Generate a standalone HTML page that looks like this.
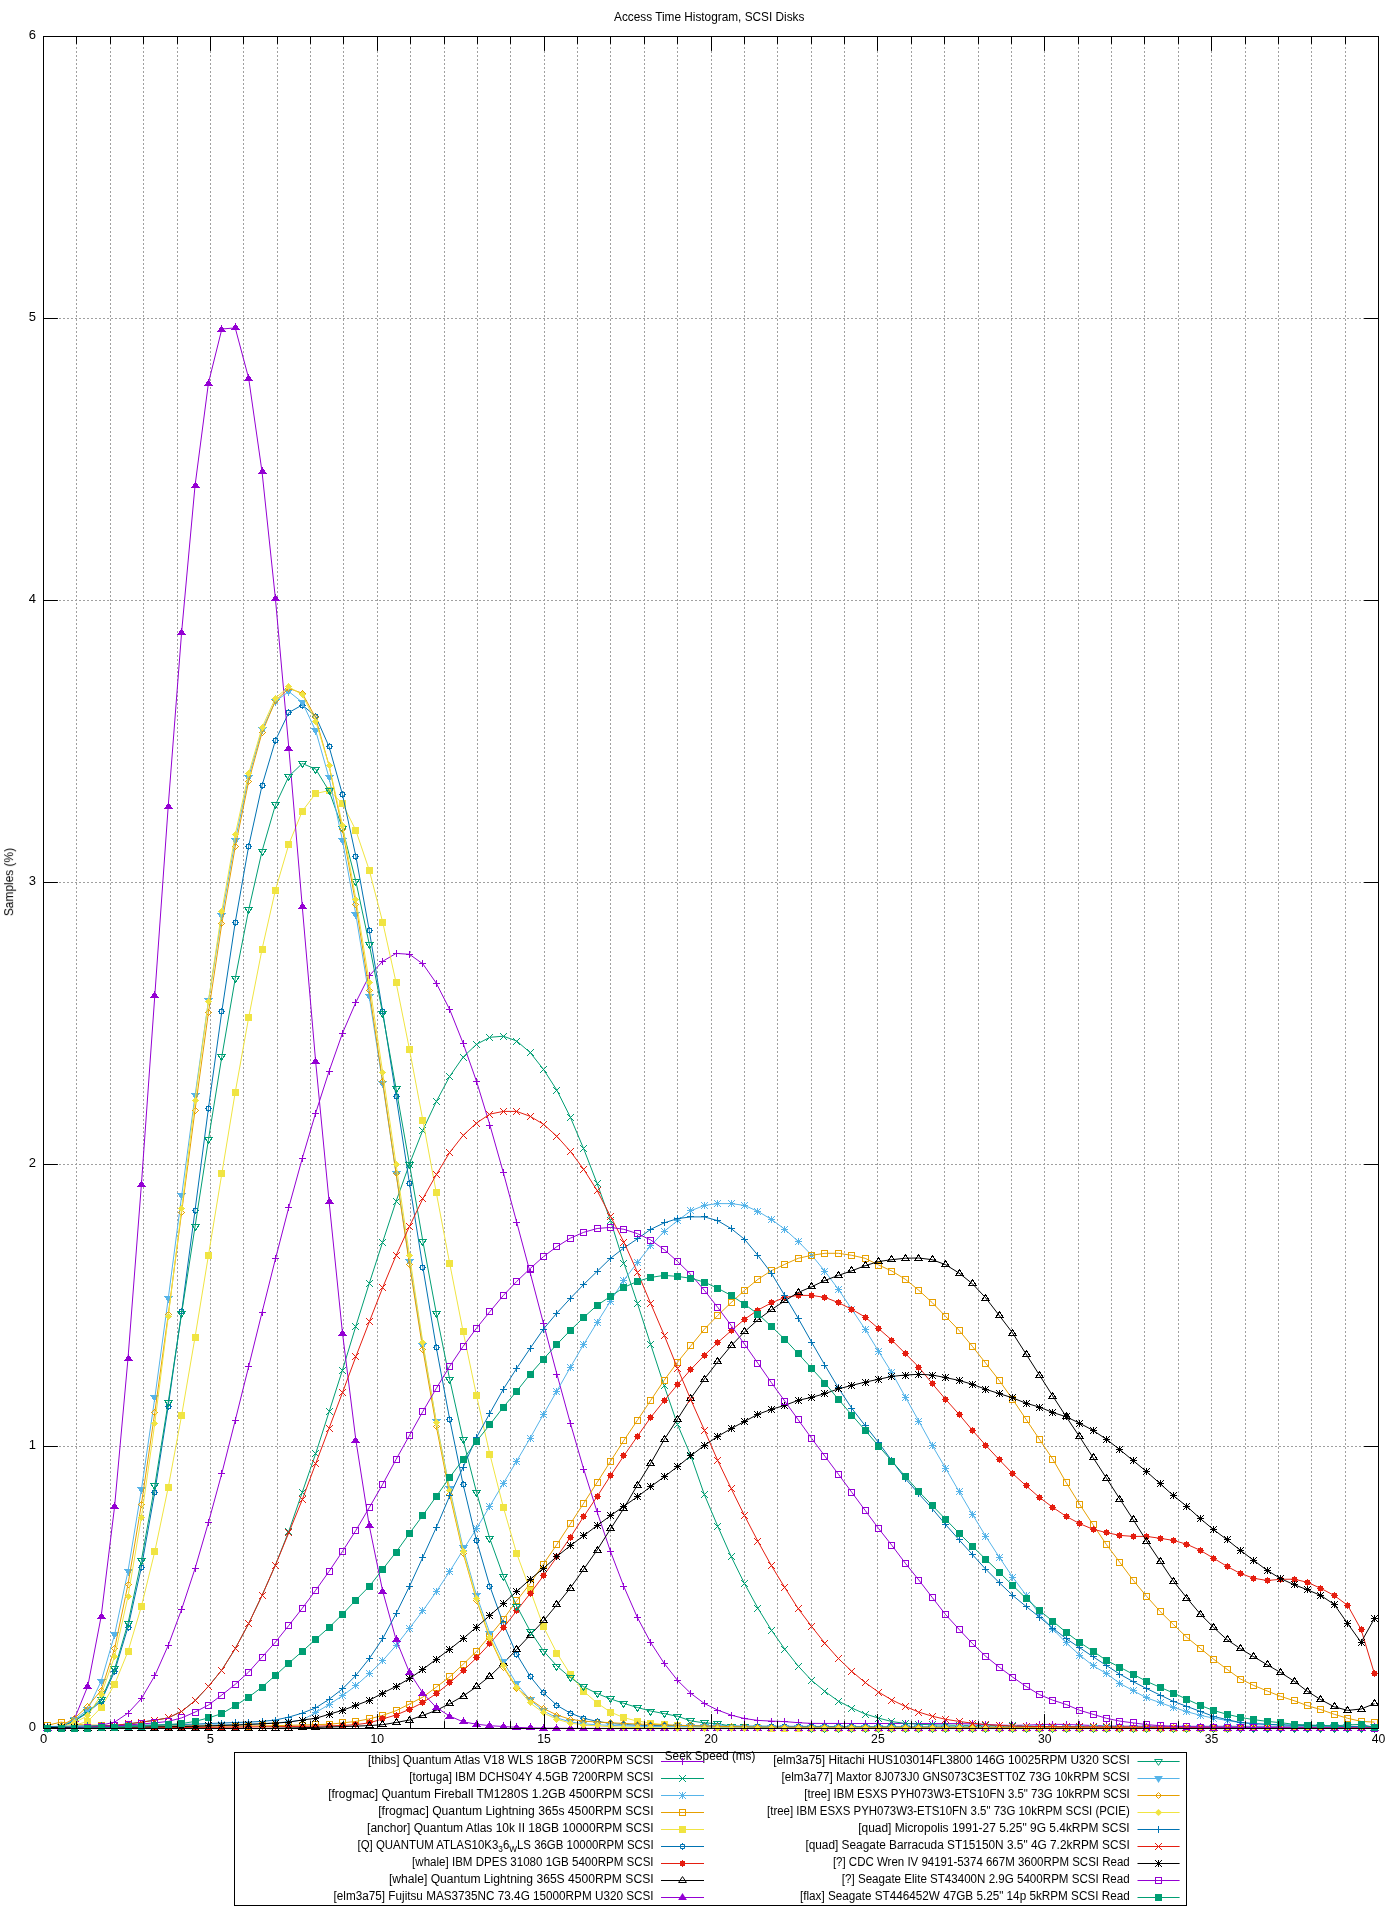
<!DOCTYPE html>
<html><head><meta charset="utf-8"><style>html,body{margin:0;padding:0;background:#fff}svg{display:block}</style></head><body>
<svg width="1400" height="1920" viewBox="0 0 1400 1920">
<rect width="1400" height="1920" fill="#fff"/>
<path d="M76.5 37V1728M110.5 37V1728M143.5 37V1728M177.5 37V1728M210.5 37V1728M243.5 37V1728M277.5 37V1728M310.5 37V1728M343.5 37V1728M377.5 37V1728M410.5 37V1728M444.5 37V1728M477.5 37V1728M510.5 37V1728M544.5 37V1728M577.5 37V1728M610.5 37V1728M644.5 37V1728M677.5 37V1728M711.5 37V1728M744.5 37V1728M777.5 37V1728M811.5 37V1728M844.5 37V1728M877.5 37V1728M911.5 37V1728M944.5 37V1728M978.5 37V1728M1011.5 37V1728M1044.5 37V1728M1078.5 37V1728M1111.5 37V1728M1144.5 37V1728M1178.5 37V1728M1211.5 37V1728M1245.5 37V1728M1278.5 37V1728M1311.5 37V1728M1345.5 37V1728" stroke="#a0a0a0" stroke-width="1" stroke-dasharray="2 2" stroke-dashoffset="2" fill="none"/>
<path d="M44 1446.5H1378M44 1164.5H1378M44 882.5H1378M44 600.5H1378M44 318.5H1378" stroke="#a0a0a0" stroke-width="1" stroke-dasharray="2 2" stroke-dashoffset="1" fill="none"/>
<g font-family="&quot;Liberation Sans&quot;, sans-serif" font-size="13" fill="#000" style="will-change:transform">
<text x="36.1" y="1730.9" text-anchor="end">0</text>
<text x="36.1" y="1448.9" text-anchor="end">1</text>
<text x="36.1" y="1166.9" text-anchor="end">2</text>
<text x="36.1" y="884.9" text-anchor="end">3</text>
<text x="36.1" y="602.9" text-anchor="end">4</text>
<text x="36.1" y="320.9" text-anchor="end">5</text>
<text x="36.1" y="38.9" text-anchor="end">6</text>
<text x="43.5" y="1743" text-anchor="middle">0</text>
<text x="210.4" y="1743" text-anchor="middle">5</text>
<text x="377.2" y="1743" text-anchor="middle" textLength="13.6" lengthAdjust="spacingAndGlyphs">10</text>
<text x="544.1" y="1743" text-anchor="middle" textLength="13.6" lengthAdjust="spacingAndGlyphs">15</text>
<text x="711.0" y="1743" text-anchor="middle" textLength="13.6" lengthAdjust="spacingAndGlyphs">20</text>
<text x="877.9" y="1743" text-anchor="middle" textLength="13.6" lengthAdjust="spacingAndGlyphs">25</text>
<text x="1044.8" y="1743" text-anchor="middle" textLength="13.6" lengthAdjust="spacingAndGlyphs">30</text>
<text x="1211.6" y="1743" text-anchor="middle" textLength="13.6" lengthAdjust="spacingAndGlyphs">35</text>
<text x="1378.5" y="1743" text-anchor="middle" textLength="13.6" lengthAdjust="spacingAndGlyphs">40</text>
<text x="709.2" y="20.9" text-anchor="middle" textLength="190.4" lengthAdjust="spacingAndGlyphs">Access Time Histogram, SCSI Disks</text>
<text x="710.1" y="1760.2" text-anchor="middle" textLength="90.6" lengthAdjust="spacingAndGlyphs">Seek Speed (ms)</text>
<text transform="translate(13.1 882.1) rotate(-90)" text-anchor="middle" textLength="68.2" lengthAdjust="spacingAndGlyphs">Samples (%)</text>
</g>
<rect x="234.5" y="1752.5" width="952" height="153" fill="none" stroke="#000" stroke-width="1"/>
<g>
<path d="M661 1761.5H704" stroke="#9400d3" stroke-width="1"/>
<path d="M679.00 1761.50h7M682.50 1758.00v7" stroke="#9400d3" fill="none"/>
<text style="will-change:transform" x="653.6" y="1763.8" text-anchor="end" font-family="&quot;Liberation Sans&quot;, sans-serif" font-size="12.5" textLength="285.7" lengthAdjust="spacingAndGlyphs">[thibs] Quantum Atlas V18 WLS 18GB 7200RPM SCSI</text>
<polyline points="47.60,1728.50 61.00,1728.39 74.41,1728.05 87.81,1727.50 101.21,1725.20 114.62,1722.10 128.02,1713.10 141.42,1698.60 154.82,1675.70 168.23,1645.40 181.63,1609.30 195.03,1568.60 208.44,1522.50 221.84,1473.30 235.24,1420.40 248.65,1366.60 262.05,1312.30 275.45,1258.90 288.85,1207.10 302.26,1158.40 315.66,1113.00 329.06,1071.30 342.47,1033.20 355.87,1002.30 369.27,975.70 382.68,961.30 396.08,953.40 409.48,954.30 422.88,963.90 436.29,983.20 449.69,1009.50 463.09,1043.20 476.50,1081.30 489.90,1125.10 503.30,1172.40 516.71,1222.30 530.11,1272.50 543.51,1323.60 556.91,1374.20 570.32,1423.00 583.72,1469.30 597.12,1511.90 610.53,1551.50 623.93,1586.70 637.33,1617.40 650.74,1642.60 664.14,1663.30 677.54,1680.40 690.94,1693.50 704.35,1703.50 717.75,1710.10 731.15,1715.10 744.56,1718.60 757.96,1720.40 771.36,1721.10 784.77,1721.60 798.17,1722.70 811.57,1723.40 824.97,1723.44 838.38,1723.47 851.78,1723.49 865.18,1723.50 878.59,1723.51 891.99,1723.51 905.39,1723.52 918.80,1723.53 932.20,1723.54 945.60,1723.57 959.00,1723.60 972.41,1723.90 985.81,1724.52 999.21,1725.13 1012.62,1725.40 1026.02,1725.11 1039.42,1724.59 1052.83,1724.30 1066.23,1724.49 1079.63,1724.96 1093.03,1725.51 1106.44,1725.99 1119.84,1726.20 1133.24,1726.22 1146.65,1726.25 1160.05,1726.27 1173.45,1726.29 1186.86,1726.30 1200.26,1726.32 1213.66,1726.33 1227.06,1726.34 1240.47,1726.35 1253.87,1726.36 1267.27,1726.37 1280.68,1726.38 1294.08,1726.39 1307.48,1726.39 1320.88,1726.39 1334.29,1726.40 1347.69,1726.40 1361.09,1726.40 1374.50,1726.40" stroke="#9400d3" stroke-width="1" fill="none" stroke-linejoin="round"/>
<g shape-rendering="crispEdges"><path d="M44.00 1728.50h7M47.50 1725.00v7" stroke="#9400d3" fill="none"/><path d="M58.00 1728.50h7M61.50 1725.00v7" stroke="#9400d3" fill="none"/><path d="M71.00 1728.50h7M74.50 1725.00v7" stroke="#9400d3" fill="none"/><path d="M84.00 1727.50h7M87.50 1724.00v7" stroke="#9400d3" fill="none"/><path d="M98.00 1725.50h7M101.50 1722.00v7" stroke="#9400d3" fill="none"/><path d="M111.00 1722.50h7M114.50 1719.00v7" stroke="#9400d3" fill="none"/><path d="M125.00 1713.50h7M128.50 1710.00v7" stroke="#9400d3" fill="none"/><path d="M138.00 1698.50h7M141.50 1695.00v7" stroke="#9400d3" fill="none"/><path d="M151.00 1675.50h7M154.50 1672.00v7" stroke="#9400d3" fill="none"/><path d="M165.00 1645.50h7M168.50 1642.00v7" stroke="#9400d3" fill="none"/><path d="M178.00 1609.50h7M181.50 1606.00v7" stroke="#9400d3" fill="none"/><path d="M192.00 1568.50h7M195.50 1565.00v7" stroke="#9400d3" fill="none"/><path d="M205.00 1522.50h7M208.50 1519.00v7" stroke="#9400d3" fill="none"/><path d="M218.00 1473.50h7M221.50 1470.00v7" stroke="#9400d3" fill="none"/><path d="M232.00 1420.50h7M235.50 1417.00v7" stroke="#9400d3" fill="none"/><path d="M245.00 1366.50h7M248.50 1363.00v7" stroke="#9400d3" fill="none"/><path d="M259.00 1312.50h7M262.50 1309.00v7" stroke="#9400d3" fill="none"/><path d="M272.00 1258.50h7M275.50 1255.00v7" stroke="#9400d3" fill="none"/><path d="M285.00 1207.50h7M288.50 1204.00v7" stroke="#9400d3" fill="none"/><path d="M299.00 1158.50h7M302.50 1155.00v7" stroke="#9400d3" fill="none"/><path d="M312.00 1113.50h7M315.50 1110.00v7" stroke="#9400d3" fill="none"/><path d="M326.00 1071.50h7M329.50 1068.00v7" stroke="#9400d3" fill="none"/><path d="M339.00 1033.50h7M342.50 1030.00v7" stroke="#9400d3" fill="none"/><path d="M352.00 1002.50h7M355.50 999.00v7" stroke="#9400d3" fill="none"/><path d="M366.00 975.50h7M369.50 972.00v7" stroke="#9400d3" fill="none"/><path d="M379.00 961.50h7M382.50 958.00v7" stroke="#9400d3" fill="none"/><path d="M393.00 953.50h7M396.50 950.00v7" stroke="#9400d3" fill="none"/><path d="M406.00 954.50h7M409.50 951.00v7" stroke="#9400d3" fill="none"/><path d="M419.00 963.50h7M422.50 960.00v7" stroke="#9400d3" fill="none"/><path d="M433.00 983.50h7M436.50 980.00v7" stroke="#9400d3" fill="none"/><path d="M446.00 1009.50h7M449.50 1006.00v7" stroke="#9400d3" fill="none"/><path d="M460.00 1043.50h7M463.50 1040.00v7" stroke="#9400d3" fill="none"/><path d="M473.00 1081.50h7M476.50 1078.00v7" stroke="#9400d3" fill="none"/><path d="M486.00 1125.50h7M489.50 1122.00v7" stroke="#9400d3" fill="none"/><path d="M500.00 1172.50h7M503.50 1169.00v7" stroke="#9400d3" fill="none"/><path d="M513.00 1222.50h7M516.50 1219.00v7" stroke="#9400d3" fill="none"/><path d="M527.00 1272.50h7M530.50 1269.00v7" stroke="#9400d3" fill="none"/><path d="M540.00 1323.50h7M543.50 1320.00v7" stroke="#9400d3" fill="none"/><path d="M553.00 1374.50h7M556.50 1371.00v7" stroke="#9400d3" fill="none"/><path d="M567.00 1423.50h7M570.50 1420.00v7" stroke="#9400d3" fill="none"/><path d="M580.00 1469.50h7M583.50 1466.00v7" stroke="#9400d3" fill="none"/><path d="M594.00 1511.50h7M597.50 1508.00v7" stroke="#9400d3" fill="none"/><path d="M607.00 1551.50h7M610.50 1548.00v7" stroke="#9400d3" fill="none"/><path d="M620.00 1586.50h7M623.50 1583.00v7" stroke="#9400d3" fill="none"/><path d="M634.00 1617.50h7M637.50 1614.00v7" stroke="#9400d3" fill="none"/><path d="M647.00 1642.50h7M650.50 1639.00v7" stroke="#9400d3" fill="none"/><path d="M661.00 1663.50h7M664.50 1660.00v7" stroke="#9400d3" fill="none"/><path d="M674.00 1680.50h7M677.50 1677.00v7" stroke="#9400d3" fill="none"/><path d="M687.00 1693.50h7M690.50 1690.00v7" stroke="#9400d3" fill="none"/><path d="M701.00 1703.50h7M704.50 1700.00v7" stroke="#9400d3" fill="none"/><path d="M714.00 1710.50h7M717.50 1707.00v7" stroke="#9400d3" fill="none"/><path d="M728.00 1715.50h7M731.50 1712.00v7" stroke="#9400d3" fill="none"/><path d="M741.00 1718.50h7M744.50 1715.00v7" stroke="#9400d3" fill="none"/><path d="M754.00 1720.50h7M757.50 1717.00v7" stroke="#9400d3" fill="none"/><path d="M768.00 1721.50h7M771.50 1718.00v7" stroke="#9400d3" fill="none"/><path d="M781.00 1721.50h7M784.50 1718.00v7" stroke="#9400d3" fill="none"/><path d="M795.00 1722.50h7M798.50 1719.00v7" stroke="#9400d3" fill="none"/><path d="M808.00 1723.50h7M811.50 1720.00v7" stroke="#9400d3" fill="none"/><path d="M821.00 1723.50h7M824.50 1720.00v7" stroke="#9400d3" fill="none"/><path d="M835.00 1723.50h7M838.50 1720.00v7" stroke="#9400d3" fill="none"/><path d="M848.00 1723.50h7M851.50 1720.00v7" stroke="#9400d3" fill="none"/><path d="M862.00 1723.50h7M865.50 1720.00v7" stroke="#9400d3" fill="none"/><path d="M875.00 1723.50h7M878.50 1720.00v7" stroke="#9400d3" fill="none"/><path d="M888.00 1723.50h7M891.50 1720.00v7" stroke="#9400d3" fill="none"/><path d="M902.00 1723.50h7M905.50 1720.00v7" stroke="#9400d3" fill="none"/><path d="M915.00 1723.50h7M918.50 1720.00v7" stroke="#9400d3" fill="none"/><path d="M929.00 1723.50h7M932.50 1720.00v7" stroke="#9400d3" fill="none"/><path d="M942.00 1723.50h7M945.50 1720.00v7" stroke="#9400d3" fill="none"/><path d="M956.00 1723.50h7M959.50 1720.00v7" stroke="#9400d3" fill="none"/><path d="M969.00 1723.50h7M972.50 1720.00v7" stroke="#9400d3" fill="none"/><path d="M982.00 1724.50h7M985.50 1721.00v7" stroke="#9400d3" fill="none"/><path d="M996.00 1725.50h7M999.50 1722.00v7" stroke="#9400d3" fill="none"/><path d="M1009.00 1725.50h7M1012.50 1722.00v7" stroke="#9400d3" fill="none"/><path d="M1023.00 1725.50h7M1026.50 1722.00v7" stroke="#9400d3" fill="none"/><path d="M1036.00 1724.50h7M1039.50 1721.00v7" stroke="#9400d3" fill="none"/><path d="M1049.00 1724.50h7M1052.50 1721.00v7" stroke="#9400d3" fill="none"/><path d="M1063.00 1724.50h7M1066.50 1721.00v7" stroke="#9400d3" fill="none"/><path d="M1076.00 1724.50h7M1079.50 1721.00v7" stroke="#9400d3" fill="none"/><path d="M1090.00 1725.50h7M1093.50 1722.00v7" stroke="#9400d3" fill="none"/><path d="M1103.00 1725.50h7M1106.50 1722.00v7" stroke="#9400d3" fill="none"/><path d="M1116.00 1726.50h7M1119.50 1723.00v7" stroke="#9400d3" fill="none"/><path d="M1130.00 1726.50h7M1133.50 1723.00v7" stroke="#9400d3" fill="none"/><path d="M1143.00 1726.50h7M1146.50 1723.00v7" stroke="#9400d3" fill="none"/><path d="M1157.00 1726.50h7M1160.50 1723.00v7" stroke="#9400d3" fill="none"/><path d="M1170.00 1726.50h7M1173.50 1723.00v7" stroke="#9400d3" fill="none"/><path d="M1183.00 1726.50h7M1186.50 1723.00v7" stroke="#9400d3" fill="none"/><path d="M1197.00 1726.50h7M1200.50 1723.00v7" stroke="#9400d3" fill="none"/><path d="M1210.00 1726.50h7M1213.50 1723.00v7" stroke="#9400d3" fill="none"/><path d="M1224.00 1726.50h7M1227.50 1723.00v7" stroke="#9400d3" fill="none"/><path d="M1237.00 1726.50h7M1240.50 1723.00v7" stroke="#9400d3" fill="none"/><path d="M1250.00 1726.50h7M1253.50 1723.00v7" stroke="#9400d3" fill="none"/><path d="M1264.00 1726.50h7M1267.50 1723.00v7" stroke="#9400d3" fill="none"/><path d="M1277.00 1726.50h7M1280.50 1723.00v7" stroke="#9400d3" fill="none"/><path d="M1291.00 1726.50h7M1294.50 1723.00v7" stroke="#9400d3" fill="none"/><path d="M1304.00 1726.50h7M1307.50 1723.00v7" stroke="#9400d3" fill="none"/><path d="M1317.00 1726.50h7M1320.50 1723.00v7" stroke="#9400d3" fill="none"/><path d="M1331.00 1726.50h7M1334.50 1723.00v7" stroke="#9400d3" fill="none"/><path d="M1344.00 1726.50h7M1347.50 1723.00v7" stroke="#9400d3" fill="none"/><path d="M1358.00 1726.50h7M1361.50 1723.00v7" stroke="#9400d3" fill="none"/><path d="M1371.00 1726.50h7M1374.50 1723.00v7" stroke="#9400d3" fill="none"/></g>
</g>
<g>
<path d="M661 1778.5H704" stroke="#009e73" stroke-width="1"/>
<path d="M679.00 1775.00l7 7M679.00 1782.00l7 -7" stroke="#009e73" fill="none"/>
<text style="will-change:transform" x="653.6" y="1780.8" text-anchor="end" font-family="&quot;Liberation Sans&quot;, sans-serif" font-size="12.5" textLength="244.3" lengthAdjust="spacingAndGlyphs">[tortuga] IBM DCHS04Y 4.5GB 7200RPM SCSI</text>
<polyline points="47.60,1728.50 61.00,1728.38 74.41,1728.01 87.81,1727.38 101.21,1726.50 114.62,1725.34 128.02,1723.91 141.42,1722.20 154.82,1720.20 168.23,1717.90 181.63,1711.40 195.03,1700.70 208.44,1686.40 221.84,1670.00 235.24,1648.60 248.65,1623.60 262.05,1595.40 275.45,1565.00 288.85,1531.10 302.26,1492.30 315.66,1453.70 329.06,1411.90 342.47,1370.00 355.87,1326.10 369.27,1283.30 382.68,1242.00 396.08,1201.30 409.48,1164.00 422.88,1130.00 436.29,1101.60 449.69,1076.40 463.09,1057.10 476.50,1044.30 489.90,1037.30 503.30,1036.20 516.71,1041.00 530.11,1052.50 543.51,1069.40 556.91,1090.30 570.32,1117.10 583.72,1148.90 597.12,1183.50 610.53,1220.70 623.93,1263.10 637.33,1303.10 650.74,1344.60 664.14,1385.70 677.54,1424.60 690.94,1456.00 704.35,1494.60 717.75,1526.30 731.15,1556.50 744.56,1583.70 757.96,1608.30 771.36,1630.10 784.77,1649.10 798.17,1666.00 811.57,1680.40 824.97,1691.40 838.38,1701.10 851.78,1708.00 865.18,1714.00 878.59,1718.10 891.99,1721.60 905.39,1723.40 918.80,1724.28 932.20,1724.80 945.60,1725.08 959.00,1725.27 972.41,1725.43 985.81,1725.60 999.21,1725.79 1012.62,1725.99 1026.02,1726.20 1039.42,1726.40 1052.83,1726.60 1066.23,1726.79 1079.63,1726.95 1093.03,1727.10 1106.44,1727.22 1119.84,1727.30 1133.24,1727.36 1146.65,1727.43 1160.05,1727.48 1173.45,1727.54 1186.86,1727.60 1200.26,1727.65 1213.66,1727.70 1227.06,1727.74 1240.47,1727.78 1253.87,1727.82 1267.27,1727.86 1280.68,1727.89 1294.08,1727.92 1307.48,1727.94 1320.88,1727.96 1334.29,1727.98 1347.69,1727.99 1361.09,1728.00 1374.50,1728.00" stroke="#009e73" stroke-width="1" fill="none" stroke-linejoin="round"/>
<g shape-rendering="crispEdges"><path d="M44.00 1725.00l7 7M44.00 1732.00l7 -7" stroke="#009e73" fill="none"/><path d="M58.00 1725.00l7 7M58.00 1732.00l7 -7" stroke="#009e73" fill="none"/><path d="M71.00 1725.00l7 7M71.00 1732.00l7 -7" stroke="#009e73" fill="none"/><path d="M84.00 1724.00l7 7M84.00 1731.00l7 -7" stroke="#009e73" fill="none"/><path d="M98.00 1723.00l7 7M98.00 1730.00l7 -7" stroke="#009e73" fill="none"/><path d="M111.00 1722.00l7 7M111.00 1729.00l7 -7" stroke="#009e73" fill="none"/><path d="M125.00 1720.00l7 7M125.00 1727.00l7 -7" stroke="#009e73" fill="none"/><path d="M138.00 1719.00l7 7M138.00 1726.00l7 -7" stroke="#009e73" fill="none"/><path d="M151.00 1717.00l7 7M151.00 1724.00l7 -7" stroke="#009e73" fill="none"/><path d="M165.00 1714.00l7 7M165.00 1721.00l7 -7" stroke="#009e73" fill="none"/><path d="M178.00 1708.00l7 7M178.00 1715.00l7 -7" stroke="#009e73" fill="none"/><path d="M192.00 1697.00l7 7M192.00 1704.00l7 -7" stroke="#009e73" fill="none"/><path d="M205.00 1683.00l7 7M205.00 1690.00l7 -7" stroke="#009e73" fill="none"/><path d="M218.00 1667.00l7 7M218.00 1674.00l7 -7" stroke="#009e73" fill="none"/><path d="M232.00 1645.00l7 7M232.00 1652.00l7 -7" stroke="#009e73" fill="none"/><path d="M245.00 1620.00l7 7M245.00 1627.00l7 -7" stroke="#009e73" fill="none"/><path d="M259.00 1592.00l7 7M259.00 1599.00l7 -7" stroke="#009e73" fill="none"/><path d="M272.00 1562.00l7 7M272.00 1569.00l7 -7" stroke="#009e73" fill="none"/><path d="M285.00 1528.00l7 7M285.00 1535.00l7 -7" stroke="#009e73" fill="none"/><path d="M299.00 1489.00l7 7M299.00 1496.00l7 -7" stroke="#009e73" fill="none"/><path d="M312.00 1450.00l7 7M312.00 1457.00l7 -7" stroke="#009e73" fill="none"/><path d="M326.00 1408.00l7 7M326.00 1415.00l7 -7" stroke="#009e73" fill="none"/><path d="M339.00 1367.00l7 7M339.00 1374.00l7 -7" stroke="#009e73" fill="none"/><path d="M352.00 1323.00l7 7M352.00 1330.00l7 -7" stroke="#009e73" fill="none"/><path d="M366.00 1280.00l7 7M366.00 1287.00l7 -7" stroke="#009e73" fill="none"/><path d="M379.00 1239.00l7 7M379.00 1246.00l7 -7" stroke="#009e73" fill="none"/><path d="M393.00 1198.00l7 7M393.00 1205.00l7 -7" stroke="#009e73" fill="none"/><path d="M406.00 1161.00l7 7M406.00 1168.00l7 -7" stroke="#009e73" fill="none"/><path d="M419.00 1127.00l7 7M419.00 1134.00l7 -7" stroke="#009e73" fill="none"/><path d="M433.00 1098.00l7 7M433.00 1105.00l7 -7" stroke="#009e73" fill="none"/><path d="M446.00 1073.00l7 7M446.00 1080.00l7 -7" stroke="#009e73" fill="none"/><path d="M460.00 1054.00l7 7M460.00 1061.00l7 -7" stroke="#009e73" fill="none"/><path d="M473.00 1041.00l7 7M473.00 1048.00l7 -7" stroke="#009e73" fill="none"/><path d="M486.00 1034.00l7 7M486.00 1041.00l7 -7" stroke="#009e73" fill="none"/><path d="M500.00 1033.00l7 7M500.00 1040.00l7 -7" stroke="#009e73" fill="none"/><path d="M513.00 1038.00l7 7M513.00 1045.00l7 -7" stroke="#009e73" fill="none"/><path d="M527.00 1049.00l7 7M527.00 1056.00l7 -7" stroke="#009e73" fill="none"/><path d="M540.00 1066.00l7 7M540.00 1073.00l7 -7" stroke="#009e73" fill="none"/><path d="M553.00 1087.00l7 7M553.00 1094.00l7 -7" stroke="#009e73" fill="none"/><path d="M567.00 1114.00l7 7M567.00 1121.00l7 -7" stroke="#009e73" fill="none"/><path d="M580.00 1145.00l7 7M580.00 1152.00l7 -7" stroke="#009e73" fill="none"/><path d="M594.00 1180.00l7 7M594.00 1187.00l7 -7" stroke="#009e73" fill="none"/><path d="M607.00 1217.00l7 7M607.00 1224.00l7 -7" stroke="#009e73" fill="none"/><path d="M620.00 1260.00l7 7M620.00 1267.00l7 -7" stroke="#009e73" fill="none"/><path d="M634.00 1300.00l7 7M634.00 1307.00l7 -7" stroke="#009e73" fill="none"/><path d="M647.00 1341.00l7 7M647.00 1348.00l7 -7" stroke="#009e73" fill="none"/><path d="M661.00 1382.00l7 7M661.00 1389.00l7 -7" stroke="#009e73" fill="none"/><path d="M674.00 1421.00l7 7M674.00 1428.00l7 -7" stroke="#009e73" fill="none"/><path d="M687.00 1453.00l7 7M687.00 1460.00l7 -7" stroke="#009e73" fill="none"/><path d="M701.00 1491.00l7 7M701.00 1498.00l7 -7" stroke="#009e73" fill="none"/><path d="M714.00 1523.00l7 7M714.00 1530.00l7 -7" stroke="#009e73" fill="none"/><path d="M728.00 1553.00l7 7M728.00 1560.00l7 -7" stroke="#009e73" fill="none"/><path d="M741.00 1580.00l7 7M741.00 1587.00l7 -7" stroke="#009e73" fill="none"/><path d="M754.00 1605.00l7 7M754.00 1612.00l7 -7" stroke="#009e73" fill="none"/><path d="M768.00 1627.00l7 7M768.00 1634.00l7 -7" stroke="#009e73" fill="none"/><path d="M781.00 1646.00l7 7M781.00 1653.00l7 -7" stroke="#009e73" fill="none"/><path d="M795.00 1663.00l7 7M795.00 1670.00l7 -7" stroke="#009e73" fill="none"/><path d="M808.00 1677.00l7 7M808.00 1684.00l7 -7" stroke="#009e73" fill="none"/><path d="M821.00 1688.00l7 7M821.00 1695.00l7 -7" stroke="#009e73" fill="none"/><path d="M835.00 1698.00l7 7M835.00 1705.00l7 -7" stroke="#009e73" fill="none"/><path d="M848.00 1705.00l7 7M848.00 1712.00l7 -7" stroke="#009e73" fill="none"/><path d="M862.00 1711.00l7 7M862.00 1718.00l7 -7" stroke="#009e73" fill="none"/><path d="M875.00 1715.00l7 7M875.00 1722.00l7 -7" stroke="#009e73" fill="none"/><path d="M888.00 1718.00l7 7M888.00 1725.00l7 -7" stroke="#009e73" fill="none"/><path d="M902.00 1720.00l7 7M902.00 1727.00l7 -7" stroke="#009e73" fill="none"/><path d="M915.00 1721.00l7 7M915.00 1728.00l7 -7" stroke="#009e73" fill="none"/><path d="M929.00 1721.00l7 7M929.00 1728.00l7 -7" stroke="#009e73" fill="none"/><path d="M942.00 1722.00l7 7M942.00 1729.00l7 -7" stroke="#009e73" fill="none"/><path d="M956.00 1722.00l7 7M956.00 1729.00l7 -7" stroke="#009e73" fill="none"/><path d="M969.00 1722.00l7 7M969.00 1729.00l7 -7" stroke="#009e73" fill="none"/><path d="M982.00 1722.00l7 7M982.00 1729.00l7 -7" stroke="#009e73" fill="none"/><path d="M996.00 1722.00l7 7M996.00 1729.00l7 -7" stroke="#009e73" fill="none"/><path d="M1009.00 1722.00l7 7M1009.00 1729.00l7 -7" stroke="#009e73" fill="none"/><path d="M1023.00 1723.00l7 7M1023.00 1730.00l7 -7" stroke="#009e73" fill="none"/><path d="M1036.00 1723.00l7 7M1036.00 1730.00l7 -7" stroke="#009e73" fill="none"/><path d="M1049.00 1723.00l7 7M1049.00 1730.00l7 -7" stroke="#009e73" fill="none"/><path d="M1063.00 1723.00l7 7M1063.00 1730.00l7 -7" stroke="#009e73" fill="none"/><path d="M1076.00 1723.00l7 7M1076.00 1730.00l7 -7" stroke="#009e73" fill="none"/><path d="M1090.00 1724.00l7 7M1090.00 1731.00l7 -7" stroke="#009e73" fill="none"/><path d="M1103.00 1724.00l7 7M1103.00 1731.00l7 -7" stroke="#009e73" fill="none"/><path d="M1116.00 1724.00l7 7M1116.00 1731.00l7 -7" stroke="#009e73" fill="none"/><path d="M1130.00 1724.00l7 7M1130.00 1731.00l7 -7" stroke="#009e73" fill="none"/><path d="M1143.00 1724.00l7 7M1143.00 1731.00l7 -7" stroke="#009e73" fill="none"/><path d="M1157.00 1724.00l7 7M1157.00 1731.00l7 -7" stroke="#009e73" fill="none"/><path d="M1170.00 1724.00l7 7M1170.00 1731.00l7 -7" stroke="#009e73" fill="none"/><path d="M1183.00 1724.00l7 7M1183.00 1731.00l7 -7" stroke="#009e73" fill="none"/><path d="M1197.00 1724.00l7 7M1197.00 1731.00l7 -7" stroke="#009e73" fill="none"/><path d="M1210.00 1724.00l7 7M1210.00 1731.00l7 -7" stroke="#009e73" fill="none"/><path d="M1224.00 1724.00l7 7M1224.00 1731.00l7 -7" stroke="#009e73" fill="none"/><path d="M1237.00 1724.00l7 7M1237.00 1731.00l7 -7" stroke="#009e73" fill="none"/><path d="M1250.00 1724.00l7 7M1250.00 1731.00l7 -7" stroke="#009e73" fill="none"/><path d="M1264.00 1724.00l7 7M1264.00 1731.00l7 -7" stroke="#009e73" fill="none"/><path d="M1277.00 1724.00l7 7M1277.00 1731.00l7 -7" stroke="#009e73" fill="none"/><path d="M1291.00 1724.00l7 7M1291.00 1731.00l7 -7" stroke="#009e73" fill="none"/><path d="M1304.00 1724.00l7 7M1304.00 1731.00l7 -7" stroke="#009e73" fill="none"/><path d="M1317.00 1724.00l7 7M1317.00 1731.00l7 -7" stroke="#009e73" fill="none"/><path d="M1331.00 1724.00l7 7M1331.00 1731.00l7 -7" stroke="#009e73" fill="none"/><path d="M1344.00 1724.00l7 7M1344.00 1731.00l7 -7" stroke="#009e73" fill="none"/><path d="M1358.00 1724.00l7 7M1358.00 1731.00l7 -7" stroke="#009e73" fill="none"/><path d="M1371.00 1725.00l7 7M1371.00 1732.00l7 -7" stroke="#009e73" fill="none"/></g>
</g>
<g>
<path d="M661 1795.5H704" stroke="#56b4e9" stroke-width="1"/>
<path d="M679.00 1795.50h7M682.50 1792.00v7M679.00 1792.00l7 7M679.00 1799.00l7 -7" stroke="#56b4e9" fill="none"/>
<text style="will-change:transform" x="653.6" y="1797.8" text-anchor="end" font-family="&quot;Liberation Sans&quot;, sans-serif" font-size="12.5" textLength="325.4" lengthAdjust="spacingAndGlyphs">[frogmac] Quantum Fireball TM1280S 1.2GB 4500RPM SCSI</text>
<polyline points="47.60,1727.00 61.00,1726.95 74.41,1726.87 87.81,1726.76 101.21,1726.63 114.62,1726.47 128.02,1726.30 141.42,1726.12 154.82,1725.92 168.23,1725.71 181.63,1725.50 195.03,1725.28 208.44,1725.04 221.84,1724.75 235.24,1724.41 248.65,1724.00 262.05,1723.50 275.45,1722.86 288.85,1721.81 302.26,1720.00 315.66,1712.50 329.06,1704.60 342.47,1695.70 355.87,1685.70 369.27,1673.60 382.68,1660.70 396.08,1645.40 409.48,1628.30 422.88,1610.70 436.29,1591.70 449.69,1571.40 463.09,1550.00 476.50,1528.60 489.90,1506.10 503.30,1483.40 516.71,1461.00 530.11,1438.20 543.51,1414.20 556.91,1391.00 570.32,1367.40 583.72,1344.30 597.12,1322.40 610.53,1301.10 623.93,1280.00 637.33,1262.60 650.74,1245.70 664.14,1231.40 677.54,1220.70 690.94,1210.70 704.35,1205.40 717.75,1203.60 731.15,1203.60 744.56,1205.40 757.96,1211.40 771.36,1219.30 784.77,1229.30 798.17,1241.40 811.57,1255.00 824.97,1271.40 838.38,1289.30 851.78,1309.30 865.18,1329.30 878.59,1351.40 891.99,1372.90 905.39,1397.10 918.80,1421.10 932.20,1445.40 945.60,1468.30 959.00,1491.40 972.41,1514.30 985.81,1536.40 999.21,1557.10 1012.62,1577.10 1026.02,1595.00 1039.42,1614.30 1052.83,1629.00 1066.23,1642.90 1079.63,1655.00 1093.03,1665.70 1106.44,1673.60 1119.84,1683.40 1133.24,1690.70 1146.65,1697.90 1160.05,1702.60 1173.45,1707.40 1186.86,1711.70 1200.26,1715.30 1213.66,1718.20 1227.06,1720.50 1240.47,1722.60 1253.87,1723.67 1267.27,1724.45 1280.68,1725.00 1294.08,1725.40 1307.48,1725.70 1320.88,1726.00 1334.29,1726.33 1347.69,1726.65 1361.09,1726.98 1374.50,1727.30" stroke="#56b4e9" stroke-width="1" fill="none" stroke-linejoin="round"/>
<g shape-rendering="crispEdges"><path d="M44.00 1727.50h7M47.50 1724.00v7M44.00 1724.00l7 7M44.00 1731.00l7 -7" stroke="#56b4e9" fill="none"/><path d="M58.00 1726.50h7M61.50 1723.00v7M58.00 1723.00l7 7M58.00 1730.00l7 -7" stroke="#56b4e9" fill="none"/><path d="M71.00 1726.50h7M74.50 1723.00v7M71.00 1723.00l7 7M71.00 1730.00l7 -7" stroke="#56b4e9" fill="none"/><path d="M84.00 1726.50h7M87.50 1723.00v7M84.00 1723.00l7 7M84.00 1730.00l7 -7" stroke="#56b4e9" fill="none"/><path d="M98.00 1726.50h7M101.50 1723.00v7M98.00 1723.00l7 7M98.00 1730.00l7 -7" stroke="#56b4e9" fill="none"/><path d="M111.00 1726.50h7M114.50 1723.00v7M111.00 1723.00l7 7M111.00 1730.00l7 -7" stroke="#56b4e9" fill="none"/><path d="M125.00 1726.50h7M128.50 1723.00v7M125.00 1723.00l7 7M125.00 1730.00l7 -7" stroke="#56b4e9" fill="none"/><path d="M138.00 1726.50h7M141.50 1723.00v7M138.00 1723.00l7 7M138.00 1730.00l7 -7" stroke="#56b4e9" fill="none"/><path d="M151.00 1725.50h7M154.50 1722.00v7M151.00 1722.00l7 7M151.00 1729.00l7 -7" stroke="#56b4e9" fill="none"/><path d="M165.00 1725.50h7M168.50 1722.00v7M165.00 1722.00l7 7M165.00 1729.00l7 -7" stroke="#56b4e9" fill="none"/><path d="M178.00 1725.50h7M181.50 1722.00v7M178.00 1722.00l7 7M178.00 1729.00l7 -7" stroke="#56b4e9" fill="none"/><path d="M192.00 1725.50h7M195.50 1722.00v7M192.00 1722.00l7 7M192.00 1729.00l7 -7" stroke="#56b4e9" fill="none"/><path d="M205.00 1725.50h7M208.50 1722.00v7M205.00 1722.00l7 7M205.00 1729.00l7 -7" stroke="#56b4e9" fill="none"/><path d="M218.00 1724.50h7M221.50 1721.00v7M218.00 1721.00l7 7M218.00 1728.00l7 -7" stroke="#56b4e9" fill="none"/><path d="M232.00 1724.50h7M235.50 1721.00v7M232.00 1721.00l7 7M232.00 1728.00l7 -7" stroke="#56b4e9" fill="none"/><path d="M245.00 1724.50h7M248.50 1721.00v7M245.00 1721.00l7 7M245.00 1728.00l7 -7" stroke="#56b4e9" fill="none"/><path d="M259.00 1723.50h7M262.50 1720.00v7M259.00 1720.00l7 7M259.00 1727.00l7 -7" stroke="#56b4e9" fill="none"/><path d="M272.00 1722.50h7M275.50 1719.00v7M272.00 1719.00l7 7M272.00 1726.00l7 -7" stroke="#56b4e9" fill="none"/><path d="M285.00 1721.50h7M288.50 1718.00v7M285.00 1718.00l7 7M285.00 1725.00l7 -7" stroke="#56b4e9" fill="none"/><path d="M299.00 1720.50h7M302.50 1717.00v7M299.00 1717.00l7 7M299.00 1724.00l7 -7" stroke="#56b4e9" fill="none"/><path d="M312.00 1712.50h7M315.50 1709.00v7M312.00 1709.00l7 7M312.00 1716.00l7 -7" stroke="#56b4e9" fill="none"/><path d="M326.00 1704.50h7M329.50 1701.00v7M326.00 1701.00l7 7M326.00 1708.00l7 -7" stroke="#56b4e9" fill="none"/><path d="M339.00 1695.50h7M342.50 1692.00v7M339.00 1692.00l7 7M339.00 1699.00l7 -7" stroke="#56b4e9" fill="none"/><path d="M352.00 1685.50h7M355.50 1682.00v7M352.00 1682.00l7 7M352.00 1689.00l7 -7" stroke="#56b4e9" fill="none"/><path d="M366.00 1673.50h7M369.50 1670.00v7M366.00 1670.00l7 7M366.00 1677.00l7 -7" stroke="#56b4e9" fill="none"/><path d="M379.00 1660.50h7M382.50 1657.00v7M379.00 1657.00l7 7M379.00 1664.00l7 -7" stroke="#56b4e9" fill="none"/><path d="M393.00 1645.50h7M396.50 1642.00v7M393.00 1642.00l7 7M393.00 1649.00l7 -7" stroke="#56b4e9" fill="none"/><path d="M406.00 1628.50h7M409.50 1625.00v7M406.00 1625.00l7 7M406.00 1632.00l7 -7" stroke="#56b4e9" fill="none"/><path d="M419.00 1610.50h7M422.50 1607.00v7M419.00 1607.00l7 7M419.00 1614.00l7 -7" stroke="#56b4e9" fill="none"/><path d="M433.00 1591.50h7M436.50 1588.00v7M433.00 1588.00l7 7M433.00 1595.00l7 -7" stroke="#56b4e9" fill="none"/><path d="M446.00 1571.50h7M449.50 1568.00v7M446.00 1568.00l7 7M446.00 1575.00l7 -7" stroke="#56b4e9" fill="none"/><path d="M460.00 1550.50h7M463.50 1547.00v7M460.00 1547.00l7 7M460.00 1554.00l7 -7" stroke="#56b4e9" fill="none"/><path d="M473.00 1528.50h7M476.50 1525.00v7M473.00 1525.00l7 7M473.00 1532.00l7 -7" stroke="#56b4e9" fill="none"/><path d="M486.00 1506.50h7M489.50 1503.00v7M486.00 1503.00l7 7M486.00 1510.00l7 -7" stroke="#56b4e9" fill="none"/><path d="M500.00 1483.50h7M503.50 1480.00v7M500.00 1480.00l7 7M500.00 1487.00l7 -7" stroke="#56b4e9" fill="none"/><path d="M513.00 1461.50h7M516.50 1458.00v7M513.00 1458.00l7 7M513.00 1465.00l7 -7" stroke="#56b4e9" fill="none"/><path d="M527.00 1438.50h7M530.50 1435.00v7M527.00 1435.00l7 7M527.00 1442.00l7 -7" stroke="#56b4e9" fill="none"/><path d="M540.00 1414.50h7M543.50 1411.00v7M540.00 1411.00l7 7M540.00 1418.00l7 -7" stroke="#56b4e9" fill="none"/><path d="M553.00 1391.50h7M556.50 1388.00v7M553.00 1388.00l7 7M553.00 1395.00l7 -7" stroke="#56b4e9" fill="none"/><path d="M567.00 1367.50h7M570.50 1364.00v7M567.00 1364.00l7 7M567.00 1371.00l7 -7" stroke="#56b4e9" fill="none"/><path d="M580.00 1344.50h7M583.50 1341.00v7M580.00 1341.00l7 7M580.00 1348.00l7 -7" stroke="#56b4e9" fill="none"/><path d="M594.00 1322.50h7M597.50 1319.00v7M594.00 1319.00l7 7M594.00 1326.00l7 -7" stroke="#56b4e9" fill="none"/><path d="M607.00 1301.50h7M610.50 1298.00v7M607.00 1298.00l7 7M607.00 1305.00l7 -7" stroke="#56b4e9" fill="none"/><path d="M620.00 1280.50h7M623.50 1277.00v7M620.00 1277.00l7 7M620.00 1284.00l7 -7" stroke="#56b4e9" fill="none"/><path d="M634.00 1262.50h7M637.50 1259.00v7M634.00 1259.00l7 7M634.00 1266.00l7 -7" stroke="#56b4e9" fill="none"/><path d="M647.00 1245.50h7M650.50 1242.00v7M647.00 1242.00l7 7M647.00 1249.00l7 -7" stroke="#56b4e9" fill="none"/><path d="M661.00 1231.50h7M664.50 1228.00v7M661.00 1228.00l7 7M661.00 1235.00l7 -7" stroke="#56b4e9" fill="none"/><path d="M674.00 1220.50h7M677.50 1217.00v7M674.00 1217.00l7 7M674.00 1224.00l7 -7" stroke="#56b4e9" fill="none"/><path d="M687.00 1210.50h7M690.50 1207.00v7M687.00 1207.00l7 7M687.00 1214.00l7 -7" stroke="#56b4e9" fill="none"/><path d="M701.00 1205.50h7M704.50 1202.00v7M701.00 1202.00l7 7M701.00 1209.00l7 -7" stroke="#56b4e9" fill="none"/><path d="M714.00 1203.50h7M717.50 1200.00v7M714.00 1200.00l7 7M714.00 1207.00l7 -7" stroke="#56b4e9" fill="none"/><path d="M728.00 1203.50h7M731.50 1200.00v7M728.00 1200.00l7 7M728.00 1207.00l7 -7" stroke="#56b4e9" fill="none"/><path d="M741.00 1205.50h7M744.50 1202.00v7M741.00 1202.00l7 7M741.00 1209.00l7 -7" stroke="#56b4e9" fill="none"/><path d="M754.00 1211.50h7M757.50 1208.00v7M754.00 1208.00l7 7M754.00 1215.00l7 -7" stroke="#56b4e9" fill="none"/><path d="M768.00 1219.50h7M771.50 1216.00v7M768.00 1216.00l7 7M768.00 1223.00l7 -7" stroke="#56b4e9" fill="none"/><path d="M781.00 1229.50h7M784.50 1226.00v7M781.00 1226.00l7 7M781.00 1233.00l7 -7" stroke="#56b4e9" fill="none"/><path d="M795.00 1241.50h7M798.50 1238.00v7M795.00 1238.00l7 7M795.00 1245.00l7 -7" stroke="#56b4e9" fill="none"/><path d="M808.00 1255.50h7M811.50 1252.00v7M808.00 1252.00l7 7M808.00 1259.00l7 -7" stroke="#56b4e9" fill="none"/><path d="M821.00 1271.50h7M824.50 1268.00v7M821.00 1268.00l7 7M821.00 1275.00l7 -7" stroke="#56b4e9" fill="none"/><path d="M835.00 1289.50h7M838.50 1286.00v7M835.00 1286.00l7 7M835.00 1293.00l7 -7" stroke="#56b4e9" fill="none"/><path d="M848.00 1309.50h7M851.50 1306.00v7M848.00 1306.00l7 7M848.00 1313.00l7 -7" stroke="#56b4e9" fill="none"/><path d="M862.00 1329.50h7M865.50 1326.00v7M862.00 1326.00l7 7M862.00 1333.00l7 -7" stroke="#56b4e9" fill="none"/><path d="M875.00 1351.50h7M878.50 1348.00v7M875.00 1348.00l7 7M875.00 1355.00l7 -7" stroke="#56b4e9" fill="none"/><path d="M888.00 1372.50h7M891.50 1369.00v7M888.00 1369.00l7 7M888.00 1376.00l7 -7" stroke="#56b4e9" fill="none"/><path d="M902.00 1397.50h7M905.50 1394.00v7M902.00 1394.00l7 7M902.00 1401.00l7 -7" stroke="#56b4e9" fill="none"/><path d="M915.00 1421.50h7M918.50 1418.00v7M915.00 1418.00l7 7M915.00 1425.00l7 -7" stroke="#56b4e9" fill="none"/><path d="M929.00 1445.50h7M932.50 1442.00v7M929.00 1442.00l7 7M929.00 1449.00l7 -7" stroke="#56b4e9" fill="none"/><path d="M942.00 1468.50h7M945.50 1465.00v7M942.00 1465.00l7 7M942.00 1472.00l7 -7" stroke="#56b4e9" fill="none"/><path d="M956.00 1491.50h7M959.50 1488.00v7M956.00 1488.00l7 7M956.00 1495.00l7 -7" stroke="#56b4e9" fill="none"/><path d="M969.00 1514.50h7M972.50 1511.00v7M969.00 1511.00l7 7M969.00 1518.00l7 -7" stroke="#56b4e9" fill="none"/><path d="M982.00 1536.50h7M985.50 1533.00v7M982.00 1533.00l7 7M982.00 1540.00l7 -7" stroke="#56b4e9" fill="none"/><path d="M996.00 1557.50h7M999.50 1554.00v7M996.00 1554.00l7 7M996.00 1561.00l7 -7" stroke="#56b4e9" fill="none"/><path d="M1009.00 1577.50h7M1012.50 1574.00v7M1009.00 1574.00l7 7M1009.00 1581.00l7 -7" stroke="#56b4e9" fill="none"/><path d="M1023.00 1595.50h7M1026.50 1592.00v7M1023.00 1592.00l7 7M1023.00 1599.00l7 -7" stroke="#56b4e9" fill="none"/><path d="M1036.00 1614.50h7M1039.50 1611.00v7M1036.00 1611.00l7 7M1036.00 1618.00l7 -7" stroke="#56b4e9" fill="none"/><path d="M1049.00 1629.50h7M1052.50 1626.00v7M1049.00 1626.00l7 7M1049.00 1633.00l7 -7" stroke="#56b4e9" fill="none"/><path d="M1063.00 1642.50h7M1066.50 1639.00v7M1063.00 1639.00l7 7M1063.00 1646.00l7 -7" stroke="#56b4e9" fill="none"/><path d="M1076.00 1655.50h7M1079.50 1652.00v7M1076.00 1652.00l7 7M1076.00 1659.00l7 -7" stroke="#56b4e9" fill="none"/><path d="M1090.00 1665.50h7M1093.50 1662.00v7M1090.00 1662.00l7 7M1090.00 1669.00l7 -7" stroke="#56b4e9" fill="none"/><path d="M1103.00 1673.50h7M1106.50 1670.00v7M1103.00 1670.00l7 7M1103.00 1677.00l7 -7" stroke="#56b4e9" fill="none"/><path d="M1116.00 1683.50h7M1119.50 1680.00v7M1116.00 1680.00l7 7M1116.00 1687.00l7 -7" stroke="#56b4e9" fill="none"/><path d="M1130.00 1690.50h7M1133.50 1687.00v7M1130.00 1687.00l7 7M1130.00 1694.00l7 -7" stroke="#56b4e9" fill="none"/><path d="M1143.00 1697.50h7M1146.50 1694.00v7M1143.00 1694.00l7 7M1143.00 1701.00l7 -7" stroke="#56b4e9" fill="none"/><path d="M1157.00 1702.50h7M1160.50 1699.00v7M1157.00 1699.00l7 7M1157.00 1706.00l7 -7" stroke="#56b4e9" fill="none"/><path d="M1170.00 1707.50h7M1173.50 1704.00v7M1170.00 1704.00l7 7M1170.00 1711.00l7 -7" stroke="#56b4e9" fill="none"/><path d="M1183.00 1711.50h7M1186.50 1708.00v7M1183.00 1708.00l7 7M1183.00 1715.00l7 -7" stroke="#56b4e9" fill="none"/><path d="M1197.00 1715.50h7M1200.50 1712.00v7M1197.00 1712.00l7 7M1197.00 1719.00l7 -7" stroke="#56b4e9" fill="none"/><path d="M1210.00 1718.50h7M1213.50 1715.00v7M1210.00 1715.00l7 7M1210.00 1722.00l7 -7" stroke="#56b4e9" fill="none"/><path d="M1224.00 1720.50h7M1227.50 1717.00v7M1224.00 1717.00l7 7M1224.00 1724.00l7 -7" stroke="#56b4e9" fill="none"/><path d="M1237.00 1722.50h7M1240.50 1719.00v7M1237.00 1719.00l7 7M1237.00 1726.00l7 -7" stroke="#56b4e9" fill="none"/><path d="M1250.00 1723.50h7M1253.50 1720.00v7M1250.00 1720.00l7 7M1250.00 1727.00l7 -7" stroke="#56b4e9" fill="none"/><path d="M1264.00 1724.50h7M1267.50 1721.00v7M1264.00 1721.00l7 7M1264.00 1728.00l7 -7" stroke="#56b4e9" fill="none"/><path d="M1277.00 1725.50h7M1280.50 1722.00v7M1277.00 1722.00l7 7M1277.00 1729.00l7 -7" stroke="#56b4e9" fill="none"/><path d="M1291.00 1725.50h7M1294.50 1722.00v7M1291.00 1722.00l7 7M1291.00 1729.00l7 -7" stroke="#56b4e9" fill="none"/><path d="M1304.00 1725.50h7M1307.50 1722.00v7M1304.00 1722.00l7 7M1304.00 1729.00l7 -7" stroke="#56b4e9" fill="none"/><path d="M1317.00 1726.50h7M1320.50 1723.00v7M1317.00 1723.00l7 7M1317.00 1730.00l7 -7" stroke="#56b4e9" fill="none"/><path d="M1331.00 1726.50h7M1334.50 1723.00v7M1331.00 1723.00l7 7M1331.00 1730.00l7 -7" stroke="#56b4e9" fill="none"/><path d="M1344.00 1726.50h7M1347.50 1723.00v7M1344.00 1723.00l7 7M1344.00 1730.00l7 -7" stroke="#56b4e9" fill="none"/><path d="M1358.00 1726.50h7M1361.50 1723.00v7M1358.00 1723.00l7 7M1358.00 1730.00l7 -7" stroke="#56b4e9" fill="none"/><path d="M1371.00 1727.50h7M1374.50 1724.00v7M1371.00 1724.00l7 7M1371.00 1731.00l7 -7" stroke="#56b4e9" fill="none"/></g>
</g>
<g>
<path d="M661 1812.5H704" stroke="#e69f00" stroke-width="1"/>
<rect x="679.50" y="1809.50" width="6" height="6" stroke="#e69f00" fill="none"/>
<text style="will-change:transform" x="653.6" y="1814.8" text-anchor="end" font-family="&quot;Liberation Sans&quot;, sans-serif" font-size="12.5" textLength="275.4" lengthAdjust="spacingAndGlyphs">[frogmac] Quantum Lightning 365s 4500RPM SCSI</text>
<polyline points="47.60,1725.30 61.00,1722.10 74.41,1724.50 87.81,1725.02 101.21,1725.32 114.62,1725.50 128.02,1725.66 141.42,1725.79 154.82,1725.90 168.23,1725.97 181.63,1726.00 195.03,1726.00 208.44,1726.00 221.84,1726.00 235.24,1726.00 248.65,1726.00 262.05,1725.90 275.45,1725.66 288.85,1725.34 302.26,1725.00 315.66,1724.60 329.06,1724.30 342.47,1722.90 355.87,1721.40 369.27,1718.90 382.68,1715.40 396.08,1710.70 409.48,1704.00 422.88,1697.10 436.29,1687.10 449.69,1676.90 463.09,1664.30 476.50,1651.40 489.90,1635.70 503.30,1619.30 516.71,1600.70 530.11,1583.60 543.51,1564.00 556.91,1544.30 570.32,1523.89 583.72,1503.20 597.12,1482.50 610.53,1461.30 623.93,1440.30 637.33,1420.40 650.74,1400.30 664.14,1380.30 677.54,1362.10 690.94,1345.70 704.35,1329.30 717.75,1315.40 731.15,1302.60 744.56,1290.30 757.96,1279.30 771.36,1270.70 784.77,1264.30 798.17,1258.30 811.57,1255.30 824.97,1253.30 838.38,1253.30 851.78,1255.30 865.18,1258.30 878.59,1265.00 891.99,1271.10 905.39,1279.30 918.80,1290.30 932.20,1302.60 945.60,1316.40 959.00,1330.30 972.41,1346.40 985.81,1363.30 999.21,1380.40 1012.62,1399.30 1026.02,1419.30 1039.42,1439.30 1052.83,1459.30 1066.23,1482.60 1079.63,1504.30 1093.03,1524.60 1106.44,1544.60 1119.84,1562.40 1133.24,1580.30 1146.65,1596.40 1160.05,1611.40 1173.45,1624.60 1186.86,1637.40 1200.26,1648.30 1213.66,1659.30 1227.06,1669.30 1240.47,1679.00 1253.87,1685.50 1267.27,1691.00 1280.68,1696.40 1294.08,1700.70 1307.48,1705.70 1320.88,1709.60 1334.29,1714.30 1347.69,1718.30 1361.09,1721.40 1374.50,1722.10" stroke="#e69f00" stroke-width="1" fill="none" stroke-linejoin="round"/>
<g shape-rendering="crispEdges"><rect x="44.50" y="1722.50" width="6" height="6" stroke="#e69f00" fill="none"/><rect x="58.50" y="1719.50" width="6" height="6" stroke="#e69f00" fill="none"/><rect x="71.50" y="1721.50" width="6" height="6" stroke="#e69f00" fill="none"/><rect x="84.50" y="1722.50" width="6" height="6" stroke="#e69f00" fill="none"/><rect x="98.50" y="1722.50" width="6" height="6" stroke="#e69f00" fill="none"/><rect x="111.50" y="1722.50" width="6" height="6" stroke="#e69f00" fill="none"/><rect x="125.50" y="1722.50" width="6" height="6" stroke="#e69f00" fill="none"/><rect x="138.50" y="1722.50" width="6" height="6" stroke="#e69f00" fill="none"/><rect x="151.50" y="1722.50" width="6" height="6" stroke="#e69f00" fill="none"/><rect x="165.50" y="1722.50" width="6" height="6" stroke="#e69f00" fill="none"/><rect x="178.50" y="1723.50" width="6" height="6" stroke="#e69f00" fill="none"/><rect x="192.50" y="1723.50" width="6" height="6" stroke="#e69f00" fill="none"/><rect x="205.50" y="1723.50" width="6" height="6" stroke="#e69f00" fill="none"/><rect x="218.50" y="1723.50" width="6" height="6" stroke="#e69f00" fill="none"/><rect x="232.50" y="1723.50" width="6" height="6" stroke="#e69f00" fill="none"/><rect x="245.50" y="1723.50" width="6" height="6" stroke="#e69f00" fill="none"/><rect x="259.50" y="1722.50" width="6" height="6" stroke="#e69f00" fill="none"/><rect x="272.50" y="1722.50" width="6" height="6" stroke="#e69f00" fill="none"/><rect x="285.50" y="1722.50" width="6" height="6" stroke="#e69f00" fill="none"/><rect x="299.50" y="1722.50" width="6" height="6" stroke="#e69f00" fill="none"/><rect x="312.50" y="1721.50" width="6" height="6" stroke="#e69f00" fill="none"/><rect x="326.50" y="1721.50" width="6" height="6" stroke="#e69f00" fill="none"/><rect x="339.50" y="1719.50" width="6" height="6" stroke="#e69f00" fill="none"/><rect x="352.50" y="1718.50" width="6" height="6" stroke="#e69f00" fill="none"/><rect x="366.50" y="1715.50" width="6" height="6" stroke="#e69f00" fill="none"/><rect x="379.50" y="1712.50" width="6" height="6" stroke="#e69f00" fill="none"/><rect x="393.50" y="1707.50" width="6" height="6" stroke="#e69f00" fill="none"/><rect x="406.50" y="1701.50" width="6" height="6" stroke="#e69f00" fill="none"/><rect x="419.50" y="1694.50" width="6" height="6" stroke="#e69f00" fill="none"/><rect x="433.50" y="1684.50" width="6" height="6" stroke="#e69f00" fill="none"/><rect x="446.50" y="1673.50" width="6" height="6" stroke="#e69f00" fill="none"/><rect x="460.50" y="1661.50" width="6" height="6" stroke="#e69f00" fill="none"/><rect x="473.50" y="1648.50" width="6" height="6" stroke="#e69f00" fill="none"/><rect x="486.50" y="1632.50" width="6" height="6" stroke="#e69f00" fill="none"/><rect x="500.50" y="1616.50" width="6" height="6" stroke="#e69f00" fill="none"/><rect x="513.50" y="1597.50" width="6" height="6" stroke="#e69f00" fill="none"/><rect x="527.50" y="1580.50" width="6" height="6" stroke="#e69f00" fill="none"/><rect x="540.50" y="1561.50" width="6" height="6" stroke="#e69f00" fill="none"/><rect x="553.50" y="1541.50" width="6" height="6" stroke="#e69f00" fill="none"/><rect x="567.50" y="1520.50" width="6" height="6" stroke="#e69f00" fill="none"/><rect x="580.50" y="1500.50" width="6" height="6" stroke="#e69f00" fill="none"/><rect x="594.50" y="1479.50" width="6" height="6" stroke="#e69f00" fill="none"/><rect x="607.50" y="1458.50" width="6" height="6" stroke="#e69f00" fill="none"/><rect x="620.50" y="1437.50" width="6" height="6" stroke="#e69f00" fill="none"/><rect x="634.50" y="1417.50" width="6" height="6" stroke="#e69f00" fill="none"/><rect x="647.50" y="1397.50" width="6" height="6" stroke="#e69f00" fill="none"/><rect x="661.50" y="1377.50" width="6" height="6" stroke="#e69f00" fill="none"/><rect x="674.50" y="1359.50" width="6" height="6" stroke="#e69f00" fill="none"/><rect x="687.50" y="1342.50" width="6" height="6" stroke="#e69f00" fill="none"/><rect x="701.50" y="1326.50" width="6" height="6" stroke="#e69f00" fill="none"/><rect x="714.50" y="1312.50" width="6" height="6" stroke="#e69f00" fill="none"/><rect x="728.50" y="1299.50" width="6" height="6" stroke="#e69f00" fill="none"/><rect x="741.50" y="1287.50" width="6" height="6" stroke="#e69f00" fill="none"/><rect x="754.50" y="1276.50" width="6" height="6" stroke="#e69f00" fill="none"/><rect x="768.50" y="1267.50" width="6" height="6" stroke="#e69f00" fill="none"/><rect x="781.50" y="1261.50" width="6" height="6" stroke="#e69f00" fill="none"/><rect x="795.50" y="1255.50" width="6" height="6" stroke="#e69f00" fill="none"/><rect x="808.50" y="1252.50" width="6" height="6" stroke="#e69f00" fill="none"/><rect x="821.50" y="1250.50" width="6" height="6" stroke="#e69f00" fill="none"/><rect x="835.50" y="1250.50" width="6" height="6" stroke="#e69f00" fill="none"/><rect x="848.50" y="1252.50" width="6" height="6" stroke="#e69f00" fill="none"/><rect x="862.50" y="1255.50" width="6" height="6" stroke="#e69f00" fill="none"/><rect x="875.50" y="1262.50" width="6" height="6" stroke="#e69f00" fill="none"/><rect x="888.50" y="1268.50" width="6" height="6" stroke="#e69f00" fill="none"/><rect x="902.50" y="1276.50" width="6" height="6" stroke="#e69f00" fill="none"/><rect x="915.50" y="1287.50" width="6" height="6" stroke="#e69f00" fill="none"/><rect x="929.50" y="1299.50" width="6" height="6" stroke="#e69f00" fill="none"/><rect x="942.50" y="1313.50" width="6" height="6" stroke="#e69f00" fill="none"/><rect x="956.50" y="1327.50" width="6" height="6" stroke="#e69f00" fill="none"/><rect x="969.50" y="1343.50" width="6" height="6" stroke="#e69f00" fill="none"/><rect x="982.50" y="1360.50" width="6" height="6" stroke="#e69f00" fill="none"/><rect x="996.50" y="1377.50" width="6" height="6" stroke="#e69f00" fill="none"/><rect x="1009.50" y="1396.50" width="6" height="6" stroke="#e69f00" fill="none"/><rect x="1023.50" y="1416.50" width="6" height="6" stroke="#e69f00" fill="none"/><rect x="1036.50" y="1436.50" width="6" height="6" stroke="#e69f00" fill="none"/><rect x="1049.50" y="1456.50" width="6" height="6" stroke="#e69f00" fill="none"/><rect x="1063.50" y="1479.50" width="6" height="6" stroke="#e69f00" fill="none"/><rect x="1076.50" y="1501.50" width="6" height="6" stroke="#e69f00" fill="none"/><rect x="1090.50" y="1521.50" width="6" height="6" stroke="#e69f00" fill="none"/><rect x="1103.50" y="1541.50" width="6" height="6" stroke="#e69f00" fill="none"/><rect x="1116.50" y="1559.50" width="6" height="6" stroke="#e69f00" fill="none"/><rect x="1130.50" y="1577.50" width="6" height="6" stroke="#e69f00" fill="none"/><rect x="1143.50" y="1593.50" width="6" height="6" stroke="#e69f00" fill="none"/><rect x="1157.50" y="1608.50" width="6" height="6" stroke="#e69f00" fill="none"/><rect x="1170.50" y="1621.50" width="6" height="6" stroke="#e69f00" fill="none"/><rect x="1183.50" y="1634.50" width="6" height="6" stroke="#e69f00" fill="none"/><rect x="1197.50" y="1645.50" width="6" height="6" stroke="#e69f00" fill="none"/><rect x="1210.50" y="1656.50" width="6" height="6" stroke="#e69f00" fill="none"/><rect x="1224.50" y="1666.50" width="6" height="6" stroke="#e69f00" fill="none"/><rect x="1237.50" y="1676.50" width="6" height="6" stroke="#e69f00" fill="none"/><rect x="1250.50" y="1682.50" width="6" height="6" stroke="#e69f00" fill="none"/><rect x="1264.50" y="1688.50" width="6" height="6" stroke="#e69f00" fill="none"/><rect x="1277.50" y="1693.50" width="6" height="6" stroke="#e69f00" fill="none"/><rect x="1291.50" y="1697.50" width="6" height="6" stroke="#e69f00" fill="none"/><rect x="1304.50" y="1702.50" width="6" height="6" stroke="#e69f00" fill="none"/><rect x="1317.50" y="1706.50" width="6" height="6" stroke="#e69f00" fill="none"/><rect x="1331.50" y="1711.50" width="6" height="6" stroke="#e69f00" fill="none"/><rect x="1344.50" y="1715.50" width="6" height="6" stroke="#e69f00" fill="none"/><rect x="1358.50" y="1718.50" width="6" height="6" stroke="#e69f00" fill="none"/><rect x="1371.50" y="1719.50" width="6" height="6" stroke="#e69f00" fill="none"/></g>
</g>
<g>
<path d="M661 1829.5H704" stroke="#f0e442" stroke-width="1"/>
<rect x="679.00" y="1826.00" width="7" height="7" fill="#f0e442"/>
<text style="will-change:transform" x="653.6" y="1831.8" text-anchor="end" font-family="&quot;Liberation Sans&quot;, sans-serif" font-size="12.5" textLength="286.5" lengthAdjust="spacingAndGlyphs">[anchor] Quantum Atlas 10k II 18GB 10000RPM SCSI</text>
<polyline points="47.60,1728.50 61.00,1727.68 74.41,1725.28 87.81,1721.40 101.21,1707.40 114.62,1684.30 128.02,1651.40 141.42,1606.40 154.82,1551.40 168.23,1487.50 181.63,1415.40 195.03,1337.30 208.44,1255.40 221.84,1173.60 235.24,1092.20 248.65,1017.70 262.05,949.20 275.45,890.00 288.85,844.20 302.26,811.20 315.66,793.50 329.06,790.60 342.47,803.50 355.87,830.50 369.27,870.20 382.68,922.10 396.08,982.50 409.48,1049.40 422.88,1120.40 436.29,1192.70 449.69,1263.40 463.09,1331.40 476.50,1395.50 489.90,1454.40 503.30,1507.10 516.71,1553.60 530.11,1590.00 543.51,1626.90 556.91,1653.10 570.32,1674.30 583.72,1691.40 597.12,1703.00 610.53,1712.10 623.93,1717.70 637.33,1721.10 650.74,1723.10 664.14,1724.60 677.54,1725.61 690.94,1726.49 704.35,1727.15 717.75,1727.50 731.15,1727.65 744.56,1727.79 757.96,1727.91 771.36,1728.02 784.77,1728.10 798.17,1728.17 811.57,1728.23 824.97,1728.27 838.38,1728.29 851.78,1728.30 865.18,1728.30 878.59,1728.30 891.99,1728.30 905.39,1728.30 918.80,1728.30 932.20,1728.30 945.60,1728.30 959.00,1728.29 972.41,1728.29 985.81,1728.29 999.21,1728.28 1012.62,1728.28 1026.02,1728.27 1039.42,1728.26 1052.83,1728.25 1066.23,1728.24 1079.63,1728.23 1093.03,1728.22 1106.44,1728.21 1119.84,1728.19 1133.24,1728.18 1146.65,1728.16 1160.05,1728.14 1173.45,1728.11 1186.86,1728.09 1200.26,1728.06 1213.66,1728.03 1227.06,1728.00 1240.47,1727.97 1253.87,1727.94 1267.27,1727.90 1280.68,1727.86 1294.08,1727.82 1307.48,1727.77 1320.88,1727.72 1334.29,1727.67 1347.69,1727.62 1361.09,1727.56 1374.50,1727.50" stroke="#f0e442" stroke-width="1" fill="none" stroke-linejoin="round"/>
<g shape-rendering="crispEdges"><rect x="44.00" y="1725.00" width="7" height="7" fill="#f0e442"/><rect x="58.00" y="1724.00" width="7" height="7" fill="#f0e442"/><rect x="71.00" y="1722.00" width="7" height="7" fill="#f0e442"/><rect x="84.00" y="1718.00" width="7" height="7" fill="#f0e442"/><rect x="98.00" y="1704.00" width="7" height="7" fill="#f0e442"/><rect x="111.00" y="1681.00" width="7" height="7" fill="#f0e442"/><rect x="125.00" y="1648.00" width="7" height="7" fill="#f0e442"/><rect x="138.00" y="1603.00" width="7" height="7" fill="#f0e442"/><rect x="151.00" y="1548.00" width="7" height="7" fill="#f0e442"/><rect x="165.00" y="1484.00" width="7" height="7" fill="#f0e442"/><rect x="178.00" y="1412.00" width="7" height="7" fill="#f0e442"/><rect x="192.00" y="1334.00" width="7" height="7" fill="#f0e442"/><rect x="205.00" y="1252.00" width="7" height="7" fill="#f0e442"/><rect x="218.00" y="1170.00" width="7" height="7" fill="#f0e442"/><rect x="232.00" y="1089.00" width="7" height="7" fill="#f0e442"/><rect x="245.00" y="1014.00" width="7" height="7" fill="#f0e442"/><rect x="259.00" y="946.00" width="7" height="7" fill="#f0e442"/><rect x="272.00" y="887.00" width="7" height="7" fill="#f0e442"/><rect x="285.00" y="841.00" width="7" height="7" fill="#f0e442"/><rect x="299.00" y="808.00" width="7" height="7" fill="#f0e442"/><rect x="312.00" y="790.00" width="7" height="7" fill="#f0e442"/><rect x="326.00" y="787.00" width="7" height="7" fill="#f0e442"/><rect x="339.00" y="800.00" width="7" height="7" fill="#f0e442"/><rect x="352.00" y="827.00" width="7" height="7" fill="#f0e442"/><rect x="366.00" y="867.00" width="7" height="7" fill="#f0e442"/><rect x="379.00" y="919.00" width="7" height="7" fill="#f0e442"/><rect x="393.00" y="979.00" width="7" height="7" fill="#f0e442"/><rect x="406.00" y="1046.00" width="7" height="7" fill="#f0e442"/><rect x="419.00" y="1117.00" width="7" height="7" fill="#f0e442"/><rect x="433.00" y="1189.00" width="7" height="7" fill="#f0e442"/><rect x="446.00" y="1260.00" width="7" height="7" fill="#f0e442"/><rect x="460.00" y="1328.00" width="7" height="7" fill="#f0e442"/><rect x="473.00" y="1392.00" width="7" height="7" fill="#f0e442"/><rect x="486.00" y="1451.00" width="7" height="7" fill="#f0e442"/><rect x="500.00" y="1504.00" width="7" height="7" fill="#f0e442"/><rect x="513.00" y="1550.00" width="7" height="7" fill="#f0e442"/><rect x="527.00" y="1587.00" width="7" height="7" fill="#f0e442"/><rect x="540.00" y="1623.00" width="7" height="7" fill="#f0e442"/><rect x="553.00" y="1650.00" width="7" height="7" fill="#f0e442"/><rect x="567.00" y="1671.00" width="7" height="7" fill="#f0e442"/><rect x="580.00" y="1688.00" width="7" height="7" fill="#f0e442"/><rect x="594.00" y="1700.00" width="7" height="7" fill="#f0e442"/><rect x="607.00" y="1709.00" width="7" height="7" fill="#f0e442"/><rect x="620.00" y="1714.00" width="7" height="7" fill="#f0e442"/><rect x="634.00" y="1718.00" width="7" height="7" fill="#f0e442"/><rect x="647.00" y="1720.00" width="7" height="7" fill="#f0e442"/><rect x="661.00" y="1721.00" width="7" height="7" fill="#f0e442"/><rect x="674.00" y="1722.00" width="7" height="7" fill="#f0e442"/><rect x="687.00" y="1723.00" width="7" height="7" fill="#f0e442"/><rect x="701.00" y="1724.00" width="7" height="7" fill="#f0e442"/><rect x="714.00" y="1724.00" width="7" height="7" fill="#f0e442"/><rect x="728.00" y="1724.00" width="7" height="7" fill="#f0e442"/><rect x="741.00" y="1724.00" width="7" height="7" fill="#f0e442"/><rect x="754.00" y="1724.00" width="7" height="7" fill="#f0e442"/><rect x="768.00" y="1725.00" width="7" height="7" fill="#f0e442"/><rect x="781.00" y="1725.00" width="7" height="7" fill="#f0e442"/><rect x="795.00" y="1725.00" width="7" height="7" fill="#f0e442"/><rect x="808.00" y="1725.00" width="7" height="7" fill="#f0e442"/><rect x="821.00" y="1725.00" width="7" height="7" fill="#f0e442"/><rect x="835.00" y="1725.00" width="7" height="7" fill="#f0e442"/><rect x="848.00" y="1725.00" width="7" height="7" fill="#f0e442"/><rect x="862.00" y="1725.00" width="7" height="7" fill="#f0e442"/><rect x="875.00" y="1725.00" width="7" height="7" fill="#f0e442"/><rect x="888.00" y="1725.00" width="7" height="7" fill="#f0e442"/><rect x="902.00" y="1725.00" width="7" height="7" fill="#f0e442"/><rect x="915.00" y="1725.00" width="7" height="7" fill="#f0e442"/><rect x="929.00" y="1725.00" width="7" height="7" fill="#f0e442"/><rect x="942.00" y="1725.00" width="7" height="7" fill="#f0e442"/><rect x="956.00" y="1725.00" width="7" height="7" fill="#f0e442"/><rect x="969.00" y="1725.00" width="7" height="7" fill="#f0e442"/><rect x="982.00" y="1725.00" width="7" height="7" fill="#f0e442"/><rect x="996.00" y="1725.00" width="7" height="7" fill="#f0e442"/><rect x="1009.00" y="1725.00" width="7" height="7" fill="#f0e442"/><rect x="1023.00" y="1725.00" width="7" height="7" fill="#f0e442"/><rect x="1036.00" y="1725.00" width="7" height="7" fill="#f0e442"/><rect x="1049.00" y="1725.00" width="7" height="7" fill="#f0e442"/><rect x="1063.00" y="1725.00" width="7" height="7" fill="#f0e442"/><rect x="1076.00" y="1725.00" width="7" height="7" fill="#f0e442"/><rect x="1090.00" y="1725.00" width="7" height="7" fill="#f0e442"/><rect x="1103.00" y="1725.00" width="7" height="7" fill="#f0e442"/><rect x="1116.00" y="1725.00" width="7" height="7" fill="#f0e442"/><rect x="1130.00" y="1725.00" width="7" height="7" fill="#f0e442"/><rect x="1143.00" y="1725.00" width="7" height="7" fill="#f0e442"/><rect x="1157.00" y="1725.00" width="7" height="7" fill="#f0e442"/><rect x="1170.00" y="1725.00" width="7" height="7" fill="#f0e442"/><rect x="1183.00" y="1725.00" width="7" height="7" fill="#f0e442"/><rect x="1197.00" y="1725.00" width="7" height="7" fill="#f0e442"/><rect x="1210.00" y="1725.00" width="7" height="7" fill="#f0e442"/><rect x="1224.00" y="1725.00" width="7" height="7" fill="#f0e442"/><rect x="1237.00" y="1724.00" width="7" height="7" fill="#f0e442"/><rect x="1250.00" y="1724.00" width="7" height="7" fill="#f0e442"/><rect x="1264.00" y="1724.00" width="7" height="7" fill="#f0e442"/><rect x="1277.00" y="1724.00" width="7" height="7" fill="#f0e442"/><rect x="1291.00" y="1724.00" width="7" height="7" fill="#f0e442"/><rect x="1304.00" y="1724.00" width="7" height="7" fill="#f0e442"/><rect x="1317.00" y="1724.00" width="7" height="7" fill="#f0e442"/><rect x="1331.00" y="1724.00" width="7" height="7" fill="#f0e442"/><rect x="1344.00" y="1724.00" width="7" height="7" fill="#f0e442"/><rect x="1358.00" y="1724.00" width="7" height="7" fill="#f0e442"/><rect x="1371.00" y="1724.00" width="7" height="7" fill="#f0e442"/></g>
</g>
<g>
<path d="M661 1846.5H704" stroke="#0072b2" stroke-width="1"/>
<path d="M680.50 1844.50h4v4h-4ZM679.00 1846.50H680.50M684.50 1846.50H686.00M682.50 1843.00V1844.50M682.50 1848.50V1850.00" stroke="#0072b2" fill="none"/>
<text style="will-change:transform" x="653.6" y="1848.8" text-anchor="end" font-family="&quot;Liberation Sans&quot;, sans-serif" font-size="12.5" textLength="296.1" lengthAdjust="spacingAndGlyphs">[Q] QUANTUM ATLAS10K3<tspan font-size="9" dy="3">3</tspan><tspan dy="-3">6</tspan><tspan font-size="9" dy="3">W</tspan><tspan dy="-3">LS 36GB 10000RPM SCSI</tspan></text>
<polyline points="47.60,1728.50 61.00,1726.60 74.41,1721.16 87.81,1712.54 101.21,1701.10 114.62,1671.40 128.02,1627.10 141.42,1567.10 154.82,1492.00 168.23,1406.10 181.63,1311.90 195.03,1210.40 208.44,1108.30 221.84,1011.30 235.24,922.40 248.65,846.30 262.05,785.40 275.45,740.40 288.85,712.50 302.26,705.00 315.66,716.30 329.06,746.60 342.47,794.50 355.87,856.30 369.27,930.50 382.68,1011.60 396.08,1096.30 409.48,1183.40 422.88,1267.50 436.29,1347.50 449.69,1419.30 463.09,1484.40 476.50,1540.30 489.90,1586.40 503.30,1623.60 516.71,1654.30 530.11,1676.40 543.51,1692.90 556.91,1705.40 570.32,1713.10 583.72,1718.30 597.12,1721.40 610.53,1723.50 623.93,1724.49 637.33,1725.19 650.74,1725.50 664.14,1725.59 677.54,1725.69 690.94,1725.77 704.35,1725.86 717.75,1725.94 731.15,1726.02 744.56,1726.10 757.96,1726.17 771.36,1726.25 784.77,1726.32 798.17,1726.38 811.57,1726.45 824.97,1726.51 838.38,1726.57 851.78,1726.63 865.18,1726.68 878.59,1726.73 891.99,1726.78 905.39,1726.83 918.80,1726.88 932.20,1726.92 945.60,1726.96 959.00,1727.00 972.41,1727.04 985.81,1727.08 999.21,1727.11 1012.62,1727.15 1026.02,1727.18 1039.42,1727.21 1052.83,1727.23 1066.23,1727.26 1079.63,1727.28 1093.03,1727.31 1106.44,1727.33 1119.84,1727.35 1133.24,1727.36 1146.65,1727.38 1160.05,1727.40 1173.45,1727.41 1186.86,1727.42 1200.26,1727.44 1213.66,1727.45 1227.06,1727.46 1240.47,1727.46 1253.87,1727.47 1267.27,1727.48 1280.68,1727.48 1294.08,1727.49 1307.48,1727.49 1320.88,1727.49 1334.29,1727.50 1347.69,1727.50 1361.09,1727.50 1374.50,1727.50" stroke="#0072b2" stroke-width="1" fill="none" stroke-linejoin="round"/>
<g shape-rendering="crispEdges"><path d="M45.50 1726.50h4v4h-4ZM44.00 1728.50H45.50M49.50 1728.50H51.00M47.50 1725.00V1726.50M47.50 1730.50V1732.00" stroke="#0072b2" fill="none"/><path d="M59.50 1724.50h4v4h-4ZM58.00 1726.50H59.50M63.50 1726.50H65.00M61.50 1723.00V1724.50M61.50 1728.50V1730.00" stroke="#0072b2" fill="none"/><path d="M72.50 1719.50h4v4h-4ZM71.00 1721.50H72.50M76.50 1721.50H78.00M74.50 1718.00V1719.50M74.50 1723.50V1725.00" stroke="#0072b2" fill="none"/><path d="M85.50 1710.50h4v4h-4ZM84.00 1712.50H85.50M89.50 1712.50H91.00M87.50 1709.00V1710.50M87.50 1714.50V1716.00" stroke="#0072b2" fill="none"/><path d="M99.50 1699.50h4v4h-4ZM98.00 1701.50H99.50M103.50 1701.50H105.00M101.50 1698.00V1699.50M101.50 1703.50V1705.00" stroke="#0072b2" fill="none"/><path d="M112.50 1669.50h4v4h-4ZM111.00 1671.50H112.50M116.50 1671.50H118.00M114.50 1668.00V1669.50M114.50 1673.50V1675.00" stroke="#0072b2" fill="none"/><path d="M126.50 1625.50h4v4h-4ZM125.00 1627.50H126.50M130.50 1627.50H132.00M128.50 1624.00V1625.50M128.50 1629.50V1631.00" stroke="#0072b2" fill="none"/><path d="M139.50 1565.50h4v4h-4ZM138.00 1567.50H139.50M143.50 1567.50H145.00M141.50 1564.00V1565.50M141.50 1569.50V1571.00" stroke="#0072b2" fill="none"/><path d="M152.50 1490.50h4v4h-4ZM151.00 1492.50H152.50M156.50 1492.50H158.00M154.50 1489.00V1490.50M154.50 1494.50V1496.00" stroke="#0072b2" fill="none"/><path d="M166.50 1404.50h4v4h-4ZM165.00 1406.50H166.50M170.50 1406.50H172.00M168.50 1403.00V1404.50M168.50 1408.50V1410.00" stroke="#0072b2" fill="none"/><path d="M179.50 1309.50h4v4h-4ZM178.00 1311.50H179.50M183.50 1311.50H185.00M181.50 1308.00V1309.50M181.50 1313.50V1315.00" stroke="#0072b2" fill="none"/><path d="M193.50 1208.50h4v4h-4ZM192.00 1210.50H193.50M197.50 1210.50H199.00M195.50 1207.00V1208.50M195.50 1212.50V1214.00" stroke="#0072b2" fill="none"/><path d="M206.50 1106.50h4v4h-4ZM205.00 1108.50H206.50M210.50 1108.50H212.00M208.50 1105.00V1106.50M208.50 1110.50V1112.00" stroke="#0072b2" fill="none"/><path d="M219.50 1009.50h4v4h-4ZM218.00 1011.50H219.50M223.50 1011.50H225.00M221.50 1008.00V1009.50M221.50 1013.50V1015.00" stroke="#0072b2" fill="none"/><path d="M233.50 920.50h4v4h-4ZM232.00 922.50H233.50M237.50 922.50H239.00M235.50 919.00V920.50M235.50 924.50V926.00" stroke="#0072b2" fill="none"/><path d="M246.50 844.50h4v4h-4ZM245.00 846.50H246.50M250.50 846.50H252.00M248.50 843.00V844.50M248.50 848.50V850.00" stroke="#0072b2" fill="none"/><path d="M260.50 783.50h4v4h-4ZM259.00 785.50H260.50M264.50 785.50H266.00M262.50 782.00V783.50M262.50 787.50V789.00" stroke="#0072b2" fill="none"/><path d="M273.50 738.50h4v4h-4ZM272.00 740.50H273.50M277.50 740.50H279.00M275.50 737.00V738.50M275.50 742.50V744.00" stroke="#0072b2" fill="none"/><path d="M286.50 710.50h4v4h-4ZM285.00 712.50H286.50M290.50 712.50H292.00M288.50 709.00V710.50M288.50 714.50V716.00" stroke="#0072b2" fill="none"/><path d="M300.50 703.50h4v4h-4ZM299.00 705.50H300.50M304.50 705.50H306.00M302.50 702.00V703.50M302.50 707.50V709.00" stroke="#0072b2" fill="none"/><path d="M313.50 714.50h4v4h-4ZM312.00 716.50H313.50M317.50 716.50H319.00M315.50 713.00V714.50M315.50 718.50V720.00" stroke="#0072b2" fill="none"/><path d="M327.50 744.50h4v4h-4ZM326.00 746.50H327.50M331.50 746.50H333.00M329.50 743.00V744.50M329.50 748.50V750.00" stroke="#0072b2" fill="none"/><path d="M340.50 792.50h4v4h-4ZM339.00 794.50H340.50M344.50 794.50H346.00M342.50 791.00V792.50M342.50 796.50V798.00" stroke="#0072b2" fill="none"/><path d="M353.50 854.50h4v4h-4ZM352.00 856.50H353.50M357.50 856.50H359.00M355.50 853.00V854.50M355.50 858.50V860.00" stroke="#0072b2" fill="none"/><path d="M367.50 928.50h4v4h-4ZM366.00 930.50H367.50M371.50 930.50H373.00M369.50 927.00V928.50M369.50 932.50V934.00" stroke="#0072b2" fill="none"/><path d="M380.50 1009.50h4v4h-4ZM379.00 1011.50H380.50M384.50 1011.50H386.00M382.50 1008.00V1009.50M382.50 1013.50V1015.00" stroke="#0072b2" fill="none"/><path d="M394.50 1094.50h4v4h-4ZM393.00 1096.50H394.50M398.50 1096.50H400.00M396.50 1093.00V1094.50M396.50 1098.50V1100.00" stroke="#0072b2" fill="none"/><path d="M407.50 1181.50h4v4h-4ZM406.00 1183.50H407.50M411.50 1183.50H413.00M409.50 1180.00V1181.50M409.50 1185.50V1187.00" stroke="#0072b2" fill="none"/><path d="M420.50 1265.50h4v4h-4ZM419.00 1267.50H420.50M424.50 1267.50H426.00M422.50 1264.00V1265.50M422.50 1269.50V1271.00" stroke="#0072b2" fill="none"/><path d="M434.50 1345.50h4v4h-4ZM433.00 1347.50H434.50M438.50 1347.50H440.00M436.50 1344.00V1345.50M436.50 1349.50V1351.00" stroke="#0072b2" fill="none"/><path d="M447.50 1417.50h4v4h-4ZM446.00 1419.50H447.50M451.50 1419.50H453.00M449.50 1416.00V1417.50M449.50 1421.50V1423.00" stroke="#0072b2" fill="none"/><path d="M461.50 1482.50h4v4h-4ZM460.00 1484.50H461.50M465.50 1484.50H467.00M463.50 1481.00V1482.50M463.50 1486.50V1488.00" stroke="#0072b2" fill="none"/><path d="M474.50 1538.50h4v4h-4ZM473.00 1540.50H474.50M478.50 1540.50H480.00M476.50 1537.00V1538.50M476.50 1542.50V1544.00" stroke="#0072b2" fill="none"/><path d="M487.50 1584.50h4v4h-4ZM486.00 1586.50H487.50M491.50 1586.50H493.00M489.50 1583.00V1584.50M489.50 1588.50V1590.00" stroke="#0072b2" fill="none"/><path d="M501.50 1621.50h4v4h-4ZM500.00 1623.50H501.50M505.50 1623.50H507.00M503.50 1620.00V1621.50M503.50 1625.50V1627.00" stroke="#0072b2" fill="none"/><path d="M514.50 1652.50h4v4h-4ZM513.00 1654.50H514.50M518.50 1654.50H520.00M516.50 1651.00V1652.50M516.50 1656.50V1658.00" stroke="#0072b2" fill="none"/><path d="M528.50 1674.50h4v4h-4ZM527.00 1676.50H528.50M532.50 1676.50H534.00M530.50 1673.00V1674.50M530.50 1678.50V1680.00" stroke="#0072b2" fill="none"/><path d="M541.50 1690.50h4v4h-4ZM540.00 1692.50H541.50M545.50 1692.50H547.00M543.50 1689.00V1690.50M543.50 1694.50V1696.00" stroke="#0072b2" fill="none"/><path d="M554.50 1703.50h4v4h-4ZM553.00 1705.50H554.50M558.50 1705.50H560.00M556.50 1702.00V1703.50M556.50 1707.50V1709.00" stroke="#0072b2" fill="none"/><path d="M568.50 1711.50h4v4h-4ZM567.00 1713.50H568.50M572.50 1713.50H574.00M570.50 1710.00V1711.50M570.50 1715.50V1717.00" stroke="#0072b2" fill="none"/><path d="M581.50 1716.50h4v4h-4ZM580.00 1718.50H581.50M585.50 1718.50H587.00M583.50 1715.00V1716.50M583.50 1720.50V1722.00" stroke="#0072b2" fill="none"/><path d="M595.50 1719.50h4v4h-4ZM594.00 1721.50H595.50M599.50 1721.50H601.00M597.50 1718.00V1719.50M597.50 1723.50V1725.00" stroke="#0072b2" fill="none"/><path d="M608.50 1721.50h4v4h-4ZM607.00 1723.50H608.50M612.50 1723.50H614.00M610.50 1720.00V1721.50M610.50 1725.50V1727.00" stroke="#0072b2" fill="none"/><path d="M621.50 1722.50h4v4h-4ZM620.00 1724.50H621.50M625.50 1724.50H627.00M623.50 1721.00V1722.50M623.50 1726.50V1728.00" stroke="#0072b2" fill="none"/><path d="M635.50 1723.50h4v4h-4ZM634.00 1725.50H635.50M639.50 1725.50H641.00M637.50 1722.00V1723.50M637.50 1727.50V1729.00" stroke="#0072b2" fill="none"/><path d="M648.50 1723.50h4v4h-4ZM647.00 1725.50H648.50M652.50 1725.50H654.00M650.50 1722.00V1723.50M650.50 1727.50V1729.00" stroke="#0072b2" fill="none"/><path d="M662.50 1723.50h4v4h-4ZM661.00 1725.50H662.50M666.50 1725.50H668.00M664.50 1722.00V1723.50M664.50 1727.50V1729.00" stroke="#0072b2" fill="none"/><path d="M675.50 1723.50h4v4h-4ZM674.00 1725.50H675.50M679.50 1725.50H681.00M677.50 1722.00V1723.50M677.50 1727.50V1729.00" stroke="#0072b2" fill="none"/><path d="M688.50 1723.50h4v4h-4ZM687.00 1725.50H688.50M692.50 1725.50H694.00M690.50 1722.00V1723.50M690.50 1727.50V1729.00" stroke="#0072b2" fill="none"/><path d="M702.50 1723.50h4v4h-4ZM701.00 1725.50H702.50M706.50 1725.50H708.00M704.50 1722.00V1723.50M704.50 1727.50V1729.00" stroke="#0072b2" fill="none"/><path d="M715.50 1723.50h4v4h-4ZM714.00 1725.50H715.50M719.50 1725.50H721.00M717.50 1722.00V1723.50M717.50 1727.50V1729.00" stroke="#0072b2" fill="none"/><path d="M729.50 1724.50h4v4h-4ZM728.00 1726.50H729.50M733.50 1726.50H735.00M731.50 1723.00V1724.50M731.50 1728.50V1730.00" stroke="#0072b2" fill="none"/><path d="M742.50 1724.50h4v4h-4ZM741.00 1726.50H742.50M746.50 1726.50H748.00M744.50 1723.00V1724.50M744.50 1728.50V1730.00" stroke="#0072b2" fill="none"/><path d="M755.50 1724.50h4v4h-4ZM754.00 1726.50H755.50M759.50 1726.50H761.00M757.50 1723.00V1724.50M757.50 1728.50V1730.00" stroke="#0072b2" fill="none"/><path d="M769.50 1724.50h4v4h-4ZM768.00 1726.50H769.50M773.50 1726.50H775.00M771.50 1723.00V1724.50M771.50 1728.50V1730.00" stroke="#0072b2" fill="none"/><path d="M782.50 1724.50h4v4h-4ZM781.00 1726.50H782.50M786.50 1726.50H788.00M784.50 1723.00V1724.50M784.50 1728.50V1730.00" stroke="#0072b2" fill="none"/><path d="M796.50 1724.50h4v4h-4ZM795.00 1726.50H796.50M800.50 1726.50H802.00M798.50 1723.00V1724.50M798.50 1728.50V1730.00" stroke="#0072b2" fill="none"/><path d="M809.50 1724.50h4v4h-4ZM808.00 1726.50H809.50M813.50 1726.50H815.00M811.50 1723.00V1724.50M811.50 1728.50V1730.00" stroke="#0072b2" fill="none"/><path d="M822.50 1724.50h4v4h-4ZM821.00 1726.50H822.50M826.50 1726.50H828.00M824.50 1723.00V1724.50M824.50 1728.50V1730.00" stroke="#0072b2" fill="none"/><path d="M836.50 1724.50h4v4h-4ZM835.00 1726.50H836.50M840.50 1726.50H842.00M838.50 1723.00V1724.50M838.50 1728.50V1730.00" stroke="#0072b2" fill="none"/><path d="M849.50 1724.50h4v4h-4ZM848.00 1726.50H849.50M853.50 1726.50H855.00M851.50 1723.00V1724.50M851.50 1728.50V1730.00" stroke="#0072b2" fill="none"/><path d="M863.50 1724.50h4v4h-4ZM862.00 1726.50H863.50M867.50 1726.50H869.00M865.50 1723.00V1724.50M865.50 1728.50V1730.00" stroke="#0072b2" fill="none"/><path d="M876.50 1724.50h4v4h-4ZM875.00 1726.50H876.50M880.50 1726.50H882.00M878.50 1723.00V1724.50M878.50 1728.50V1730.00" stroke="#0072b2" fill="none"/><path d="M889.50 1724.50h4v4h-4ZM888.00 1726.50H889.50M893.50 1726.50H895.00M891.50 1723.00V1724.50M891.50 1728.50V1730.00" stroke="#0072b2" fill="none"/><path d="M903.50 1724.50h4v4h-4ZM902.00 1726.50H903.50M907.50 1726.50H909.00M905.50 1723.00V1724.50M905.50 1728.50V1730.00" stroke="#0072b2" fill="none"/><path d="M916.50 1724.50h4v4h-4ZM915.00 1726.50H916.50M920.50 1726.50H922.00M918.50 1723.00V1724.50M918.50 1728.50V1730.00" stroke="#0072b2" fill="none"/><path d="M930.50 1724.50h4v4h-4ZM929.00 1726.50H930.50M934.50 1726.50H936.00M932.50 1723.00V1724.50M932.50 1728.50V1730.00" stroke="#0072b2" fill="none"/><path d="M943.50 1724.50h4v4h-4ZM942.00 1726.50H943.50M947.50 1726.50H949.00M945.50 1723.00V1724.50M945.50 1728.50V1730.00" stroke="#0072b2" fill="none"/><path d="M957.50 1725.50h4v4h-4ZM956.00 1727.50H957.50M961.50 1727.50H963.00M959.50 1724.00V1725.50M959.50 1729.50V1731.00" stroke="#0072b2" fill="none"/><path d="M970.50 1725.50h4v4h-4ZM969.00 1727.50H970.50M974.50 1727.50H976.00M972.50 1724.00V1725.50M972.50 1729.50V1731.00" stroke="#0072b2" fill="none"/><path d="M983.50 1725.50h4v4h-4ZM982.00 1727.50H983.50M987.50 1727.50H989.00M985.50 1724.00V1725.50M985.50 1729.50V1731.00" stroke="#0072b2" fill="none"/><path d="M997.50 1725.50h4v4h-4ZM996.00 1727.50H997.50M1001.50 1727.50H1003.00M999.50 1724.00V1725.50M999.50 1729.50V1731.00" stroke="#0072b2" fill="none"/><path d="M1010.50 1725.50h4v4h-4ZM1009.00 1727.50H1010.50M1014.50 1727.50H1016.00M1012.50 1724.00V1725.50M1012.50 1729.50V1731.00" stroke="#0072b2" fill="none"/><path d="M1024.50 1725.50h4v4h-4ZM1023.00 1727.50H1024.50M1028.50 1727.50H1030.00M1026.50 1724.00V1725.50M1026.50 1729.50V1731.00" stroke="#0072b2" fill="none"/><path d="M1037.50 1725.50h4v4h-4ZM1036.00 1727.50H1037.50M1041.50 1727.50H1043.00M1039.50 1724.00V1725.50M1039.50 1729.50V1731.00" stroke="#0072b2" fill="none"/><path d="M1050.50 1725.50h4v4h-4ZM1049.00 1727.50H1050.50M1054.50 1727.50H1056.00M1052.50 1724.00V1725.50M1052.50 1729.50V1731.00" stroke="#0072b2" fill="none"/><path d="M1064.50 1725.50h4v4h-4ZM1063.00 1727.50H1064.50M1068.50 1727.50H1070.00M1066.50 1724.00V1725.50M1066.50 1729.50V1731.00" stroke="#0072b2" fill="none"/><path d="M1077.50 1725.50h4v4h-4ZM1076.00 1727.50H1077.50M1081.50 1727.50H1083.00M1079.50 1724.00V1725.50M1079.50 1729.50V1731.00" stroke="#0072b2" fill="none"/><path d="M1091.50 1725.50h4v4h-4ZM1090.00 1727.50H1091.50M1095.50 1727.50H1097.00M1093.50 1724.00V1725.50M1093.50 1729.50V1731.00" stroke="#0072b2" fill="none"/><path d="M1104.50 1725.50h4v4h-4ZM1103.00 1727.50H1104.50M1108.50 1727.50H1110.00M1106.50 1724.00V1725.50M1106.50 1729.50V1731.00" stroke="#0072b2" fill="none"/><path d="M1117.50 1725.50h4v4h-4ZM1116.00 1727.50H1117.50M1121.50 1727.50H1123.00M1119.50 1724.00V1725.50M1119.50 1729.50V1731.00" stroke="#0072b2" fill="none"/><path d="M1131.50 1725.50h4v4h-4ZM1130.00 1727.50H1131.50M1135.50 1727.50H1137.00M1133.50 1724.00V1725.50M1133.50 1729.50V1731.00" stroke="#0072b2" fill="none"/><path d="M1144.50 1725.50h4v4h-4ZM1143.00 1727.50H1144.50M1148.50 1727.50H1150.00M1146.50 1724.00V1725.50M1146.50 1729.50V1731.00" stroke="#0072b2" fill="none"/><path d="M1158.50 1725.50h4v4h-4ZM1157.00 1727.50H1158.50M1162.50 1727.50H1164.00M1160.50 1724.00V1725.50M1160.50 1729.50V1731.00" stroke="#0072b2" fill="none"/><path d="M1171.50 1725.50h4v4h-4ZM1170.00 1727.50H1171.50M1175.50 1727.50H1177.00M1173.50 1724.00V1725.50M1173.50 1729.50V1731.00" stroke="#0072b2" fill="none"/><path d="M1184.50 1725.50h4v4h-4ZM1183.00 1727.50H1184.50M1188.50 1727.50H1190.00M1186.50 1724.00V1725.50M1186.50 1729.50V1731.00" stroke="#0072b2" fill="none"/><path d="M1198.50 1725.50h4v4h-4ZM1197.00 1727.50H1198.50M1202.50 1727.50H1204.00M1200.50 1724.00V1725.50M1200.50 1729.50V1731.00" stroke="#0072b2" fill="none"/><path d="M1211.50 1725.50h4v4h-4ZM1210.00 1727.50H1211.50M1215.50 1727.50H1217.00M1213.50 1724.00V1725.50M1213.50 1729.50V1731.00" stroke="#0072b2" fill="none"/><path d="M1225.50 1725.50h4v4h-4ZM1224.00 1727.50H1225.50M1229.50 1727.50H1231.00M1227.50 1724.00V1725.50M1227.50 1729.50V1731.00" stroke="#0072b2" fill="none"/><path d="M1238.50 1725.50h4v4h-4ZM1237.00 1727.50H1238.50M1242.50 1727.50H1244.00M1240.50 1724.00V1725.50M1240.50 1729.50V1731.00" stroke="#0072b2" fill="none"/><path d="M1251.50 1725.50h4v4h-4ZM1250.00 1727.50H1251.50M1255.50 1727.50H1257.00M1253.50 1724.00V1725.50M1253.50 1729.50V1731.00" stroke="#0072b2" fill="none"/><path d="M1265.50 1725.50h4v4h-4ZM1264.00 1727.50H1265.50M1269.50 1727.50H1271.00M1267.50 1724.00V1725.50M1267.50 1729.50V1731.00" stroke="#0072b2" fill="none"/><path d="M1278.50 1725.50h4v4h-4ZM1277.00 1727.50H1278.50M1282.50 1727.50H1284.00M1280.50 1724.00V1725.50M1280.50 1729.50V1731.00" stroke="#0072b2" fill="none"/><path d="M1292.50 1725.50h4v4h-4ZM1291.00 1727.50H1292.50M1296.50 1727.50H1298.00M1294.50 1724.00V1725.50M1294.50 1729.50V1731.00" stroke="#0072b2" fill="none"/><path d="M1305.50 1725.50h4v4h-4ZM1304.00 1727.50H1305.50M1309.50 1727.50H1311.00M1307.50 1724.00V1725.50M1307.50 1729.50V1731.00" stroke="#0072b2" fill="none"/><path d="M1318.50 1725.50h4v4h-4ZM1317.00 1727.50H1318.50M1322.50 1727.50H1324.00M1320.50 1724.00V1725.50M1320.50 1729.50V1731.00" stroke="#0072b2" fill="none"/><path d="M1332.50 1725.50h4v4h-4ZM1331.00 1727.50H1332.50M1336.50 1727.50H1338.00M1334.50 1724.00V1725.50M1334.50 1729.50V1731.00" stroke="#0072b2" fill="none"/><path d="M1345.50 1725.50h4v4h-4ZM1344.00 1727.50H1345.50M1349.50 1727.50H1351.00M1347.50 1724.00V1725.50M1347.50 1729.50V1731.00" stroke="#0072b2" fill="none"/><path d="M1359.50 1725.50h4v4h-4ZM1358.00 1727.50H1359.50M1363.50 1727.50H1365.00M1361.50 1724.00V1725.50M1361.50 1729.50V1731.00" stroke="#0072b2" fill="none"/><path d="M1372.50 1725.50h4v4h-4ZM1371.00 1727.50H1372.50M1376.50 1727.50H1378.00M1374.50 1724.00V1725.50M1374.50 1729.50V1731.00" stroke="#0072b2" fill="none"/></g>
</g>
<g>
<path d="M661 1863.5H704" stroke="#e51e10" stroke-width="1"/>
<path d="M680.00 1861.00h5v5h-5ZM679.00 1863.00h7v1h-7ZM682.00 1860.00h1v7h-1Z" fill="#e51e10"/>
<text style="will-change:transform" x="653.6" y="1865.8" text-anchor="end" font-family="&quot;Liberation Sans&quot;, sans-serif" font-size="12.5" textLength="241.5" lengthAdjust="spacingAndGlyphs">[whale] IBM DPES 31080 1GB 5400RPM SCSI</text>
<polyline points="47.60,1728.00 61.00,1727.99 74.41,1727.96 87.81,1727.93 101.21,1727.88 114.62,1727.83 128.02,1727.77 141.42,1727.71 154.82,1727.64 168.23,1727.57 181.63,1727.50 195.03,1727.42 208.44,1727.33 221.84,1727.22 235.24,1727.10 248.65,1726.97 262.05,1726.82 275.45,1726.67 288.85,1726.50 302.26,1726.33 315.66,1726.13 329.06,1725.87 342.47,1725.50 355.87,1724.60 369.27,1722.90 382.68,1718.90 396.08,1715.00 409.48,1709.30 422.88,1702.60 436.29,1693.60 449.69,1682.90 463.09,1670.70 476.50,1657.90 489.90,1643.60 503.30,1627.90 516.71,1610.70 530.11,1593.60 543.51,1575.70 556.91,1556.90 570.32,1537.40 583.72,1516.50 597.12,1496.50 610.53,1475.70 623.93,1455.70 637.33,1436.40 650.74,1417.40 664.14,1400.70 677.54,1384.60 690.94,1369.30 704.35,1355.40 717.75,1342.60 731.15,1330.70 744.56,1319.30 757.96,1310.00 771.36,1302.90 784.77,1297.40 798.17,1295.40 811.57,1295.40 824.97,1297.40 838.38,1302.60 851.78,1309.30 865.18,1317.10 878.59,1328.60 891.99,1340.30 905.39,1353.60 918.80,1367.10 932.20,1383.60 945.60,1399.30 959.00,1414.30 972.41,1430.30 985.81,1445.40 999.21,1459.70 1012.62,1473.60 1026.02,1485.70 1039.42,1497.40 1052.83,1507.40 1066.23,1516.40 1079.63,1523.60 1093.03,1529.30 1106.44,1532.60 1119.84,1535.40 1133.24,1536.40 1146.65,1536.40 1160.05,1538.30 1173.45,1540.40 1186.86,1544.30 1200.26,1550.30 1213.66,1558.30 1227.06,1566.40 1240.47,1573.50 1253.87,1578.30 1267.27,1580.50 1280.68,1579.30 1294.08,1579.20 1307.48,1582.30 1320.88,1588.40 1334.29,1595.50 1347.69,1605.40 1361.09,1629.50 1374.50,1673.90" stroke="#e51e10" stroke-width="1" fill="none" stroke-linejoin="round"/>
<g shape-rendering="crispEdges"><path d="M45.00 1726.00h5v5h-5ZM44.00 1728.00h7v1h-7ZM47.00 1725.00h1v7h-1Z" fill="#e51e10"/><path d="M59.00 1725.00h5v5h-5ZM58.00 1727.00h7v1h-7ZM61.00 1724.00h1v7h-1Z" fill="#e51e10"/><path d="M72.00 1725.00h5v5h-5ZM71.00 1727.00h7v1h-7ZM74.00 1724.00h1v7h-1Z" fill="#e51e10"/><path d="M85.00 1725.00h5v5h-5ZM84.00 1727.00h7v1h-7ZM87.00 1724.00h1v7h-1Z" fill="#e51e10"/><path d="M99.00 1725.00h5v5h-5ZM98.00 1727.00h7v1h-7ZM101.00 1724.00h1v7h-1Z" fill="#e51e10"/><path d="M112.00 1725.00h5v5h-5ZM111.00 1727.00h7v1h-7ZM114.00 1724.00h1v7h-1Z" fill="#e51e10"/><path d="M126.00 1725.00h5v5h-5ZM125.00 1727.00h7v1h-7ZM128.00 1724.00h1v7h-1Z" fill="#e51e10"/><path d="M139.00 1725.00h5v5h-5ZM138.00 1727.00h7v1h-7ZM141.00 1724.00h1v7h-1Z" fill="#e51e10"/><path d="M152.00 1725.00h5v5h-5ZM151.00 1727.00h7v1h-7ZM154.00 1724.00h1v7h-1Z" fill="#e51e10"/><path d="M166.00 1725.00h5v5h-5ZM165.00 1727.00h7v1h-7ZM168.00 1724.00h1v7h-1Z" fill="#e51e10"/><path d="M179.00 1725.00h5v5h-5ZM178.00 1727.00h7v1h-7ZM181.00 1724.00h1v7h-1Z" fill="#e51e10"/><path d="M193.00 1725.00h5v5h-5ZM192.00 1727.00h7v1h-7ZM195.00 1724.00h1v7h-1Z" fill="#e51e10"/><path d="M206.00 1725.00h5v5h-5ZM205.00 1727.00h7v1h-7ZM208.00 1724.00h1v7h-1Z" fill="#e51e10"/><path d="M219.00 1725.00h5v5h-5ZM218.00 1727.00h7v1h-7ZM221.00 1724.00h1v7h-1Z" fill="#e51e10"/><path d="M233.00 1725.00h5v5h-5ZM232.00 1727.00h7v1h-7ZM235.00 1724.00h1v7h-1Z" fill="#e51e10"/><path d="M246.00 1724.00h5v5h-5ZM245.00 1726.00h7v1h-7ZM248.00 1723.00h1v7h-1Z" fill="#e51e10"/><path d="M260.00 1724.00h5v5h-5ZM259.00 1726.00h7v1h-7ZM262.00 1723.00h1v7h-1Z" fill="#e51e10"/><path d="M273.00 1724.00h5v5h-5ZM272.00 1726.00h7v1h-7ZM275.00 1723.00h1v7h-1Z" fill="#e51e10"/><path d="M286.00 1724.00h5v5h-5ZM285.00 1726.00h7v1h-7ZM288.00 1723.00h1v7h-1Z" fill="#e51e10"/><path d="M300.00 1724.00h5v5h-5ZM299.00 1726.00h7v1h-7ZM302.00 1723.00h1v7h-1Z" fill="#e51e10"/><path d="M313.00 1724.00h5v5h-5ZM312.00 1726.00h7v1h-7ZM315.00 1723.00h1v7h-1Z" fill="#e51e10"/><path d="M327.00 1723.00h5v5h-5ZM326.00 1725.00h7v1h-7ZM329.00 1722.00h1v7h-1Z" fill="#e51e10"/><path d="M340.00 1723.00h5v5h-5ZM339.00 1725.00h7v1h-7ZM342.00 1722.00h1v7h-1Z" fill="#e51e10"/><path d="M353.00 1722.00h5v5h-5ZM352.00 1724.00h7v1h-7ZM355.00 1721.00h1v7h-1Z" fill="#e51e10"/><path d="M367.00 1720.00h5v5h-5ZM366.00 1722.00h7v1h-7ZM369.00 1719.00h1v7h-1Z" fill="#e51e10"/><path d="M380.00 1716.00h5v5h-5ZM379.00 1718.00h7v1h-7ZM382.00 1715.00h1v7h-1Z" fill="#e51e10"/><path d="M394.00 1713.00h5v5h-5ZM393.00 1715.00h7v1h-7ZM396.00 1712.00h1v7h-1Z" fill="#e51e10"/><path d="M407.00 1707.00h5v5h-5ZM406.00 1709.00h7v1h-7ZM409.00 1706.00h1v7h-1Z" fill="#e51e10"/><path d="M420.00 1700.00h5v5h-5ZM419.00 1702.00h7v1h-7ZM422.00 1699.00h1v7h-1Z" fill="#e51e10"/><path d="M434.00 1691.00h5v5h-5ZM433.00 1693.00h7v1h-7ZM436.00 1690.00h1v7h-1Z" fill="#e51e10"/><path d="M447.00 1680.00h5v5h-5ZM446.00 1682.00h7v1h-7ZM449.00 1679.00h1v7h-1Z" fill="#e51e10"/><path d="M461.00 1668.00h5v5h-5ZM460.00 1670.00h7v1h-7ZM463.00 1667.00h1v7h-1Z" fill="#e51e10"/><path d="M474.00 1655.00h5v5h-5ZM473.00 1657.00h7v1h-7ZM476.00 1654.00h1v7h-1Z" fill="#e51e10"/><path d="M487.00 1641.00h5v5h-5ZM486.00 1643.00h7v1h-7ZM489.00 1640.00h1v7h-1Z" fill="#e51e10"/><path d="M501.00 1625.00h5v5h-5ZM500.00 1627.00h7v1h-7ZM503.00 1624.00h1v7h-1Z" fill="#e51e10"/><path d="M514.00 1608.00h5v5h-5ZM513.00 1610.00h7v1h-7ZM516.00 1607.00h1v7h-1Z" fill="#e51e10"/><path d="M528.00 1591.00h5v5h-5ZM527.00 1593.00h7v1h-7ZM530.00 1590.00h1v7h-1Z" fill="#e51e10"/><path d="M541.00 1573.00h5v5h-5ZM540.00 1575.00h7v1h-7ZM543.00 1572.00h1v7h-1Z" fill="#e51e10"/><path d="M554.00 1554.00h5v5h-5ZM553.00 1556.00h7v1h-7ZM556.00 1553.00h1v7h-1Z" fill="#e51e10"/><path d="M568.00 1535.00h5v5h-5ZM567.00 1537.00h7v1h-7ZM570.00 1534.00h1v7h-1Z" fill="#e51e10"/><path d="M581.00 1514.00h5v5h-5ZM580.00 1516.00h7v1h-7ZM583.00 1513.00h1v7h-1Z" fill="#e51e10"/><path d="M595.00 1494.00h5v5h-5ZM594.00 1496.00h7v1h-7ZM597.00 1493.00h1v7h-1Z" fill="#e51e10"/><path d="M608.00 1473.00h5v5h-5ZM607.00 1475.00h7v1h-7ZM610.00 1472.00h1v7h-1Z" fill="#e51e10"/><path d="M621.00 1453.00h5v5h-5ZM620.00 1455.00h7v1h-7ZM623.00 1452.00h1v7h-1Z" fill="#e51e10"/><path d="M635.00 1434.00h5v5h-5ZM634.00 1436.00h7v1h-7ZM637.00 1433.00h1v7h-1Z" fill="#e51e10"/><path d="M648.00 1415.00h5v5h-5ZM647.00 1417.00h7v1h-7ZM650.00 1414.00h1v7h-1Z" fill="#e51e10"/><path d="M662.00 1398.00h5v5h-5ZM661.00 1400.00h7v1h-7ZM664.00 1397.00h1v7h-1Z" fill="#e51e10"/><path d="M675.00 1382.00h5v5h-5ZM674.00 1384.00h7v1h-7ZM677.00 1381.00h1v7h-1Z" fill="#e51e10"/><path d="M688.00 1367.00h5v5h-5ZM687.00 1369.00h7v1h-7ZM690.00 1366.00h1v7h-1Z" fill="#e51e10"/><path d="M702.00 1353.00h5v5h-5ZM701.00 1355.00h7v1h-7ZM704.00 1352.00h1v7h-1Z" fill="#e51e10"/><path d="M715.00 1340.00h5v5h-5ZM714.00 1342.00h7v1h-7ZM717.00 1339.00h1v7h-1Z" fill="#e51e10"/><path d="M729.00 1328.00h5v5h-5ZM728.00 1330.00h7v1h-7ZM731.00 1327.00h1v7h-1Z" fill="#e51e10"/><path d="M742.00 1317.00h5v5h-5ZM741.00 1319.00h7v1h-7ZM744.00 1316.00h1v7h-1Z" fill="#e51e10"/><path d="M755.00 1308.00h5v5h-5ZM754.00 1310.00h7v1h-7ZM757.00 1307.00h1v7h-1Z" fill="#e51e10"/><path d="M769.00 1300.00h5v5h-5ZM768.00 1302.00h7v1h-7ZM771.00 1299.00h1v7h-1Z" fill="#e51e10"/><path d="M782.00 1295.00h5v5h-5ZM781.00 1297.00h7v1h-7ZM784.00 1294.00h1v7h-1Z" fill="#e51e10"/><path d="M796.00 1293.00h5v5h-5ZM795.00 1295.00h7v1h-7ZM798.00 1292.00h1v7h-1Z" fill="#e51e10"/><path d="M809.00 1293.00h5v5h-5ZM808.00 1295.00h7v1h-7ZM811.00 1292.00h1v7h-1Z" fill="#e51e10"/><path d="M822.00 1295.00h5v5h-5ZM821.00 1297.00h7v1h-7ZM824.00 1294.00h1v7h-1Z" fill="#e51e10"/><path d="M836.00 1300.00h5v5h-5ZM835.00 1302.00h7v1h-7ZM838.00 1299.00h1v7h-1Z" fill="#e51e10"/><path d="M849.00 1307.00h5v5h-5ZM848.00 1309.00h7v1h-7ZM851.00 1306.00h1v7h-1Z" fill="#e51e10"/><path d="M863.00 1315.00h5v5h-5ZM862.00 1317.00h7v1h-7ZM865.00 1314.00h1v7h-1Z" fill="#e51e10"/><path d="M876.00 1326.00h5v5h-5ZM875.00 1328.00h7v1h-7ZM878.00 1325.00h1v7h-1Z" fill="#e51e10"/><path d="M889.00 1338.00h5v5h-5ZM888.00 1340.00h7v1h-7ZM891.00 1337.00h1v7h-1Z" fill="#e51e10"/><path d="M903.00 1351.00h5v5h-5ZM902.00 1353.00h7v1h-7ZM905.00 1350.00h1v7h-1Z" fill="#e51e10"/><path d="M916.00 1365.00h5v5h-5ZM915.00 1367.00h7v1h-7ZM918.00 1364.00h1v7h-1Z" fill="#e51e10"/><path d="M930.00 1381.00h5v5h-5ZM929.00 1383.00h7v1h-7ZM932.00 1380.00h1v7h-1Z" fill="#e51e10"/><path d="M943.00 1397.00h5v5h-5ZM942.00 1399.00h7v1h-7ZM945.00 1396.00h1v7h-1Z" fill="#e51e10"/><path d="M957.00 1412.00h5v5h-5ZM956.00 1414.00h7v1h-7ZM959.00 1411.00h1v7h-1Z" fill="#e51e10"/><path d="M970.00 1428.00h5v5h-5ZM969.00 1430.00h7v1h-7ZM972.00 1427.00h1v7h-1Z" fill="#e51e10"/><path d="M983.00 1443.00h5v5h-5ZM982.00 1445.00h7v1h-7ZM985.00 1442.00h1v7h-1Z" fill="#e51e10"/><path d="M997.00 1457.00h5v5h-5ZM996.00 1459.00h7v1h-7ZM999.00 1456.00h1v7h-1Z" fill="#e51e10"/><path d="M1010.00 1471.00h5v5h-5ZM1009.00 1473.00h7v1h-7ZM1012.00 1470.00h1v7h-1Z" fill="#e51e10"/><path d="M1024.00 1483.00h5v5h-5ZM1023.00 1485.00h7v1h-7ZM1026.00 1482.00h1v7h-1Z" fill="#e51e10"/><path d="M1037.00 1495.00h5v5h-5ZM1036.00 1497.00h7v1h-7ZM1039.00 1494.00h1v7h-1Z" fill="#e51e10"/><path d="M1050.00 1505.00h5v5h-5ZM1049.00 1507.00h7v1h-7ZM1052.00 1504.00h1v7h-1Z" fill="#e51e10"/><path d="M1064.00 1514.00h5v5h-5ZM1063.00 1516.00h7v1h-7ZM1066.00 1513.00h1v7h-1Z" fill="#e51e10"/><path d="M1077.00 1521.00h5v5h-5ZM1076.00 1523.00h7v1h-7ZM1079.00 1520.00h1v7h-1Z" fill="#e51e10"/><path d="M1091.00 1527.00h5v5h-5ZM1090.00 1529.00h7v1h-7ZM1093.00 1526.00h1v7h-1Z" fill="#e51e10"/><path d="M1104.00 1530.00h5v5h-5ZM1103.00 1532.00h7v1h-7ZM1106.00 1529.00h1v7h-1Z" fill="#e51e10"/><path d="M1117.00 1533.00h5v5h-5ZM1116.00 1535.00h7v1h-7ZM1119.00 1532.00h1v7h-1Z" fill="#e51e10"/><path d="M1131.00 1534.00h5v5h-5ZM1130.00 1536.00h7v1h-7ZM1133.00 1533.00h1v7h-1Z" fill="#e51e10"/><path d="M1144.00 1534.00h5v5h-5ZM1143.00 1536.00h7v1h-7ZM1146.00 1533.00h1v7h-1Z" fill="#e51e10"/><path d="M1158.00 1536.00h5v5h-5ZM1157.00 1538.00h7v1h-7ZM1160.00 1535.00h1v7h-1Z" fill="#e51e10"/><path d="M1171.00 1538.00h5v5h-5ZM1170.00 1540.00h7v1h-7ZM1173.00 1537.00h1v7h-1Z" fill="#e51e10"/><path d="M1184.00 1542.00h5v5h-5ZM1183.00 1544.00h7v1h-7ZM1186.00 1541.00h1v7h-1Z" fill="#e51e10"/><path d="M1198.00 1548.00h5v5h-5ZM1197.00 1550.00h7v1h-7ZM1200.00 1547.00h1v7h-1Z" fill="#e51e10"/><path d="M1211.00 1556.00h5v5h-5ZM1210.00 1558.00h7v1h-7ZM1213.00 1555.00h1v7h-1Z" fill="#e51e10"/><path d="M1225.00 1564.00h5v5h-5ZM1224.00 1566.00h7v1h-7ZM1227.00 1563.00h1v7h-1Z" fill="#e51e10"/><path d="M1238.00 1571.00h5v5h-5ZM1237.00 1573.00h7v1h-7ZM1240.00 1570.00h1v7h-1Z" fill="#e51e10"/><path d="M1251.00 1576.00h5v5h-5ZM1250.00 1578.00h7v1h-7ZM1253.00 1575.00h1v7h-1Z" fill="#e51e10"/><path d="M1265.00 1578.00h5v5h-5ZM1264.00 1580.00h7v1h-7ZM1267.00 1577.00h1v7h-1Z" fill="#e51e10"/><path d="M1278.00 1577.00h5v5h-5ZM1277.00 1579.00h7v1h-7ZM1280.00 1576.00h1v7h-1Z" fill="#e51e10"/><path d="M1292.00 1577.00h5v5h-5ZM1291.00 1579.00h7v1h-7ZM1294.00 1576.00h1v7h-1Z" fill="#e51e10"/><path d="M1305.00 1580.00h5v5h-5ZM1304.00 1582.00h7v1h-7ZM1307.00 1579.00h1v7h-1Z" fill="#e51e10"/><path d="M1318.00 1586.00h5v5h-5ZM1317.00 1588.00h7v1h-7ZM1320.00 1585.00h1v7h-1Z" fill="#e51e10"/><path d="M1332.00 1593.00h5v5h-5ZM1331.00 1595.00h7v1h-7ZM1334.00 1592.00h1v7h-1Z" fill="#e51e10"/><path d="M1345.00 1603.00h5v5h-5ZM1344.00 1605.00h7v1h-7ZM1347.00 1602.00h1v7h-1Z" fill="#e51e10"/><path d="M1359.00 1627.00h5v5h-5ZM1358.00 1629.00h7v1h-7ZM1361.00 1626.00h1v7h-1Z" fill="#e51e10"/><path d="M1372.00 1671.00h5v5h-5ZM1371.00 1673.00h7v1h-7ZM1374.00 1670.00h1v7h-1Z" fill="#e51e10"/></g>
</g>
<g>
<path d="M661 1880.5H704" stroke="#000000" stroke-width="1"/>
<path d="M682.50 1876.60L686.40 1882.50H678.60Z" stroke="#000000" fill="none"/>
<text style="will-change:transform" x="653.6" y="1882.8" text-anchor="end" font-family="&quot;Liberation Sans&quot;, sans-serif" font-size="12.5" textLength="264.7" lengthAdjust="spacingAndGlyphs">[whale] Quantum Lightning 365S 4500RPM SCSI</text>
<polyline points="47.60,1728.50 61.00,1728.50 74.41,1728.50 87.81,1728.50 101.21,1728.50 114.62,1728.50 128.02,1728.50 141.42,1728.50 154.82,1728.50 168.23,1728.50 181.63,1728.50 195.03,1728.50 208.44,1728.50 221.84,1728.50 235.24,1728.50 248.65,1728.50 262.05,1728.49 275.45,1728.29 288.85,1728.03 302.26,1727.71 315.66,1727.36 329.06,1726.98 342.47,1726.60 355.87,1726.17 369.27,1725.60 382.68,1724.70 396.08,1722.50 409.48,1720.00 422.88,1715.40 436.29,1710.40 449.69,1703.70 463.09,1696.10 476.50,1686.80 489.90,1676.10 503.30,1663.20 516.71,1649.40 530.11,1635.10 543.51,1620.80 556.91,1604.70 570.32,1588.00 583.72,1569.20 597.12,1550.00 610.53,1528.90 623.93,1508.20 637.33,1485.10 650.74,1463.20 664.14,1439.70 677.54,1419.00 690.94,1398.20 704.35,1379.00 717.75,1361.80 731.15,1345.70 744.56,1331.80 757.96,1319.70 771.36,1309.70 784.77,1300.80 798.17,1292.50 811.57,1286.80 824.97,1280.40 838.38,1275.40 851.78,1270.80 865.18,1265.70 878.59,1261.50 891.99,1259.70 905.39,1258.20 918.80,1258.00 932.20,1259.70 945.60,1264.70 959.00,1273.00 972.41,1283.70 985.81,1298.00 999.21,1315.40 1012.62,1333.00 1026.02,1354.00 1039.42,1375.00 1052.83,1396.10 1066.23,1416.80 1079.63,1436.80 1093.03,1457.50 1106.44,1478.20 1119.84,1499.00 1133.24,1519.70 1146.65,1541.10 1160.05,1561.10 1173.45,1581.10 1186.86,1598.00 1200.26,1614.00 1213.66,1627.50 1227.06,1639.70 1240.47,1648.70 1253.87,1656.80 1267.27,1664.80 1280.68,1672.60 1294.08,1681.10 1307.48,1691.40 1320.88,1699.70 1334.29,1706.80 1347.69,1710.40 1361.09,1709.00 1374.50,1703.70" stroke="#000000" stroke-width="1" fill="none" stroke-linejoin="round"/>
<g shape-rendering="crispEdges"><path d="M47.50 1724.60L51.40 1730.50H43.60Z" stroke="#000000" fill="none"/><path d="M61.50 1724.60L65.40 1730.50H57.60Z" stroke="#000000" fill="none"/><path d="M74.50 1724.60L78.40 1730.50H70.60Z" stroke="#000000" fill="none"/><path d="M87.50 1724.60L91.40 1730.50H83.60Z" stroke="#000000" fill="none"/><path d="M101.50 1724.60L105.40 1730.50H97.60Z" stroke="#000000" fill="none"/><path d="M114.50 1724.60L118.40 1730.50H110.60Z" stroke="#000000" fill="none"/><path d="M128.50 1724.60L132.40 1730.50H124.60Z" stroke="#000000" fill="none"/><path d="M141.50 1724.60L145.40 1730.50H137.60Z" stroke="#000000" fill="none"/><path d="M154.50 1724.60L158.40 1730.50H150.60Z" stroke="#000000" fill="none"/><path d="M168.50 1724.60L172.40 1730.50H164.60Z" stroke="#000000" fill="none"/><path d="M181.50 1724.60L185.40 1730.50H177.60Z" stroke="#000000" fill="none"/><path d="M195.50 1724.60L199.40 1730.50H191.60Z" stroke="#000000" fill="none"/><path d="M208.50 1724.60L212.40 1730.50H204.60Z" stroke="#000000" fill="none"/><path d="M221.50 1724.60L225.40 1730.50H217.60Z" stroke="#000000" fill="none"/><path d="M235.50 1724.60L239.40 1730.50H231.60Z" stroke="#000000" fill="none"/><path d="M248.50 1724.60L252.40 1730.50H244.60Z" stroke="#000000" fill="none"/><path d="M262.50 1724.60L266.40 1730.50H258.60Z" stroke="#000000" fill="none"/><path d="M275.50 1724.60L279.40 1730.50H271.60Z" stroke="#000000" fill="none"/><path d="M288.50 1724.60L292.40 1730.50H284.60Z" stroke="#000000" fill="none"/><path d="M302.50 1723.60L306.40 1729.50H298.60Z" stroke="#000000" fill="none"/><path d="M315.50 1723.60L319.40 1729.50H311.60Z" stroke="#000000" fill="none"/><path d="M329.50 1722.60L333.40 1728.50H325.60Z" stroke="#000000" fill="none"/><path d="M342.50 1722.60L346.40 1728.50H338.60Z" stroke="#000000" fill="none"/><path d="M355.50 1722.60L359.40 1728.50H351.60Z" stroke="#000000" fill="none"/><path d="M369.50 1721.60L373.40 1727.50H365.60Z" stroke="#000000" fill="none"/><path d="M382.50 1720.60L386.40 1726.50H378.60Z" stroke="#000000" fill="none"/><path d="M396.50 1718.60L400.40 1724.50H392.60Z" stroke="#000000" fill="none"/><path d="M409.50 1716.60L413.40 1722.50H405.60Z" stroke="#000000" fill="none"/><path d="M422.50 1711.60L426.40 1717.50H418.60Z" stroke="#000000" fill="none"/><path d="M436.50 1706.60L440.40 1712.50H432.60Z" stroke="#000000" fill="none"/><path d="M449.50 1699.60L453.40 1705.50H445.60Z" stroke="#000000" fill="none"/><path d="M463.50 1692.60L467.40 1698.50H459.60Z" stroke="#000000" fill="none"/><path d="M476.50 1682.60L480.40 1688.50H472.60Z" stroke="#000000" fill="none"/><path d="M489.50 1672.60L493.40 1678.50H485.60Z" stroke="#000000" fill="none"/><path d="M503.50 1659.60L507.40 1665.50H499.60Z" stroke="#000000" fill="none"/><path d="M516.50 1645.60L520.40 1651.50H512.60Z" stroke="#000000" fill="none"/><path d="M530.50 1631.60L534.40 1637.50H526.60Z" stroke="#000000" fill="none"/><path d="M543.50 1616.60L547.40 1622.50H539.60Z" stroke="#000000" fill="none"/><path d="M556.50 1600.60L560.40 1606.50H552.60Z" stroke="#000000" fill="none"/><path d="M570.50 1584.60L574.40 1590.50H566.60Z" stroke="#000000" fill="none"/><path d="M583.50 1565.60L587.40 1571.50H579.60Z" stroke="#000000" fill="none"/><path d="M597.50 1546.60L601.40 1552.50H593.60Z" stroke="#000000" fill="none"/><path d="M610.50 1524.60L614.40 1530.50H606.60Z" stroke="#000000" fill="none"/><path d="M623.50 1504.60L627.40 1510.50H619.60Z" stroke="#000000" fill="none"/><path d="M637.50 1481.60L641.40 1487.50H633.60Z" stroke="#000000" fill="none"/><path d="M650.50 1459.60L654.40 1465.50H646.60Z" stroke="#000000" fill="none"/><path d="M664.50 1435.60L668.40 1441.50H660.60Z" stroke="#000000" fill="none"/><path d="M677.50 1415.60L681.40 1421.50H673.60Z" stroke="#000000" fill="none"/><path d="M690.50 1394.60L694.40 1400.50H686.60Z" stroke="#000000" fill="none"/><path d="M704.50 1375.60L708.40 1381.50H700.60Z" stroke="#000000" fill="none"/><path d="M717.50 1357.60L721.40 1363.50H713.60Z" stroke="#000000" fill="none"/><path d="M731.50 1341.60L735.40 1347.50H727.60Z" stroke="#000000" fill="none"/><path d="M744.50 1327.60L748.40 1333.50H740.60Z" stroke="#000000" fill="none"/><path d="M757.50 1315.60L761.40 1321.50H753.60Z" stroke="#000000" fill="none"/><path d="M771.50 1305.60L775.40 1311.50H767.60Z" stroke="#000000" fill="none"/><path d="M784.50 1296.60L788.40 1302.50H780.60Z" stroke="#000000" fill="none"/><path d="M798.50 1288.60L802.40 1294.50H794.60Z" stroke="#000000" fill="none"/><path d="M811.50 1282.60L815.40 1288.50H807.60Z" stroke="#000000" fill="none"/><path d="M824.50 1276.60L828.40 1282.50H820.60Z" stroke="#000000" fill="none"/><path d="M838.50 1271.60L842.40 1277.50H834.60Z" stroke="#000000" fill="none"/><path d="M851.50 1266.60L855.40 1272.50H847.60Z" stroke="#000000" fill="none"/><path d="M865.50 1261.60L869.40 1267.50H861.60Z" stroke="#000000" fill="none"/><path d="M878.50 1257.60L882.40 1263.50H874.60Z" stroke="#000000" fill="none"/><path d="M891.50 1255.60L895.40 1261.50H887.60Z" stroke="#000000" fill="none"/><path d="M905.50 1254.60L909.40 1260.50H901.60Z" stroke="#000000" fill="none"/><path d="M918.50 1254.60L922.40 1260.50H914.60Z" stroke="#000000" fill="none"/><path d="M932.50 1255.60L936.40 1261.50H928.60Z" stroke="#000000" fill="none"/><path d="M945.50 1260.60L949.40 1266.50H941.60Z" stroke="#000000" fill="none"/><path d="M959.50 1269.60L963.40 1275.50H955.60Z" stroke="#000000" fill="none"/><path d="M972.50 1279.60L976.40 1285.50H968.60Z" stroke="#000000" fill="none"/><path d="M985.50 1294.60L989.40 1300.50H981.60Z" stroke="#000000" fill="none"/><path d="M999.50 1311.60L1003.40 1317.50H995.60Z" stroke="#000000" fill="none"/><path d="M1012.50 1329.60L1016.40 1335.50H1008.60Z" stroke="#000000" fill="none"/><path d="M1026.50 1350.60L1030.40 1356.50H1022.60Z" stroke="#000000" fill="none"/><path d="M1039.50 1371.60L1043.40 1377.50H1035.60Z" stroke="#000000" fill="none"/><path d="M1052.50 1392.60L1056.40 1398.50H1048.60Z" stroke="#000000" fill="none"/><path d="M1066.50 1412.60L1070.40 1418.50H1062.60Z" stroke="#000000" fill="none"/><path d="M1079.50 1432.60L1083.40 1438.50H1075.60Z" stroke="#000000" fill="none"/><path d="M1093.50 1453.60L1097.40 1459.50H1089.60Z" stroke="#000000" fill="none"/><path d="M1106.50 1474.60L1110.40 1480.50H1102.60Z" stroke="#000000" fill="none"/><path d="M1119.50 1495.60L1123.40 1501.50H1115.60Z" stroke="#000000" fill="none"/><path d="M1133.50 1515.60L1137.40 1521.50H1129.60Z" stroke="#000000" fill="none"/><path d="M1146.50 1537.60L1150.40 1543.50H1142.60Z" stroke="#000000" fill="none"/><path d="M1160.50 1557.60L1164.40 1563.50H1156.60Z" stroke="#000000" fill="none"/><path d="M1173.50 1577.60L1177.40 1583.50H1169.60Z" stroke="#000000" fill="none"/><path d="M1186.50 1594.60L1190.40 1600.50H1182.60Z" stroke="#000000" fill="none"/><path d="M1200.50 1610.60L1204.40 1616.50H1196.60Z" stroke="#000000" fill="none"/><path d="M1213.50 1623.60L1217.40 1629.50H1209.60Z" stroke="#000000" fill="none"/><path d="M1227.50 1635.60L1231.40 1641.50H1223.60Z" stroke="#000000" fill="none"/><path d="M1240.50 1644.60L1244.40 1650.50H1236.60Z" stroke="#000000" fill="none"/><path d="M1253.50 1652.60L1257.40 1658.50H1249.60Z" stroke="#000000" fill="none"/><path d="M1267.50 1660.60L1271.40 1666.50H1263.60Z" stroke="#000000" fill="none"/><path d="M1280.50 1668.60L1284.40 1674.50H1276.60Z" stroke="#000000" fill="none"/><path d="M1294.50 1677.60L1298.40 1683.50H1290.60Z" stroke="#000000" fill="none"/><path d="M1307.50 1687.60L1311.40 1693.50H1303.60Z" stroke="#000000" fill="none"/><path d="M1320.50 1695.60L1324.40 1701.50H1316.60Z" stroke="#000000" fill="none"/><path d="M1334.50 1702.60L1338.40 1708.50H1330.60Z" stroke="#000000" fill="none"/><path d="M1347.50 1706.60L1351.40 1712.50H1343.60Z" stroke="#000000" fill="none"/><path d="M1361.50 1705.60L1365.40 1711.50H1357.60Z" stroke="#000000" fill="none"/><path d="M1374.50 1699.60L1378.40 1705.50H1370.60Z" stroke="#000000" fill="none"/></g>
</g>
<g>
<path d="M661 1897.5H704" stroke="#9400d3" stroke-width="1"/>
<path d="M682.50 1893.10L686.90 1900.00H678.10Z" fill="#9400d3"/>
<text style="will-change:transform" x="653.6" y="1899.8" text-anchor="end" font-family="&quot;Liberation Sans&quot;, sans-serif" font-size="12.5" textLength="320.0" lengthAdjust="spacingAndGlyphs">[elm3a75] Fujitsu MAS3735NC 73.4G 15000RPM U320 SCSI</text>
<polyline points="47.60,1728.50 61.00,1727.50 74.41,1719.00 87.81,1686.10 101.21,1616.10 114.62,1506.30 128.02,1358.20 141.42,1184.40 154.82,995.30 168.23,806.10 181.63,632.10 195.03,485.80 208.44,383.00 221.84,329.00 235.24,327.90 248.65,378.20 262.05,471.90 275.45,598.90 288.85,748.20 302.26,906.40 315.66,1061.60 329.06,1201.10 342.47,1333.00 355.87,1440.10 369.27,1525.80 382.68,1591.10 396.08,1639.70 409.48,1672.50 422.88,1693.20 436.29,1707.50 449.69,1716.10 463.09,1721.80 476.50,1724.20 489.90,1725.70 503.30,1726.50 516.71,1727.33 530.11,1727.90 543.51,1728.11 556.91,1728.26 570.32,1728.36 583.72,1728.40 597.12,1728.40 610.53,1728.41 623.93,1728.41 637.33,1728.42 650.74,1728.42 664.14,1728.43 677.54,1728.43 690.94,1728.43 704.35,1728.44 717.75,1728.44 731.15,1728.44 744.56,1728.45 757.96,1728.45 771.36,1728.45 784.77,1728.46 798.17,1728.46 811.57,1728.46 824.97,1728.46 838.38,1728.47 851.78,1728.47 865.18,1728.47 878.59,1728.47 891.99,1728.47 905.39,1728.48 918.80,1728.48 932.20,1728.48 945.60,1728.48 959.00,1728.48 972.41,1728.48 985.81,1728.49 999.21,1728.49 1012.62,1728.49 1026.02,1728.49 1039.42,1728.49 1052.83,1728.49 1066.23,1728.49 1079.63,1728.49 1093.03,1728.49 1106.44,1728.49 1119.84,1728.49 1133.24,1728.50 1146.65,1728.50 1160.05,1728.50 1173.45,1728.50 1186.86,1728.50 1200.26,1728.50 1213.66,1728.50 1227.06,1728.50 1240.47,1728.50 1253.87,1728.50 1267.27,1728.50 1280.68,1728.50 1294.08,1728.50 1307.48,1728.50 1320.88,1728.50 1334.29,1728.50 1347.69,1728.50 1361.09,1728.50 1374.50,1728.50" stroke="#9400d3" stroke-width="1" fill="none" stroke-linejoin="round"/>
<g shape-rendering="crispEdges"><path d="M47.50 1724.10L51.90 1731.00H43.10Z" fill="#9400d3"/><path d="M61.50 1723.10L65.90 1730.00H57.10Z" fill="#9400d3"/><path d="M74.50 1715.10L78.90 1722.00H70.10Z" fill="#9400d3"/><path d="M87.50 1682.10L91.90 1689.00H83.10Z" fill="#9400d3"/><path d="M101.50 1612.10L105.90 1619.00H97.10Z" fill="#9400d3"/><path d="M114.50 1502.10L118.90 1509.00H110.10Z" fill="#9400d3"/><path d="M128.50 1354.10L132.90 1361.00H124.10Z" fill="#9400d3"/><path d="M141.50 1180.10L145.90 1187.00H137.10Z" fill="#9400d3"/><path d="M154.50 991.10L158.90 998.00H150.10Z" fill="#9400d3"/><path d="M168.50 802.10L172.90 809.00H164.10Z" fill="#9400d3"/><path d="M181.50 628.10L185.90 635.00H177.10Z" fill="#9400d3"/><path d="M195.50 481.10L199.90 488.00H191.10Z" fill="#9400d3"/><path d="M208.50 379.10L212.90 386.00H204.10Z" fill="#9400d3"/><path d="M221.50 325.10L225.90 332.00H217.10Z" fill="#9400d3"/><path d="M235.50 323.10L239.90 330.00H231.10Z" fill="#9400d3"/><path d="M248.50 374.10L252.90 381.00H244.10Z" fill="#9400d3"/><path d="M262.50 467.10L266.90 474.00H258.10Z" fill="#9400d3"/><path d="M275.50 594.10L279.90 601.00H271.10Z" fill="#9400d3"/><path d="M288.50 744.10L292.90 751.00H284.10Z" fill="#9400d3"/><path d="M302.50 902.10L306.90 909.00H298.10Z" fill="#9400d3"/><path d="M315.50 1057.10L319.90 1064.00H311.10Z" fill="#9400d3"/><path d="M329.50 1197.10L333.90 1204.00H325.10Z" fill="#9400d3"/><path d="M342.50 1329.10L346.90 1336.00H338.10Z" fill="#9400d3"/><path d="M355.50 1436.10L359.90 1443.00H351.10Z" fill="#9400d3"/><path d="M369.50 1521.10L373.90 1528.00H365.10Z" fill="#9400d3"/><path d="M382.50 1587.10L386.90 1594.00H378.10Z" fill="#9400d3"/><path d="M396.50 1635.10L400.90 1642.00H392.10Z" fill="#9400d3"/><path d="M409.50 1668.10L413.90 1675.00H405.10Z" fill="#9400d3"/><path d="M422.50 1689.10L426.90 1696.00H418.10Z" fill="#9400d3"/><path d="M436.50 1703.10L440.90 1710.00H432.10Z" fill="#9400d3"/><path d="M449.50 1712.10L453.90 1719.00H445.10Z" fill="#9400d3"/><path d="M463.50 1717.10L467.90 1724.00H459.10Z" fill="#9400d3"/><path d="M476.50 1720.10L480.90 1727.00H472.10Z" fill="#9400d3"/><path d="M489.50 1721.10L493.90 1728.00H485.10Z" fill="#9400d3"/><path d="M503.50 1722.10L507.90 1729.00H499.10Z" fill="#9400d3"/><path d="M516.50 1723.10L520.90 1730.00H512.10Z" fill="#9400d3"/><path d="M530.50 1723.10L534.90 1730.00H526.10Z" fill="#9400d3"/><path d="M543.50 1724.10L547.90 1731.00H539.10Z" fill="#9400d3"/><path d="M556.50 1724.10L560.90 1731.00H552.10Z" fill="#9400d3"/><path d="M570.50 1724.10L574.90 1731.00H566.10Z" fill="#9400d3"/><path d="M583.50 1724.10L587.90 1731.00H579.10Z" fill="#9400d3"/><path d="M597.50 1724.10L601.90 1731.00H593.10Z" fill="#9400d3"/><path d="M610.50 1724.10L614.90 1731.00H606.10Z" fill="#9400d3"/><path d="M623.50 1724.10L627.90 1731.00H619.10Z" fill="#9400d3"/><path d="M637.50 1724.10L641.90 1731.00H633.10Z" fill="#9400d3"/><path d="M650.50 1724.10L654.90 1731.00H646.10Z" fill="#9400d3"/><path d="M664.50 1724.10L668.90 1731.00H660.10Z" fill="#9400d3"/><path d="M677.50 1724.10L681.90 1731.00H673.10Z" fill="#9400d3"/><path d="M690.50 1724.10L694.90 1731.00H686.10Z" fill="#9400d3"/><path d="M704.50 1724.10L708.90 1731.00H700.10Z" fill="#9400d3"/><path d="M717.50 1724.10L721.90 1731.00H713.10Z" fill="#9400d3"/><path d="M731.50 1724.10L735.90 1731.00H727.10Z" fill="#9400d3"/><path d="M744.50 1724.10L748.90 1731.00H740.10Z" fill="#9400d3"/><path d="M757.50 1724.10L761.90 1731.00H753.10Z" fill="#9400d3"/><path d="M771.50 1724.10L775.90 1731.00H767.10Z" fill="#9400d3"/><path d="M784.50 1724.10L788.90 1731.00H780.10Z" fill="#9400d3"/><path d="M798.50 1724.10L802.90 1731.00H794.10Z" fill="#9400d3"/><path d="M811.50 1724.10L815.90 1731.00H807.10Z" fill="#9400d3"/><path d="M824.50 1724.10L828.90 1731.00H820.10Z" fill="#9400d3"/><path d="M838.50 1724.10L842.90 1731.00H834.10Z" fill="#9400d3"/><path d="M851.50 1724.10L855.90 1731.00H847.10Z" fill="#9400d3"/><path d="M865.50 1724.10L869.90 1731.00H861.10Z" fill="#9400d3"/><path d="M878.50 1724.10L882.90 1731.00H874.10Z" fill="#9400d3"/><path d="M891.50 1724.10L895.90 1731.00H887.10Z" fill="#9400d3"/><path d="M905.50 1724.10L909.90 1731.00H901.10Z" fill="#9400d3"/><path d="M918.50 1724.10L922.90 1731.00H914.10Z" fill="#9400d3"/><path d="M932.50 1724.10L936.90 1731.00H928.10Z" fill="#9400d3"/><path d="M945.50 1724.10L949.90 1731.00H941.10Z" fill="#9400d3"/><path d="M959.50 1724.10L963.90 1731.00H955.10Z" fill="#9400d3"/><path d="M972.50 1724.10L976.90 1731.00H968.10Z" fill="#9400d3"/><path d="M985.50 1724.10L989.90 1731.00H981.10Z" fill="#9400d3"/><path d="M999.50 1724.10L1003.90 1731.00H995.10Z" fill="#9400d3"/><path d="M1012.50 1724.10L1016.90 1731.00H1008.10Z" fill="#9400d3"/><path d="M1026.50 1724.10L1030.90 1731.00H1022.10Z" fill="#9400d3"/><path d="M1039.50 1724.10L1043.90 1731.00H1035.10Z" fill="#9400d3"/><path d="M1052.50 1724.10L1056.90 1731.00H1048.10Z" fill="#9400d3"/><path d="M1066.50 1724.10L1070.90 1731.00H1062.10Z" fill="#9400d3"/><path d="M1079.50 1724.10L1083.90 1731.00H1075.10Z" fill="#9400d3"/><path d="M1093.50 1724.10L1097.90 1731.00H1089.10Z" fill="#9400d3"/><path d="M1106.50 1724.10L1110.90 1731.00H1102.10Z" fill="#9400d3"/><path d="M1119.50 1724.10L1123.90 1731.00H1115.10Z" fill="#9400d3"/><path d="M1133.50 1724.10L1137.90 1731.00H1129.10Z" fill="#9400d3"/><path d="M1146.50 1724.10L1150.90 1731.00H1142.10Z" fill="#9400d3"/><path d="M1160.50 1724.10L1164.90 1731.00H1156.10Z" fill="#9400d3"/><path d="M1173.50 1724.10L1177.90 1731.00H1169.10Z" fill="#9400d3"/><path d="M1186.50 1724.10L1190.90 1731.00H1182.10Z" fill="#9400d3"/><path d="M1200.50 1724.10L1204.90 1731.00H1196.10Z" fill="#9400d3"/><path d="M1213.50 1724.10L1217.90 1731.00H1209.10Z" fill="#9400d3"/><path d="M1227.50 1724.10L1231.90 1731.00H1223.10Z" fill="#9400d3"/><path d="M1240.50 1724.10L1244.90 1731.00H1236.10Z" fill="#9400d3"/><path d="M1253.50 1724.10L1257.90 1731.00H1249.10Z" fill="#9400d3"/><path d="M1267.50 1724.10L1271.90 1731.00H1263.10Z" fill="#9400d3"/><path d="M1280.50 1724.10L1284.90 1731.00H1276.10Z" fill="#9400d3"/><path d="M1294.50 1724.10L1298.90 1731.00H1290.10Z" fill="#9400d3"/><path d="M1307.50 1724.10L1311.90 1731.00H1303.10Z" fill="#9400d3"/><path d="M1320.50 1724.10L1324.90 1731.00H1316.10Z" fill="#9400d3"/><path d="M1334.50 1724.10L1338.90 1731.00H1330.10Z" fill="#9400d3"/><path d="M1347.50 1724.10L1351.90 1731.00H1343.10Z" fill="#9400d3"/><path d="M1361.50 1724.10L1365.90 1731.00H1357.10Z" fill="#9400d3"/><path d="M1374.50 1724.10L1378.90 1731.00H1370.10Z" fill="#9400d3"/></g>
</g>
<g>
<path d="M1137.5 1761.5H1179.6" stroke="#009e73" stroke-width="1"/>
<path d="M1158.50 1765.40L1162.40 1759.50H1154.60Z" stroke="#009e73" fill="none"/>
<text style="will-change:transform" x="1129.7" y="1763.8" text-anchor="end" font-family="&quot;Liberation Sans&quot;, sans-serif" font-size="12.5" textLength="356.5" lengthAdjust="spacingAndGlyphs">[elm3a75] Hitachi HUS103014FL3800 146G 10025RPM U320 SCSI</text>
<polyline points="47.60,1728.50 61.00,1726.49 74.41,1720.72 87.81,1711.62 101.21,1699.60 114.62,1668.90 128.02,1623.20 141.42,1560.30 154.82,1485.50 168.23,1402.20 181.63,1313.30 195.03,1226.80 208.44,1139.60 221.84,1056.50 235.24,978.50 248.65,909.90 262.05,851.10 275.45,804.90 288.85,776.30 302.26,763.50 315.66,769.10 329.06,790.90 342.47,828.30 355.87,881.40 369.27,944.10 382.68,1013.70 396.08,1088.70 409.48,1164.20 422.88,1241.40 436.29,1313.20 449.69,1379.40 463.09,1439.60 476.50,1492.30 489.90,1538.90 503.30,1576.00 516.71,1606.00 530.11,1631.00 543.51,1651.00 556.91,1666.00 570.32,1677.50 583.72,1686.80 597.12,1693.60 610.53,1698.90 623.93,1703.40 637.33,1707.50 650.74,1711.00 664.14,1713.60 677.54,1716.30 690.94,1720.90 704.35,1722.90 717.75,1723.70 731.15,1726.10 744.56,1726.80 757.96,1727.29 771.36,1727.60 784.77,1727.77 798.17,1727.91 811.57,1728.02 824.97,1728.11 838.38,1728.17 851.78,1728.20 865.18,1728.22 878.59,1728.23 891.99,1728.25 905.39,1728.27 918.80,1728.28 932.20,1728.30 945.60,1728.31 959.00,1728.32 972.41,1728.34 985.81,1728.35 999.21,1728.36 1012.62,1728.37 1026.02,1728.38 1039.42,1728.39 1052.83,1728.40 1066.23,1728.41 1079.63,1728.42 1093.03,1728.43 1106.44,1728.43 1119.84,1728.44 1133.24,1728.45 1146.65,1728.45 1160.05,1728.46 1173.45,1728.47 1186.86,1728.47 1200.26,1728.47 1213.66,1728.48 1227.06,1728.48 1240.47,1728.49 1253.87,1728.49 1267.27,1728.49 1280.68,1728.49 1294.08,1728.49 1307.48,1728.50 1320.88,1728.50 1334.29,1728.50 1347.69,1728.50 1361.09,1728.50 1374.50,1728.50" stroke="#009e73" stroke-width="1" fill="none" stroke-linejoin="round"/>
<g shape-rendering="crispEdges"><path d="M47.50 1732.40L51.40 1726.50H43.60Z" stroke="#009e73" fill="none"/><path d="M61.50 1730.40L65.40 1724.50H57.60Z" stroke="#009e73" fill="none"/><path d="M74.50 1724.40L78.40 1718.50H70.60Z" stroke="#009e73" fill="none"/><path d="M87.50 1715.40L91.40 1709.50H83.60Z" stroke="#009e73" fill="none"/><path d="M101.50 1703.40L105.40 1697.50H97.60Z" stroke="#009e73" fill="none"/><path d="M114.50 1672.40L118.40 1666.50H110.60Z" stroke="#009e73" fill="none"/><path d="M128.50 1627.40L132.40 1621.50H124.60Z" stroke="#009e73" fill="none"/><path d="M141.50 1564.40L145.40 1558.50H137.60Z" stroke="#009e73" fill="none"/><path d="M154.50 1489.40L158.40 1483.50H150.60Z" stroke="#009e73" fill="none"/><path d="M168.50 1406.40L172.40 1400.50H164.60Z" stroke="#009e73" fill="none"/><path d="M181.50 1317.40L185.40 1311.50H177.60Z" stroke="#009e73" fill="none"/><path d="M195.50 1230.40L199.40 1224.50H191.60Z" stroke="#009e73" fill="none"/><path d="M208.50 1143.40L212.40 1137.50H204.60Z" stroke="#009e73" fill="none"/><path d="M221.50 1060.40L225.40 1054.50H217.60Z" stroke="#009e73" fill="none"/><path d="M235.50 982.40L239.40 976.50H231.60Z" stroke="#009e73" fill="none"/><path d="M248.50 913.40L252.40 907.50H244.60Z" stroke="#009e73" fill="none"/><path d="M262.50 855.40L266.40 849.50H258.60Z" stroke="#009e73" fill="none"/><path d="M275.50 808.40L279.40 802.50H271.60Z" stroke="#009e73" fill="none"/><path d="M288.50 780.40L292.40 774.50H284.60Z" stroke="#009e73" fill="none"/><path d="M302.50 767.40L306.40 761.50H298.60Z" stroke="#009e73" fill="none"/><path d="M315.50 773.40L319.40 767.50H311.60Z" stroke="#009e73" fill="none"/><path d="M329.50 794.40L333.40 788.50H325.60Z" stroke="#009e73" fill="none"/><path d="M342.50 832.40L346.40 826.50H338.60Z" stroke="#009e73" fill="none"/><path d="M355.50 885.40L359.40 879.50H351.60Z" stroke="#009e73" fill="none"/><path d="M369.50 948.40L373.40 942.50H365.60Z" stroke="#009e73" fill="none"/><path d="M382.50 1017.40L386.40 1011.50H378.60Z" stroke="#009e73" fill="none"/><path d="M396.50 1092.40L400.40 1086.50H392.60Z" stroke="#009e73" fill="none"/><path d="M409.50 1168.40L413.40 1162.50H405.60Z" stroke="#009e73" fill="none"/><path d="M422.50 1245.40L426.40 1239.50H418.60Z" stroke="#009e73" fill="none"/><path d="M436.50 1317.40L440.40 1311.50H432.60Z" stroke="#009e73" fill="none"/><path d="M449.50 1383.40L453.40 1377.50H445.60Z" stroke="#009e73" fill="none"/><path d="M463.50 1443.40L467.40 1437.50H459.60Z" stroke="#009e73" fill="none"/><path d="M476.50 1496.40L480.40 1490.50H472.60Z" stroke="#009e73" fill="none"/><path d="M489.50 1542.40L493.40 1536.50H485.60Z" stroke="#009e73" fill="none"/><path d="M503.50 1580.40L507.40 1574.50H499.60Z" stroke="#009e73" fill="none"/><path d="M516.50 1610.40L520.40 1604.50H512.60Z" stroke="#009e73" fill="none"/><path d="M530.50 1635.40L534.40 1629.50H526.60Z" stroke="#009e73" fill="none"/><path d="M543.50 1655.40L547.40 1649.50H539.60Z" stroke="#009e73" fill="none"/><path d="M556.50 1670.40L560.40 1664.50H552.60Z" stroke="#009e73" fill="none"/><path d="M570.50 1681.40L574.40 1675.50H566.60Z" stroke="#009e73" fill="none"/><path d="M583.50 1690.40L587.40 1684.50H579.60Z" stroke="#009e73" fill="none"/><path d="M597.50 1697.40L601.40 1691.50H593.60Z" stroke="#009e73" fill="none"/><path d="M610.50 1702.40L614.40 1696.50H606.60Z" stroke="#009e73" fill="none"/><path d="M623.50 1707.40L627.40 1701.50H619.60Z" stroke="#009e73" fill="none"/><path d="M637.50 1711.40L641.40 1705.50H633.60Z" stroke="#009e73" fill="none"/><path d="M650.50 1715.40L654.40 1709.50H646.60Z" stroke="#009e73" fill="none"/><path d="M664.50 1717.40L668.40 1711.50H660.60Z" stroke="#009e73" fill="none"/><path d="M677.50 1720.40L681.40 1714.50H673.60Z" stroke="#009e73" fill="none"/><path d="M690.50 1724.40L694.40 1718.50H686.60Z" stroke="#009e73" fill="none"/><path d="M704.50 1726.40L708.40 1720.50H700.60Z" stroke="#009e73" fill="none"/><path d="M717.50 1727.40L721.40 1721.50H713.60Z" stroke="#009e73" fill="none"/><path d="M731.50 1730.40L735.40 1724.50H727.60Z" stroke="#009e73" fill="none"/><path d="M744.50 1730.40L748.40 1724.50H740.60Z" stroke="#009e73" fill="none"/><path d="M757.50 1731.40L761.40 1725.50H753.60Z" stroke="#009e73" fill="none"/><path d="M771.50 1731.40L775.40 1725.50H767.60Z" stroke="#009e73" fill="none"/><path d="M784.50 1731.40L788.40 1725.50H780.60Z" stroke="#009e73" fill="none"/><path d="M798.50 1731.40L802.40 1725.50H794.60Z" stroke="#009e73" fill="none"/><path d="M811.50 1732.40L815.40 1726.50H807.60Z" stroke="#009e73" fill="none"/><path d="M824.50 1732.40L828.40 1726.50H820.60Z" stroke="#009e73" fill="none"/><path d="M838.50 1732.40L842.40 1726.50H834.60Z" stroke="#009e73" fill="none"/><path d="M851.50 1732.40L855.40 1726.50H847.60Z" stroke="#009e73" fill="none"/><path d="M865.50 1732.40L869.40 1726.50H861.60Z" stroke="#009e73" fill="none"/><path d="M878.50 1732.40L882.40 1726.50H874.60Z" stroke="#009e73" fill="none"/><path d="M891.50 1732.40L895.40 1726.50H887.60Z" stroke="#009e73" fill="none"/><path d="M905.50 1732.40L909.40 1726.50H901.60Z" stroke="#009e73" fill="none"/><path d="M918.50 1732.40L922.40 1726.50H914.60Z" stroke="#009e73" fill="none"/><path d="M932.50 1732.40L936.40 1726.50H928.60Z" stroke="#009e73" fill="none"/><path d="M945.50 1732.40L949.40 1726.50H941.60Z" stroke="#009e73" fill="none"/><path d="M959.50 1732.40L963.40 1726.50H955.60Z" stroke="#009e73" fill="none"/><path d="M972.50 1732.40L976.40 1726.50H968.60Z" stroke="#009e73" fill="none"/><path d="M985.50 1732.40L989.40 1726.50H981.60Z" stroke="#009e73" fill="none"/><path d="M999.50 1732.40L1003.40 1726.50H995.60Z" stroke="#009e73" fill="none"/><path d="M1012.50 1732.40L1016.40 1726.50H1008.60Z" stroke="#009e73" fill="none"/><path d="M1026.50 1732.40L1030.40 1726.50H1022.60Z" stroke="#009e73" fill="none"/><path d="M1039.50 1732.40L1043.40 1726.50H1035.60Z" stroke="#009e73" fill="none"/><path d="M1052.50 1732.40L1056.40 1726.50H1048.60Z" stroke="#009e73" fill="none"/><path d="M1066.50 1732.40L1070.40 1726.50H1062.60Z" stroke="#009e73" fill="none"/><path d="M1079.50 1732.40L1083.40 1726.50H1075.60Z" stroke="#009e73" fill="none"/><path d="M1093.50 1732.40L1097.40 1726.50H1089.60Z" stroke="#009e73" fill="none"/><path d="M1106.50 1732.40L1110.40 1726.50H1102.60Z" stroke="#009e73" fill="none"/><path d="M1119.50 1732.40L1123.40 1726.50H1115.60Z" stroke="#009e73" fill="none"/><path d="M1133.50 1732.40L1137.40 1726.50H1129.60Z" stroke="#009e73" fill="none"/><path d="M1146.50 1732.40L1150.40 1726.50H1142.60Z" stroke="#009e73" fill="none"/><path d="M1160.50 1732.40L1164.40 1726.50H1156.60Z" stroke="#009e73" fill="none"/><path d="M1173.50 1732.40L1177.40 1726.50H1169.60Z" stroke="#009e73" fill="none"/><path d="M1186.50 1732.40L1190.40 1726.50H1182.60Z" stroke="#009e73" fill="none"/><path d="M1200.50 1732.40L1204.40 1726.50H1196.60Z" stroke="#009e73" fill="none"/><path d="M1213.50 1732.40L1217.40 1726.50H1209.60Z" stroke="#009e73" fill="none"/><path d="M1227.50 1732.40L1231.40 1726.50H1223.60Z" stroke="#009e73" fill="none"/><path d="M1240.50 1732.40L1244.40 1726.50H1236.60Z" stroke="#009e73" fill="none"/><path d="M1253.50 1732.40L1257.40 1726.50H1249.60Z" stroke="#009e73" fill="none"/><path d="M1267.50 1732.40L1271.40 1726.50H1263.60Z" stroke="#009e73" fill="none"/><path d="M1280.50 1732.40L1284.40 1726.50H1276.60Z" stroke="#009e73" fill="none"/><path d="M1294.50 1732.40L1298.40 1726.50H1290.60Z" stroke="#009e73" fill="none"/><path d="M1307.50 1732.40L1311.40 1726.50H1303.60Z" stroke="#009e73" fill="none"/><path d="M1320.50 1732.40L1324.40 1726.50H1316.60Z" stroke="#009e73" fill="none"/><path d="M1334.50 1732.40L1338.40 1726.50H1330.60Z" stroke="#009e73" fill="none"/><path d="M1347.50 1732.40L1351.40 1726.50H1343.60Z" stroke="#009e73" fill="none"/><path d="M1361.50 1732.40L1365.40 1726.50H1357.60Z" stroke="#009e73" fill="none"/><path d="M1374.50 1732.40L1378.40 1726.50H1370.60Z" stroke="#009e73" fill="none"/></g>
</g>
<g>
<path d="M1137.5 1778.5H1179.6" stroke="#56b4e9" stroke-width="1"/>
<path d="M1158.50 1782.90L1162.90 1776.00H1154.10Z" fill="#56b4e9"/>
<text style="will-change:transform" x="1129.7" y="1780.8" text-anchor="end" font-family="&quot;Liberation Sans&quot;, sans-serif" font-size="12.5" textLength="348.3" lengthAdjust="spacingAndGlyphs">[elm3a77] Maxtor 8J073J0 GNS073C3ESTT0Z 73G 10kRPM SCSI</text>
<polyline points="47.60,1728.50 61.00,1726.17 74.41,1719.64 87.81,1709.60 101.21,1681.00 114.62,1634.60 128.02,1571.00 141.42,1489.60 154.82,1397.90 168.23,1298.60 181.63,1195.90 195.03,1095.90 208.44,1000.90 221.84,915.90 235.24,840.30 248.65,777.10 262.05,729.70 275.45,701.20 288.85,691.60 302.26,702.30 315.66,730.70 329.06,777.80 342.47,840.40 355.87,914.60 369.27,996.90 382.68,1083.40 396.08,1173.40 409.48,1261.80 422.88,1345.30 436.29,1421.90 449.69,1488.40 463.09,1547.90 476.50,1595.30 489.90,1633.20 503.30,1661.80 516.71,1683.90 530.11,1699.90 543.51,1710.90 556.91,1717.90 570.32,1721.90 583.72,1723.90 597.12,1724.73 610.53,1725.38 623.93,1725.87 637.33,1726.20 650.74,1726.40 664.14,1726.53 677.54,1726.65 690.94,1726.76 704.35,1726.87 717.75,1726.96 731.15,1727.04 744.56,1727.12 757.96,1727.18 771.36,1727.24 784.77,1727.29 798.17,1727.33 811.57,1727.36 824.97,1727.38 838.38,1727.40 851.78,1727.40 865.18,1727.40 878.59,1727.40 891.99,1727.40 905.39,1727.40 918.80,1727.40 932.20,1727.40 945.60,1727.39 959.00,1727.39 972.41,1727.39 985.81,1727.38 999.21,1727.38 1012.62,1727.37 1026.02,1727.36 1039.42,1727.35 1052.83,1727.34 1066.23,1727.33 1079.63,1727.32 1093.03,1727.30 1106.44,1727.28 1119.84,1727.27 1133.24,1727.24 1146.65,1727.22 1160.05,1727.19 1173.45,1727.17 1186.86,1727.14 1200.26,1727.10 1213.66,1727.07 1227.06,1727.03 1240.47,1726.99 1253.87,1726.94 1267.27,1726.90 1280.68,1726.85 1294.08,1726.79 1307.48,1726.74 1320.88,1726.68 1334.29,1726.61 1347.69,1726.55 1361.09,1726.47 1374.50,1726.40" stroke="#56b4e9" stroke-width="1" fill="none" stroke-linejoin="round"/>
<g shape-rendering="crispEdges"><path d="M47.50 1732.90L51.90 1726.00H43.10Z" fill="#56b4e9"/><path d="M61.50 1730.90L65.90 1724.00H57.10Z" fill="#56b4e9"/><path d="M74.50 1723.90L78.90 1717.00H70.10Z" fill="#56b4e9"/><path d="M87.50 1713.90L91.90 1707.00H83.10Z" fill="#56b4e9"/><path d="M101.50 1685.90L105.90 1679.00H97.10Z" fill="#56b4e9"/><path d="M114.50 1638.90L118.90 1632.00H110.10Z" fill="#56b4e9"/><path d="M128.50 1575.90L132.90 1569.00H124.10Z" fill="#56b4e9"/><path d="M141.50 1493.90L145.90 1487.00H137.10Z" fill="#56b4e9"/><path d="M154.50 1401.90L158.90 1395.00H150.10Z" fill="#56b4e9"/><path d="M168.50 1302.90L172.90 1296.00H164.10Z" fill="#56b4e9"/><path d="M181.50 1199.90L185.90 1193.00H177.10Z" fill="#56b4e9"/><path d="M195.50 1099.90L199.90 1093.00H191.10Z" fill="#56b4e9"/><path d="M208.50 1004.90L212.90 998.00H204.10Z" fill="#56b4e9"/><path d="M221.50 919.90L225.90 913.00H217.10Z" fill="#56b4e9"/><path d="M235.50 844.90L239.90 838.00H231.10Z" fill="#56b4e9"/><path d="M248.50 781.90L252.90 775.00H244.10Z" fill="#56b4e9"/><path d="M262.50 733.90L266.90 727.00H258.10Z" fill="#56b4e9"/><path d="M275.50 705.90L279.90 699.00H271.10Z" fill="#56b4e9"/><path d="M288.50 695.90L292.90 689.00H284.10Z" fill="#56b4e9"/><path d="M302.50 706.90L306.90 700.00H298.10Z" fill="#56b4e9"/><path d="M315.50 734.90L319.90 728.00H311.10Z" fill="#56b4e9"/><path d="M329.50 781.90L333.90 775.00H325.10Z" fill="#56b4e9"/><path d="M342.50 844.90L346.90 838.00H338.10Z" fill="#56b4e9"/><path d="M355.50 918.90L359.90 912.00H351.10Z" fill="#56b4e9"/><path d="M369.50 1000.90L373.90 994.00H365.10Z" fill="#56b4e9"/><path d="M382.50 1087.90L386.90 1081.00H378.10Z" fill="#56b4e9"/><path d="M396.50 1177.90L400.90 1171.00H392.10Z" fill="#56b4e9"/><path d="M409.50 1265.90L413.90 1259.00H405.10Z" fill="#56b4e9"/><path d="M422.50 1349.90L426.90 1343.00H418.10Z" fill="#56b4e9"/><path d="M436.50 1425.90L440.90 1419.00H432.10Z" fill="#56b4e9"/><path d="M449.50 1492.90L453.90 1486.00H445.10Z" fill="#56b4e9"/><path d="M463.50 1551.90L467.90 1545.00H459.10Z" fill="#56b4e9"/><path d="M476.50 1599.90L480.90 1593.00H472.10Z" fill="#56b4e9"/><path d="M489.50 1637.90L493.90 1631.00H485.10Z" fill="#56b4e9"/><path d="M503.50 1665.90L507.90 1659.00H499.10Z" fill="#56b4e9"/><path d="M516.50 1687.90L520.90 1681.00H512.10Z" fill="#56b4e9"/><path d="M530.50 1703.90L534.90 1697.00H526.10Z" fill="#56b4e9"/><path d="M543.50 1714.90L547.90 1708.00H539.10Z" fill="#56b4e9"/><path d="M556.50 1721.90L560.90 1715.00H552.10Z" fill="#56b4e9"/><path d="M570.50 1725.90L574.90 1719.00H566.10Z" fill="#56b4e9"/><path d="M583.50 1727.90L587.90 1721.00H579.10Z" fill="#56b4e9"/><path d="M597.50 1728.90L601.90 1722.00H593.10Z" fill="#56b4e9"/><path d="M610.50 1729.90L614.90 1723.00H606.10Z" fill="#56b4e9"/><path d="M623.50 1729.90L627.90 1723.00H619.10Z" fill="#56b4e9"/><path d="M637.50 1730.90L641.90 1724.00H633.10Z" fill="#56b4e9"/><path d="M650.50 1730.90L654.90 1724.00H646.10Z" fill="#56b4e9"/><path d="M664.50 1730.90L668.90 1724.00H660.10Z" fill="#56b4e9"/><path d="M677.50 1730.90L681.90 1724.00H673.10Z" fill="#56b4e9"/><path d="M690.50 1730.90L694.90 1724.00H686.10Z" fill="#56b4e9"/><path d="M704.50 1730.90L708.90 1724.00H700.10Z" fill="#56b4e9"/><path d="M717.50 1730.90L721.90 1724.00H713.10Z" fill="#56b4e9"/><path d="M731.50 1731.90L735.90 1725.00H727.10Z" fill="#56b4e9"/><path d="M744.50 1731.90L748.90 1725.00H740.10Z" fill="#56b4e9"/><path d="M757.50 1731.90L761.90 1725.00H753.10Z" fill="#56b4e9"/><path d="M771.50 1731.90L775.90 1725.00H767.10Z" fill="#56b4e9"/><path d="M784.50 1731.90L788.90 1725.00H780.10Z" fill="#56b4e9"/><path d="M798.50 1731.90L802.90 1725.00H794.10Z" fill="#56b4e9"/><path d="M811.50 1731.90L815.90 1725.00H807.10Z" fill="#56b4e9"/><path d="M824.50 1731.90L828.90 1725.00H820.10Z" fill="#56b4e9"/><path d="M838.50 1731.90L842.90 1725.00H834.10Z" fill="#56b4e9"/><path d="M851.50 1731.90L855.90 1725.00H847.10Z" fill="#56b4e9"/><path d="M865.50 1731.90L869.90 1725.00H861.10Z" fill="#56b4e9"/><path d="M878.50 1731.90L882.90 1725.00H874.10Z" fill="#56b4e9"/><path d="M891.50 1731.90L895.90 1725.00H887.10Z" fill="#56b4e9"/><path d="M905.50 1731.90L909.90 1725.00H901.10Z" fill="#56b4e9"/><path d="M918.50 1731.90L922.90 1725.00H914.10Z" fill="#56b4e9"/><path d="M932.50 1731.90L936.90 1725.00H928.10Z" fill="#56b4e9"/><path d="M945.50 1731.90L949.90 1725.00H941.10Z" fill="#56b4e9"/><path d="M959.50 1731.90L963.90 1725.00H955.10Z" fill="#56b4e9"/><path d="M972.50 1731.90L976.90 1725.00H968.10Z" fill="#56b4e9"/><path d="M985.50 1731.90L989.90 1725.00H981.10Z" fill="#56b4e9"/><path d="M999.50 1731.90L1003.90 1725.00H995.10Z" fill="#56b4e9"/><path d="M1012.50 1731.90L1016.90 1725.00H1008.10Z" fill="#56b4e9"/><path d="M1026.50 1731.90L1030.90 1725.00H1022.10Z" fill="#56b4e9"/><path d="M1039.50 1731.90L1043.90 1725.00H1035.10Z" fill="#56b4e9"/><path d="M1052.50 1731.90L1056.90 1725.00H1048.10Z" fill="#56b4e9"/><path d="M1066.50 1731.90L1070.90 1725.00H1062.10Z" fill="#56b4e9"/><path d="M1079.50 1731.90L1083.90 1725.00H1075.10Z" fill="#56b4e9"/><path d="M1093.50 1731.90L1097.90 1725.00H1089.10Z" fill="#56b4e9"/><path d="M1106.50 1731.90L1110.90 1725.00H1102.10Z" fill="#56b4e9"/><path d="M1119.50 1731.90L1123.90 1725.00H1115.10Z" fill="#56b4e9"/><path d="M1133.50 1731.90L1137.90 1725.00H1129.10Z" fill="#56b4e9"/><path d="M1146.50 1731.90L1150.90 1725.00H1142.10Z" fill="#56b4e9"/><path d="M1160.50 1731.90L1164.90 1725.00H1156.10Z" fill="#56b4e9"/><path d="M1173.50 1731.90L1177.90 1725.00H1169.10Z" fill="#56b4e9"/><path d="M1186.50 1731.90L1190.90 1725.00H1182.10Z" fill="#56b4e9"/><path d="M1200.50 1731.90L1204.90 1725.00H1196.10Z" fill="#56b4e9"/><path d="M1213.50 1731.90L1217.90 1725.00H1209.10Z" fill="#56b4e9"/><path d="M1227.50 1731.90L1231.90 1725.00H1223.10Z" fill="#56b4e9"/><path d="M1240.50 1730.90L1244.90 1724.00H1236.10Z" fill="#56b4e9"/><path d="M1253.50 1730.90L1257.90 1724.00H1249.10Z" fill="#56b4e9"/><path d="M1267.50 1730.90L1271.90 1724.00H1263.10Z" fill="#56b4e9"/><path d="M1280.50 1730.90L1284.90 1724.00H1276.10Z" fill="#56b4e9"/><path d="M1294.50 1730.90L1298.90 1724.00H1290.10Z" fill="#56b4e9"/><path d="M1307.50 1730.90L1311.90 1724.00H1303.10Z" fill="#56b4e9"/><path d="M1320.50 1730.90L1324.90 1724.00H1316.10Z" fill="#56b4e9"/><path d="M1334.50 1730.90L1338.90 1724.00H1330.10Z" fill="#56b4e9"/><path d="M1347.50 1730.90L1351.90 1724.00H1343.10Z" fill="#56b4e9"/><path d="M1361.50 1730.90L1365.90 1724.00H1357.10Z" fill="#56b4e9"/><path d="M1374.50 1730.90L1378.90 1724.00H1370.10Z" fill="#56b4e9"/></g>
</g>
<g>
<path d="M1137.5 1795.5H1179.6" stroke="#e69f00" stroke-width="1"/>
<path d="M1158.50 1792.50L1161.50 1795.50L1158.50 1798.50L1155.50 1795.50Z" stroke="#e69f00" fill="none"/>
<text style="will-change:transform" x="1129.7" y="1797.8" text-anchor="end" font-family="&quot;Liberation Sans&quot;, sans-serif" font-size="12.5" textLength="325.4" lengthAdjust="spacingAndGlyphs">[tree] IBM ESXS PYH073W3-ETS10FN 3.5&quot; 73G 10kRPM SCSI</text>
<polyline points="47.60,1728.50 61.00,1725.86 74.41,1718.29 87.81,1706.26 101.21,1690.30 114.62,1648.60 128.02,1584.30 141.42,1504.30 154.82,1412.30 168.23,1314.70 181.63,1212.40 195.03,1110.30 208.44,1012.40 221.84,923.50 235.24,846.80 248.65,781.40 262.05,732.50 275.45,700.70 288.85,688.40 302.26,693.20 315.66,717.90 329.06,765.50 342.47,829.60 355.87,904.50 369.27,990.50 382.68,1081.60 396.08,1173.50 409.48,1264.50 422.88,1349.60 436.29,1426.30 449.69,1494.30 463.09,1553.00 476.50,1600.00 489.90,1638.50 503.30,1667.00 516.71,1688.00 530.11,1699.30 543.51,1708.60 556.91,1715.00 570.32,1719.30 583.72,1721.20 597.12,1722.00 610.53,1722.72 623.93,1723.41 637.33,1724.02 650.74,1724.50 664.14,1724.90 677.54,1725.29 690.94,1725.66 704.35,1726.02 717.75,1726.34 731.15,1726.62 744.56,1726.85 757.96,1727.03 771.36,1727.15 784.77,1727.20 798.17,1727.21 811.57,1727.22 824.97,1727.23 838.38,1727.24 851.78,1727.25 865.18,1727.26 878.59,1727.27 891.99,1727.28 905.39,1727.29 918.80,1727.29 932.20,1727.30 945.60,1727.31 959.00,1727.31 972.41,1727.32 985.81,1727.33 999.21,1727.33 1012.62,1727.34 1026.02,1727.34 1039.42,1727.35 1052.83,1727.35 1066.23,1727.36 1079.63,1727.36 1093.03,1727.37 1106.44,1727.37 1119.84,1727.37 1133.24,1727.38 1146.65,1727.38 1160.05,1727.38 1173.45,1727.38 1186.86,1727.39 1200.26,1727.39 1213.66,1727.39 1227.06,1727.39 1240.47,1727.39 1253.87,1727.39 1267.27,1727.40 1280.68,1727.40 1294.08,1727.40 1307.48,1727.40 1320.88,1727.40 1334.29,1727.40 1347.69,1727.40 1361.09,1727.40 1374.50,1727.40" stroke="#e69f00" stroke-width="1" fill="none" stroke-linejoin="round"/>
<g shape-rendering="crispEdges"><path d="M47.50 1725.50L50.50 1728.50L47.50 1731.50L44.50 1728.50Z" stroke="#e69f00" fill="none"/><path d="M61.50 1722.50L64.50 1725.50L61.50 1728.50L58.50 1725.50Z" stroke="#e69f00" fill="none"/><path d="M74.50 1715.50L77.50 1718.50L74.50 1721.50L71.50 1718.50Z" stroke="#e69f00" fill="none"/><path d="M87.50 1703.50L90.50 1706.50L87.50 1709.50L84.50 1706.50Z" stroke="#e69f00" fill="none"/><path d="M101.50 1687.50L104.50 1690.50L101.50 1693.50L98.50 1690.50Z" stroke="#e69f00" fill="none"/><path d="M114.50 1645.50L117.50 1648.50L114.50 1651.50L111.50 1648.50Z" stroke="#e69f00" fill="none"/><path d="M128.50 1581.50L131.50 1584.50L128.50 1587.50L125.50 1584.50Z" stroke="#e69f00" fill="none"/><path d="M141.50 1501.50L144.50 1504.50L141.50 1507.50L138.50 1504.50Z" stroke="#e69f00" fill="none"/><path d="M154.50 1409.50L157.50 1412.50L154.50 1415.50L151.50 1412.50Z" stroke="#e69f00" fill="none"/><path d="M168.50 1311.50L171.50 1314.50L168.50 1317.50L165.50 1314.50Z" stroke="#e69f00" fill="none"/><path d="M181.50 1209.50L184.50 1212.50L181.50 1215.50L178.50 1212.50Z" stroke="#e69f00" fill="none"/><path d="M195.50 1107.50L198.50 1110.50L195.50 1113.50L192.50 1110.50Z" stroke="#e69f00" fill="none"/><path d="M208.50 1009.50L211.50 1012.50L208.50 1015.50L205.50 1012.50Z" stroke="#e69f00" fill="none"/><path d="M221.50 920.50L224.50 923.50L221.50 926.50L218.50 923.50Z" stroke="#e69f00" fill="none"/><path d="M235.50 843.50L238.50 846.50L235.50 849.50L232.50 846.50Z" stroke="#e69f00" fill="none"/><path d="M248.50 778.50L251.50 781.50L248.50 784.50L245.50 781.50Z" stroke="#e69f00" fill="none"/><path d="M262.50 729.50L265.50 732.50L262.50 735.50L259.50 732.50Z" stroke="#e69f00" fill="none"/><path d="M275.50 697.50L278.50 700.50L275.50 703.50L272.50 700.50Z" stroke="#e69f00" fill="none"/><path d="M288.50 685.50L291.50 688.50L288.50 691.50L285.50 688.50Z" stroke="#e69f00" fill="none"/><path d="M302.50 690.50L305.50 693.50L302.50 696.50L299.50 693.50Z" stroke="#e69f00" fill="none"/><path d="M315.50 714.50L318.50 717.50L315.50 720.50L312.50 717.50Z" stroke="#e69f00" fill="none"/><path d="M329.50 762.50L332.50 765.50L329.50 768.50L326.50 765.50Z" stroke="#e69f00" fill="none"/><path d="M342.50 826.50L345.50 829.50L342.50 832.50L339.50 829.50Z" stroke="#e69f00" fill="none"/><path d="M355.50 901.50L358.50 904.50L355.50 907.50L352.50 904.50Z" stroke="#e69f00" fill="none"/><path d="M369.50 987.50L372.50 990.50L369.50 993.50L366.50 990.50Z" stroke="#e69f00" fill="none"/><path d="M382.50 1078.50L385.50 1081.50L382.50 1084.50L379.50 1081.50Z" stroke="#e69f00" fill="none"/><path d="M396.50 1170.50L399.50 1173.50L396.50 1176.50L393.50 1173.50Z" stroke="#e69f00" fill="none"/><path d="M409.50 1261.50L412.50 1264.50L409.50 1267.50L406.50 1264.50Z" stroke="#e69f00" fill="none"/><path d="M422.50 1346.50L425.50 1349.50L422.50 1352.50L419.50 1349.50Z" stroke="#e69f00" fill="none"/><path d="M436.50 1423.50L439.50 1426.50L436.50 1429.50L433.50 1426.50Z" stroke="#e69f00" fill="none"/><path d="M449.50 1491.50L452.50 1494.50L449.50 1497.50L446.50 1494.50Z" stroke="#e69f00" fill="none"/><path d="M463.50 1550.50L466.50 1553.50L463.50 1556.50L460.50 1553.50Z" stroke="#e69f00" fill="none"/><path d="M476.50 1597.50L479.50 1600.50L476.50 1603.50L473.50 1600.50Z" stroke="#e69f00" fill="none"/><path d="M489.50 1635.50L492.50 1638.50L489.50 1641.50L486.50 1638.50Z" stroke="#e69f00" fill="none"/><path d="M503.50 1664.50L506.50 1667.50L503.50 1670.50L500.50 1667.50Z" stroke="#e69f00" fill="none"/><path d="M516.50 1685.50L519.50 1688.50L516.50 1691.50L513.50 1688.50Z" stroke="#e69f00" fill="none"/><path d="M530.50 1696.50L533.50 1699.50L530.50 1702.50L527.50 1699.50Z" stroke="#e69f00" fill="none"/><path d="M543.50 1705.50L546.50 1708.50L543.50 1711.50L540.50 1708.50Z" stroke="#e69f00" fill="none"/><path d="M556.50 1712.50L559.50 1715.50L556.50 1718.50L553.50 1715.50Z" stroke="#e69f00" fill="none"/><path d="M570.50 1716.50L573.50 1719.50L570.50 1722.50L567.50 1719.50Z" stroke="#e69f00" fill="none"/><path d="M583.50 1718.50L586.50 1721.50L583.50 1724.50L580.50 1721.50Z" stroke="#e69f00" fill="none"/><path d="M597.50 1719.50L600.50 1722.50L597.50 1725.50L594.50 1722.50Z" stroke="#e69f00" fill="none"/><path d="M610.50 1719.50L613.50 1722.50L610.50 1725.50L607.50 1722.50Z" stroke="#e69f00" fill="none"/><path d="M623.50 1720.50L626.50 1723.50L623.50 1726.50L620.50 1723.50Z" stroke="#e69f00" fill="none"/><path d="M637.50 1721.50L640.50 1724.50L637.50 1727.50L634.50 1724.50Z" stroke="#e69f00" fill="none"/><path d="M650.50 1721.50L653.50 1724.50L650.50 1727.50L647.50 1724.50Z" stroke="#e69f00" fill="none"/><path d="M664.50 1721.50L667.50 1724.50L664.50 1727.50L661.50 1724.50Z" stroke="#e69f00" fill="none"/><path d="M677.50 1722.50L680.50 1725.50L677.50 1728.50L674.50 1725.50Z" stroke="#e69f00" fill="none"/><path d="M690.50 1722.50L693.50 1725.50L690.50 1728.50L687.50 1725.50Z" stroke="#e69f00" fill="none"/><path d="M704.50 1723.50L707.50 1726.50L704.50 1729.50L701.50 1726.50Z" stroke="#e69f00" fill="none"/><path d="M717.50 1723.50L720.50 1726.50L717.50 1729.50L714.50 1726.50Z" stroke="#e69f00" fill="none"/><path d="M731.50 1723.50L734.50 1726.50L731.50 1729.50L728.50 1726.50Z" stroke="#e69f00" fill="none"/><path d="M744.50 1723.50L747.50 1726.50L744.50 1729.50L741.50 1726.50Z" stroke="#e69f00" fill="none"/><path d="M757.50 1724.50L760.50 1727.50L757.50 1730.50L754.50 1727.50Z" stroke="#e69f00" fill="none"/><path d="M771.50 1724.50L774.50 1727.50L771.50 1730.50L768.50 1727.50Z" stroke="#e69f00" fill="none"/><path d="M784.50 1724.50L787.50 1727.50L784.50 1730.50L781.50 1727.50Z" stroke="#e69f00" fill="none"/><path d="M798.50 1724.50L801.50 1727.50L798.50 1730.50L795.50 1727.50Z" stroke="#e69f00" fill="none"/><path d="M811.50 1724.50L814.50 1727.50L811.50 1730.50L808.50 1727.50Z" stroke="#e69f00" fill="none"/><path d="M824.50 1724.50L827.50 1727.50L824.50 1730.50L821.50 1727.50Z" stroke="#e69f00" fill="none"/><path d="M838.50 1724.50L841.50 1727.50L838.50 1730.50L835.50 1727.50Z" stroke="#e69f00" fill="none"/><path d="M851.50 1724.50L854.50 1727.50L851.50 1730.50L848.50 1727.50Z" stroke="#e69f00" fill="none"/><path d="M865.50 1724.50L868.50 1727.50L865.50 1730.50L862.50 1727.50Z" stroke="#e69f00" fill="none"/><path d="M878.50 1724.50L881.50 1727.50L878.50 1730.50L875.50 1727.50Z" stroke="#e69f00" fill="none"/><path d="M891.50 1724.50L894.50 1727.50L891.50 1730.50L888.50 1727.50Z" stroke="#e69f00" fill="none"/><path d="M905.50 1724.50L908.50 1727.50L905.50 1730.50L902.50 1727.50Z" stroke="#e69f00" fill="none"/><path d="M918.50 1724.50L921.50 1727.50L918.50 1730.50L915.50 1727.50Z" stroke="#e69f00" fill="none"/><path d="M932.50 1724.50L935.50 1727.50L932.50 1730.50L929.50 1727.50Z" stroke="#e69f00" fill="none"/><path d="M945.50 1724.50L948.50 1727.50L945.50 1730.50L942.50 1727.50Z" stroke="#e69f00" fill="none"/><path d="M959.50 1724.50L962.50 1727.50L959.50 1730.50L956.50 1727.50Z" stroke="#e69f00" fill="none"/><path d="M972.50 1724.50L975.50 1727.50L972.50 1730.50L969.50 1727.50Z" stroke="#e69f00" fill="none"/><path d="M985.50 1724.50L988.50 1727.50L985.50 1730.50L982.50 1727.50Z" stroke="#e69f00" fill="none"/><path d="M999.50 1724.50L1002.50 1727.50L999.50 1730.50L996.50 1727.50Z" stroke="#e69f00" fill="none"/><path d="M1012.50 1724.50L1015.50 1727.50L1012.50 1730.50L1009.50 1727.50Z" stroke="#e69f00" fill="none"/><path d="M1026.50 1724.50L1029.50 1727.50L1026.50 1730.50L1023.50 1727.50Z" stroke="#e69f00" fill="none"/><path d="M1039.50 1724.50L1042.50 1727.50L1039.50 1730.50L1036.50 1727.50Z" stroke="#e69f00" fill="none"/><path d="M1052.50 1724.50L1055.50 1727.50L1052.50 1730.50L1049.50 1727.50Z" stroke="#e69f00" fill="none"/><path d="M1066.50 1724.50L1069.50 1727.50L1066.50 1730.50L1063.50 1727.50Z" stroke="#e69f00" fill="none"/><path d="M1079.50 1724.50L1082.50 1727.50L1079.50 1730.50L1076.50 1727.50Z" stroke="#e69f00" fill="none"/><path d="M1093.50 1724.50L1096.50 1727.50L1093.50 1730.50L1090.50 1727.50Z" stroke="#e69f00" fill="none"/><path d="M1106.50 1724.50L1109.50 1727.50L1106.50 1730.50L1103.50 1727.50Z" stroke="#e69f00" fill="none"/><path d="M1119.50 1724.50L1122.50 1727.50L1119.50 1730.50L1116.50 1727.50Z" stroke="#e69f00" fill="none"/><path d="M1133.50 1724.50L1136.50 1727.50L1133.50 1730.50L1130.50 1727.50Z" stroke="#e69f00" fill="none"/><path d="M1146.50 1724.50L1149.50 1727.50L1146.50 1730.50L1143.50 1727.50Z" stroke="#e69f00" fill="none"/><path d="M1160.50 1724.50L1163.50 1727.50L1160.50 1730.50L1157.50 1727.50Z" stroke="#e69f00" fill="none"/><path d="M1173.50 1724.50L1176.50 1727.50L1173.50 1730.50L1170.50 1727.50Z" stroke="#e69f00" fill="none"/><path d="M1186.50 1724.50L1189.50 1727.50L1186.50 1730.50L1183.50 1727.50Z" stroke="#e69f00" fill="none"/><path d="M1200.50 1724.50L1203.50 1727.50L1200.50 1730.50L1197.50 1727.50Z" stroke="#e69f00" fill="none"/><path d="M1213.50 1724.50L1216.50 1727.50L1213.50 1730.50L1210.50 1727.50Z" stroke="#e69f00" fill="none"/><path d="M1227.50 1724.50L1230.50 1727.50L1227.50 1730.50L1224.50 1727.50Z" stroke="#e69f00" fill="none"/><path d="M1240.50 1724.50L1243.50 1727.50L1240.50 1730.50L1237.50 1727.50Z" stroke="#e69f00" fill="none"/><path d="M1253.50 1724.50L1256.50 1727.50L1253.50 1730.50L1250.50 1727.50Z" stroke="#e69f00" fill="none"/><path d="M1267.50 1724.50L1270.50 1727.50L1267.50 1730.50L1264.50 1727.50Z" stroke="#e69f00" fill="none"/><path d="M1280.50 1724.50L1283.50 1727.50L1280.50 1730.50L1277.50 1727.50Z" stroke="#e69f00" fill="none"/><path d="M1294.50 1724.50L1297.50 1727.50L1294.50 1730.50L1291.50 1727.50Z" stroke="#e69f00" fill="none"/><path d="M1307.50 1724.50L1310.50 1727.50L1307.50 1730.50L1304.50 1727.50Z" stroke="#e69f00" fill="none"/><path d="M1320.50 1724.50L1323.50 1727.50L1320.50 1730.50L1317.50 1727.50Z" stroke="#e69f00" fill="none"/><path d="M1334.50 1724.50L1337.50 1727.50L1334.50 1730.50L1331.50 1727.50Z" stroke="#e69f00" fill="none"/><path d="M1347.50 1724.50L1350.50 1727.50L1347.50 1730.50L1344.50 1727.50Z" stroke="#e69f00" fill="none"/><path d="M1361.50 1724.50L1364.50 1727.50L1361.50 1730.50L1358.50 1727.50Z" stroke="#e69f00" fill="none"/><path d="M1374.50 1724.50L1377.50 1727.50L1374.50 1730.50L1371.50 1727.50Z" stroke="#e69f00" fill="none"/></g>
</g>
<g>
<path d="M1137.5 1812.5H1179.6" stroke="#f0e442" stroke-width="1"/>
<path d="M1158.50 1808.90L1162.10 1812.50L1158.50 1816.10L1154.90 1812.50Z" fill="#f0e442"/>
<text style="will-change:transform" x="1129.7" y="1814.8" text-anchor="end" font-family="&quot;Liberation Sans&quot;, sans-serif" font-size="12.5" textLength="362.6" lengthAdjust="spacingAndGlyphs">[tree] IBM ESXS PYH073W3-ETS10FN 3.5&quot; 73G 10kRPM SCSI (PCIE)</text>
<polyline points="47.60,1728.50 61.00,1726.95 74.41,1722.57 87.81,1715.70 101.21,1694.60 114.62,1656.40 128.02,1596.40 141.42,1517.20 154.82,1423.30 168.23,1316.90 181.63,1208.60 195.03,1100.40 208.44,1001.00 221.84,911.00 235.24,834.60 248.65,773.50 262.05,727.50 275.45,698.00 288.85,686.80 302.26,694.80 315.66,721.10 329.06,765.50 342.47,825.10 355.87,899.10 369.27,982.10 382.68,1072.40 396.08,1164.40 409.48,1255.40 422.88,1342.70 436.29,1422.00 449.69,1490.50 463.09,1551.00 476.50,1598.60 489.90,1637.10 503.30,1665.70 516.71,1687.10 530.11,1702.90 543.51,1712.90 556.91,1719.30 570.32,1723.10 583.72,1725.00 597.12,1725.90 610.53,1726.63 623.93,1727.19 637.33,1727.58 650.74,1727.80 664.14,1727.93 677.54,1728.05 690.94,1728.15 704.35,1728.24 717.75,1728.32 731.15,1728.38 744.56,1728.43 757.96,1728.47 771.36,1728.49 784.77,1728.50 798.17,1728.50 811.57,1728.50 824.97,1728.50 838.38,1728.50 851.78,1728.50 865.18,1728.50 878.59,1728.50 891.99,1728.49 905.39,1728.49 918.80,1728.49 932.20,1728.48 945.60,1728.48 959.00,1728.47 972.41,1728.47 985.81,1728.46 999.21,1728.45 1012.62,1728.44 1026.02,1728.43 1039.42,1728.42 1052.83,1728.41 1066.23,1728.39 1079.63,1728.38 1093.03,1728.36 1106.44,1728.34 1119.84,1728.32 1133.24,1728.29 1146.65,1728.27 1160.05,1728.24 1173.45,1728.21 1186.86,1728.18 1200.26,1728.15 1213.66,1728.12 1227.06,1728.08 1240.47,1728.04 1253.87,1728.00 1267.27,1727.95 1280.68,1727.91 1294.08,1727.86 1307.48,1727.80 1320.88,1727.75 1334.29,1727.69 1347.69,1727.63 1361.09,1727.57 1374.50,1727.50" stroke="#f0e442" stroke-width="1" fill="none" stroke-linejoin="round"/>
<g shape-rendering="crispEdges"><path d="M47.50 1724.90L51.10 1728.50L47.50 1732.10L43.90 1728.50Z" fill="#f0e442"/><path d="M61.50 1722.90L65.10 1726.50L61.50 1730.10L57.90 1726.50Z" fill="#f0e442"/><path d="M74.50 1718.90L78.10 1722.50L74.50 1726.10L70.90 1722.50Z" fill="#f0e442"/><path d="M87.50 1711.90L91.10 1715.50L87.50 1719.10L83.90 1715.50Z" fill="#f0e442"/><path d="M101.50 1690.90L105.10 1694.50L101.50 1698.10L97.90 1694.50Z" fill="#f0e442"/><path d="M114.50 1652.90L118.10 1656.50L114.50 1660.10L110.90 1656.50Z" fill="#f0e442"/><path d="M128.50 1592.90L132.10 1596.50L128.50 1600.10L124.90 1596.50Z" fill="#f0e442"/><path d="M141.50 1513.90L145.10 1517.50L141.50 1521.10L137.90 1517.50Z" fill="#f0e442"/><path d="M154.50 1419.90L158.10 1423.50L154.50 1427.10L150.90 1423.50Z" fill="#f0e442"/><path d="M168.50 1312.90L172.10 1316.50L168.50 1320.10L164.90 1316.50Z" fill="#f0e442"/><path d="M181.50 1204.90L185.10 1208.50L181.50 1212.10L177.90 1208.50Z" fill="#f0e442"/><path d="M195.50 1096.90L199.10 1100.50L195.50 1104.10L191.90 1100.50Z" fill="#f0e442"/><path d="M208.50 997.90L212.10 1001.50L208.50 1005.10L204.90 1001.50Z" fill="#f0e442"/><path d="M221.50 907.90L225.10 911.50L221.50 915.10L217.90 911.50Z" fill="#f0e442"/><path d="M235.50 830.90L239.10 834.50L235.50 838.10L231.90 834.50Z" fill="#f0e442"/><path d="M248.50 769.90L252.10 773.50L248.50 777.10L244.90 773.50Z" fill="#f0e442"/><path d="M262.50 723.90L266.10 727.50L262.50 731.10L258.90 727.50Z" fill="#f0e442"/><path d="M275.50 694.90L279.10 698.50L275.50 702.10L271.90 698.50Z" fill="#f0e442"/><path d="M288.50 682.90L292.10 686.50L288.50 690.10L284.90 686.50Z" fill="#f0e442"/><path d="M302.50 690.90L306.10 694.50L302.50 698.10L298.90 694.50Z" fill="#f0e442"/><path d="M315.50 717.90L319.10 721.50L315.50 725.10L311.90 721.50Z" fill="#f0e442"/><path d="M329.50 761.90L333.10 765.50L329.50 769.10L325.90 765.50Z" fill="#f0e442"/><path d="M342.50 821.90L346.10 825.50L342.50 829.10L338.90 825.50Z" fill="#f0e442"/><path d="M355.50 895.90L359.10 899.50L355.50 903.10L351.90 899.50Z" fill="#f0e442"/><path d="M369.50 978.90L373.10 982.50L369.50 986.10L365.90 982.50Z" fill="#f0e442"/><path d="M382.50 1068.90L386.10 1072.50L382.50 1076.10L378.90 1072.50Z" fill="#f0e442"/><path d="M396.50 1160.90L400.10 1164.50L396.50 1168.10L392.90 1164.50Z" fill="#f0e442"/><path d="M409.50 1251.90L413.10 1255.50L409.50 1259.10L405.90 1255.50Z" fill="#f0e442"/><path d="M422.50 1338.90L426.10 1342.50L422.50 1346.10L418.90 1342.50Z" fill="#f0e442"/><path d="M436.50 1418.90L440.10 1422.50L436.50 1426.10L432.90 1422.50Z" fill="#f0e442"/><path d="M449.50 1486.90L453.10 1490.50L449.50 1494.10L445.90 1490.50Z" fill="#f0e442"/><path d="M463.50 1547.90L467.10 1551.50L463.50 1555.10L459.90 1551.50Z" fill="#f0e442"/><path d="M476.50 1594.90L480.10 1598.50L476.50 1602.10L472.90 1598.50Z" fill="#f0e442"/><path d="M489.50 1633.90L493.10 1637.50L489.50 1641.10L485.90 1637.50Z" fill="#f0e442"/><path d="M503.50 1661.90L507.10 1665.50L503.50 1669.10L499.90 1665.50Z" fill="#f0e442"/><path d="M516.50 1683.90L520.10 1687.50L516.50 1691.10L512.90 1687.50Z" fill="#f0e442"/><path d="M530.50 1698.90L534.10 1702.50L530.50 1706.10L526.90 1702.50Z" fill="#f0e442"/><path d="M543.50 1708.90L547.10 1712.50L543.50 1716.10L539.90 1712.50Z" fill="#f0e442"/><path d="M556.50 1715.90L560.10 1719.50L556.50 1723.10L552.90 1719.50Z" fill="#f0e442"/><path d="M570.50 1719.90L574.10 1723.50L570.50 1727.10L566.90 1723.50Z" fill="#f0e442"/><path d="M583.50 1721.90L587.10 1725.50L583.50 1729.10L579.90 1725.50Z" fill="#f0e442"/><path d="M597.50 1721.90L601.10 1725.50L597.50 1729.10L593.90 1725.50Z" fill="#f0e442"/><path d="M610.50 1722.90L614.10 1726.50L610.50 1730.10L606.90 1726.50Z" fill="#f0e442"/><path d="M623.50 1723.90L627.10 1727.50L623.50 1731.10L619.90 1727.50Z" fill="#f0e442"/><path d="M637.50 1723.90L641.10 1727.50L637.50 1731.10L633.90 1727.50Z" fill="#f0e442"/><path d="M650.50 1723.90L654.10 1727.50L650.50 1731.10L646.90 1727.50Z" fill="#f0e442"/><path d="M664.50 1723.90L668.10 1727.50L664.50 1731.10L660.90 1727.50Z" fill="#f0e442"/><path d="M677.50 1724.90L681.10 1728.50L677.50 1732.10L673.90 1728.50Z" fill="#f0e442"/><path d="M690.50 1724.90L694.10 1728.50L690.50 1732.10L686.90 1728.50Z" fill="#f0e442"/><path d="M704.50 1724.90L708.10 1728.50L704.50 1732.10L700.90 1728.50Z" fill="#f0e442"/><path d="M717.50 1724.90L721.10 1728.50L717.50 1732.10L713.90 1728.50Z" fill="#f0e442"/><path d="M731.50 1724.90L735.10 1728.50L731.50 1732.10L727.90 1728.50Z" fill="#f0e442"/><path d="M744.50 1724.90L748.10 1728.50L744.50 1732.10L740.90 1728.50Z" fill="#f0e442"/><path d="M757.50 1724.90L761.10 1728.50L757.50 1732.10L753.90 1728.50Z" fill="#f0e442"/><path d="M771.50 1724.90L775.10 1728.50L771.50 1732.10L767.90 1728.50Z" fill="#f0e442"/><path d="M784.50 1724.90L788.10 1728.50L784.50 1732.10L780.90 1728.50Z" fill="#f0e442"/><path d="M798.50 1724.90L802.10 1728.50L798.50 1732.10L794.90 1728.50Z" fill="#f0e442"/><path d="M811.50 1724.90L815.10 1728.50L811.50 1732.10L807.90 1728.50Z" fill="#f0e442"/><path d="M824.50 1724.90L828.10 1728.50L824.50 1732.10L820.90 1728.50Z" fill="#f0e442"/><path d="M838.50 1724.90L842.10 1728.50L838.50 1732.10L834.90 1728.50Z" fill="#f0e442"/><path d="M851.50 1724.90L855.10 1728.50L851.50 1732.10L847.90 1728.50Z" fill="#f0e442"/><path d="M865.50 1724.90L869.10 1728.50L865.50 1732.10L861.90 1728.50Z" fill="#f0e442"/><path d="M878.50 1724.90L882.10 1728.50L878.50 1732.10L874.90 1728.50Z" fill="#f0e442"/><path d="M891.50 1724.90L895.10 1728.50L891.50 1732.10L887.90 1728.50Z" fill="#f0e442"/><path d="M905.50 1724.90L909.10 1728.50L905.50 1732.10L901.90 1728.50Z" fill="#f0e442"/><path d="M918.50 1724.90L922.10 1728.50L918.50 1732.10L914.90 1728.50Z" fill="#f0e442"/><path d="M932.50 1724.90L936.10 1728.50L932.50 1732.10L928.90 1728.50Z" fill="#f0e442"/><path d="M945.50 1724.90L949.10 1728.50L945.50 1732.10L941.90 1728.50Z" fill="#f0e442"/><path d="M959.50 1724.90L963.10 1728.50L959.50 1732.10L955.90 1728.50Z" fill="#f0e442"/><path d="M972.50 1724.90L976.10 1728.50L972.50 1732.10L968.90 1728.50Z" fill="#f0e442"/><path d="M985.50 1724.90L989.10 1728.50L985.50 1732.10L981.90 1728.50Z" fill="#f0e442"/><path d="M999.50 1724.90L1003.10 1728.50L999.50 1732.10L995.90 1728.50Z" fill="#f0e442"/><path d="M1012.50 1724.90L1016.10 1728.50L1012.50 1732.10L1008.90 1728.50Z" fill="#f0e442"/><path d="M1026.50 1724.90L1030.10 1728.50L1026.50 1732.10L1022.90 1728.50Z" fill="#f0e442"/><path d="M1039.50 1724.90L1043.10 1728.50L1039.50 1732.10L1035.90 1728.50Z" fill="#f0e442"/><path d="M1052.50 1724.90L1056.10 1728.50L1052.50 1732.10L1048.90 1728.50Z" fill="#f0e442"/><path d="M1066.50 1724.90L1070.10 1728.50L1066.50 1732.10L1062.90 1728.50Z" fill="#f0e442"/><path d="M1079.50 1724.90L1083.10 1728.50L1079.50 1732.10L1075.90 1728.50Z" fill="#f0e442"/><path d="M1093.50 1724.90L1097.10 1728.50L1093.50 1732.10L1089.90 1728.50Z" fill="#f0e442"/><path d="M1106.50 1724.90L1110.10 1728.50L1106.50 1732.10L1102.90 1728.50Z" fill="#f0e442"/><path d="M1119.50 1724.90L1123.10 1728.50L1119.50 1732.10L1115.90 1728.50Z" fill="#f0e442"/><path d="M1133.50 1724.90L1137.10 1728.50L1133.50 1732.10L1129.90 1728.50Z" fill="#f0e442"/><path d="M1146.50 1724.90L1150.10 1728.50L1146.50 1732.10L1142.90 1728.50Z" fill="#f0e442"/><path d="M1160.50 1724.90L1164.10 1728.50L1160.50 1732.10L1156.90 1728.50Z" fill="#f0e442"/><path d="M1173.50 1724.90L1177.10 1728.50L1173.50 1732.10L1169.90 1728.50Z" fill="#f0e442"/><path d="M1186.50 1724.90L1190.10 1728.50L1186.50 1732.10L1182.90 1728.50Z" fill="#f0e442"/><path d="M1200.50 1724.90L1204.10 1728.50L1200.50 1732.10L1196.90 1728.50Z" fill="#f0e442"/><path d="M1213.50 1724.90L1217.10 1728.50L1213.50 1732.10L1209.90 1728.50Z" fill="#f0e442"/><path d="M1227.50 1724.90L1231.10 1728.50L1227.50 1732.10L1223.90 1728.50Z" fill="#f0e442"/><path d="M1240.50 1724.90L1244.10 1728.50L1240.50 1732.10L1236.90 1728.50Z" fill="#f0e442"/><path d="M1253.50 1723.90L1257.10 1727.50L1253.50 1731.10L1249.90 1727.50Z" fill="#f0e442"/><path d="M1267.50 1723.90L1271.10 1727.50L1267.50 1731.10L1263.90 1727.50Z" fill="#f0e442"/><path d="M1280.50 1723.90L1284.10 1727.50L1280.50 1731.10L1276.90 1727.50Z" fill="#f0e442"/><path d="M1294.50 1723.90L1298.10 1727.50L1294.50 1731.10L1290.90 1727.50Z" fill="#f0e442"/><path d="M1307.50 1723.90L1311.10 1727.50L1307.50 1731.10L1303.90 1727.50Z" fill="#f0e442"/><path d="M1320.50 1723.90L1324.10 1727.50L1320.50 1731.10L1316.90 1727.50Z" fill="#f0e442"/><path d="M1334.50 1723.90L1338.10 1727.50L1334.50 1731.10L1330.90 1727.50Z" fill="#f0e442"/><path d="M1347.50 1723.90L1351.10 1727.50L1347.50 1731.10L1343.90 1727.50Z" fill="#f0e442"/><path d="M1361.50 1723.90L1365.10 1727.50L1361.50 1731.10L1357.90 1727.50Z" fill="#f0e442"/><path d="M1374.50 1723.90L1378.10 1727.50L1374.50 1731.10L1370.90 1727.50Z" fill="#f0e442"/></g>
</g>
<g>
<path d="M1137.5 1829.5H1179.6" stroke="#0072b2" stroke-width="1"/>
<path d="M1155.00 1829.50h7M1158.50 1826.00v7" stroke="#0072b2" fill="none"/>
<text style="will-change:transform" x="1129.7" y="1831.8" text-anchor="end" font-family="&quot;Liberation Sans&quot;, sans-serif" font-size="12.5" textLength="271.5" lengthAdjust="spacingAndGlyphs">[quad] Micropolis 1991-27 5.25&quot; 9G 5.4kRPM SCSI</text>
<polyline points="47.60,1726.50 61.00,1726.30 74.41,1726.10 87.81,1725.90 101.21,1725.70 114.62,1725.50 128.02,1725.32 141.42,1725.15 154.82,1724.97 168.23,1724.76 181.63,1724.50 195.03,1724.09 208.44,1723.55 221.84,1723.00 235.24,1722.54 248.65,1722.07 262.05,1721.40 275.45,1720.00 288.85,1717.10 302.26,1713.10 315.66,1707.90 329.06,1699.30 342.47,1688.90 355.87,1675.40 369.27,1658.60 382.68,1638.60 396.08,1613.60 409.48,1586.40 422.88,1557.10 436.29,1527.50 449.69,1495.90 463.09,1467.30 476.50,1437.50 489.90,1413.20 503.30,1389.20 516.71,1368.30 530.11,1348.40 543.51,1329.00 556.91,1313.00 570.32,1298.40 583.72,1284.40 597.12,1271.40 610.53,1258.30 623.93,1247.90 637.33,1238.90 650.74,1229.30 664.14,1222.90 677.54,1218.60 690.94,1216.90 704.35,1216.90 717.75,1220.70 731.15,1228.60 744.56,1239.30 757.96,1255.40 771.36,1273.10 784.77,1295.70 798.17,1318.30 811.57,1342.10 824.97,1365.30 838.38,1387.90 851.78,1408.30 865.18,1425.70 878.59,1442.60 891.99,1460.93 905.39,1478.70 918.80,1493.80 932.20,1508.60 945.60,1524.60 959.00,1539.70 972.41,1554.60 985.81,1569.30 999.21,1582.60 1012.62,1595.40 1026.02,1606.40 1039.42,1617.00 1052.83,1628.20 1066.23,1638.70 1079.63,1647.70 1093.03,1656.70 1106.44,1665.50 1119.84,1674.20 1133.24,1681.70 1146.65,1688.60 1160.05,1695.00 1173.45,1701.40 1186.86,1706.40 1200.26,1711.40 1213.66,1716.40 1227.06,1719.70 1240.47,1722.50 1253.87,1723.58 1267.27,1724.29 1280.68,1724.80 1294.08,1725.20 1307.48,1725.50 1320.88,1725.80 1334.29,1726.11 1347.69,1726.42 1361.09,1726.71 1374.50,1727.00" stroke="#0072b2" stroke-width="1" fill="none" stroke-linejoin="round"/>
<g shape-rendering="crispEdges"><path d="M44.00 1726.50h7M47.50 1723.00v7" stroke="#0072b2" fill="none"/><path d="M58.00 1726.50h7M61.50 1723.00v7" stroke="#0072b2" fill="none"/><path d="M71.00 1726.50h7M74.50 1723.00v7" stroke="#0072b2" fill="none"/><path d="M84.00 1725.50h7M87.50 1722.00v7" stroke="#0072b2" fill="none"/><path d="M98.00 1725.50h7M101.50 1722.00v7" stroke="#0072b2" fill="none"/><path d="M111.00 1725.50h7M114.50 1722.00v7" stroke="#0072b2" fill="none"/><path d="M125.00 1725.50h7M128.50 1722.00v7" stroke="#0072b2" fill="none"/><path d="M138.00 1725.50h7M141.50 1722.00v7" stroke="#0072b2" fill="none"/><path d="M151.00 1724.50h7M154.50 1721.00v7" stroke="#0072b2" fill="none"/><path d="M165.00 1724.50h7M168.50 1721.00v7" stroke="#0072b2" fill="none"/><path d="M178.00 1724.50h7M181.50 1721.00v7" stroke="#0072b2" fill="none"/><path d="M192.00 1724.50h7M195.50 1721.00v7" stroke="#0072b2" fill="none"/><path d="M205.00 1723.50h7M208.50 1720.00v7" stroke="#0072b2" fill="none"/><path d="M218.00 1723.50h7M221.50 1720.00v7" stroke="#0072b2" fill="none"/><path d="M232.00 1722.50h7M235.50 1719.00v7" stroke="#0072b2" fill="none"/><path d="M245.00 1722.50h7M248.50 1719.00v7" stroke="#0072b2" fill="none"/><path d="M259.00 1721.50h7M262.50 1718.00v7" stroke="#0072b2" fill="none"/><path d="M272.00 1720.50h7M275.50 1717.00v7" stroke="#0072b2" fill="none"/><path d="M285.00 1717.50h7M288.50 1714.00v7" stroke="#0072b2" fill="none"/><path d="M299.00 1713.50h7M302.50 1710.00v7" stroke="#0072b2" fill="none"/><path d="M312.00 1707.50h7M315.50 1704.00v7" stroke="#0072b2" fill="none"/><path d="M326.00 1699.50h7M329.50 1696.00v7" stroke="#0072b2" fill="none"/><path d="M339.00 1688.50h7M342.50 1685.00v7" stroke="#0072b2" fill="none"/><path d="M352.00 1675.50h7M355.50 1672.00v7" stroke="#0072b2" fill="none"/><path d="M366.00 1658.50h7M369.50 1655.00v7" stroke="#0072b2" fill="none"/><path d="M379.00 1638.50h7M382.50 1635.00v7" stroke="#0072b2" fill="none"/><path d="M393.00 1613.50h7M396.50 1610.00v7" stroke="#0072b2" fill="none"/><path d="M406.00 1586.50h7M409.50 1583.00v7" stroke="#0072b2" fill="none"/><path d="M419.00 1557.50h7M422.50 1554.00v7" stroke="#0072b2" fill="none"/><path d="M433.00 1527.50h7M436.50 1524.00v7" stroke="#0072b2" fill="none"/><path d="M446.00 1495.50h7M449.50 1492.00v7" stroke="#0072b2" fill="none"/><path d="M460.00 1467.50h7M463.50 1464.00v7" stroke="#0072b2" fill="none"/><path d="M473.00 1437.50h7M476.50 1434.00v7" stroke="#0072b2" fill="none"/><path d="M486.00 1413.50h7M489.50 1410.00v7" stroke="#0072b2" fill="none"/><path d="M500.00 1389.50h7M503.50 1386.00v7" stroke="#0072b2" fill="none"/><path d="M513.00 1368.50h7M516.50 1365.00v7" stroke="#0072b2" fill="none"/><path d="M527.00 1348.50h7M530.50 1345.00v7" stroke="#0072b2" fill="none"/><path d="M540.00 1329.50h7M543.50 1326.00v7" stroke="#0072b2" fill="none"/><path d="M553.00 1313.50h7M556.50 1310.00v7" stroke="#0072b2" fill="none"/><path d="M567.00 1298.50h7M570.50 1295.00v7" stroke="#0072b2" fill="none"/><path d="M580.00 1284.50h7M583.50 1281.00v7" stroke="#0072b2" fill="none"/><path d="M594.00 1271.50h7M597.50 1268.00v7" stroke="#0072b2" fill="none"/><path d="M607.00 1258.50h7M610.50 1255.00v7" stroke="#0072b2" fill="none"/><path d="M620.00 1247.50h7M623.50 1244.00v7" stroke="#0072b2" fill="none"/><path d="M634.00 1238.50h7M637.50 1235.00v7" stroke="#0072b2" fill="none"/><path d="M647.00 1229.50h7M650.50 1226.00v7" stroke="#0072b2" fill="none"/><path d="M661.00 1222.50h7M664.50 1219.00v7" stroke="#0072b2" fill="none"/><path d="M674.00 1218.50h7M677.50 1215.00v7" stroke="#0072b2" fill="none"/><path d="M687.00 1216.50h7M690.50 1213.00v7" stroke="#0072b2" fill="none"/><path d="M701.00 1216.50h7M704.50 1213.00v7" stroke="#0072b2" fill="none"/><path d="M714.00 1220.50h7M717.50 1217.00v7" stroke="#0072b2" fill="none"/><path d="M728.00 1228.50h7M731.50 1225.00v7" stroke="#0072b2" fill="none"/><path d="M741.00 1239.50h7M744.50 1236.00v7" stroke="#0072b2" fill="none"/><path d="M754.00 1255.50h7M757.50 1252.00v7" stroke="#0072b2" fill="none"/><path d="M768.00 1273.50h7M771.50 1270.00v7" stroke="#0072b2" fill="none"/><path d="M781.00 1295.50h7M784.50 1292.00v7" stroke="#0072b2" fill="none"/><path d="M795.00 1318.50h7M798.50 1315.00v7" stroke="#0072b2" fill="none"/><path d="M808.00 1342.50h7M811.50 1339.00v7" stroke="#0072b2" fill="none"/><path d="M821.00 1365.50h7M824.50 1362.00v7" stroke="#0072b2" fill="none"/><path d="M835.00 1387.50h7M838.50 1384.00v7" stroke="#0072b2" fill="none"/><path d="M848.00 1408.50h7M851.50 1405.00v7" stroke="#0072b2" fill="none"/><path d="M862.00 1425.50h7M865.50 1422.00v7" stroke="#0072b2" fill="none"/><path d="M875.00 1442.50h7M878.50 1439.00v7" stroke="#0072b2" fill="none"/><path d="M888.00 1460.50h7M891.50 1457.00v7" stroke="#0072b2" fill="none"/><path d="M902.00 1478.50h7M905.50 1475.00v7" stroke="#0072b2" fill="none"/><path d="M915.00 1493.50h7M918.50 1490.00v7" stroke="#0072b2" fill="none"/><path d="M929.00 1508.50h7M932.50 1505.00v7" stroke="#0072b2" fill="none"/><path d="M942.00 1524.50h7M945.50 1521.00v7" stroke="#0072b2" fill="none"/><path d="M956.00 1539.50h7M959.50 1536.00v7" stroke="#0072b2" fill="none"/><path d="M969.00 1554.50h7M972.50 1551.00v7" stroke="#0072b2" fill="none"/><path d="M982.00 1569.50h7M985.50 1566.00v7" stroke="#0072b2" fill="none"/><path d="M996.00 1582.50h7M999.50 1579.00v7" stroke="#0072b2" fill="none"/><path d="M1009.00 1595.50h7M1012.50 1592.00v7" stroke="#0072b2" fill="none"/><path d="M1023.00 1606.50h7M1026.50 1603.00v7" stroke="#0072b2" fill="none"/><path d="M1036.00 1617.50h7M1039.50 1614.00v7" stroke="#0072b2" fill="none"/><path d="M1049.00 1628.50h7M1052.50 1625.00v7" stroke="#0072b2" fill="none"/><path d="M1063.00 1638.50h7M1066.50 1635.00v7" stroke="#0072b2" fill="none"/><path d="M1076.00 1647.50h7M1079.50 1644.00v7" stroke="#0072b2" fill="none"/><path d="M1090.00 1656.50h7M1093.50 1653.00v7" stroke="#0072b2" fill="none"/><path d="M1103.00 1665.50h7M1106.50 1662.00v7" stroke="#0072b2" fill="none"/><path d="M1116.00 1674.50h7M1119.50 1671.00v7" stroke="#0072b2" fill="none"/><path d="M1130.00 1681.50h7M1133.50 1678.00v7" stroke="#0072b2" fill="none"/><path d="M1143.00 1688.50h7M1146.50 1685.00v7" stroke="#0072b2" fill="none"/><path d="M1157.00 1695.50h7M1160.50 1692.00v7" stroke="#0072b2" fill="none"/><path d="M1170.00 1701.50h7M1173.50 1698.00v7" stroke="#0072b2" fill="none"/><path d="M1183.00 1706.50h7M1186.50 1703.00v7" stroke="#0072b2" fill="none"/><path d="M1197.00 1711.50h7M1200.50 1708.00v7" stroke="#0072b2" fill="none"/><path d="M1210.00 1716.50h7M1213.50 1713.00v7" stroke="#0072b2" fill="none"/><path d="M1224.00 1719.50h7M1227.50 1716.00v7" stroke="#0072b2" fill="none"/><path d="M1237.00 1722.50h7M1240.50 1719.00v7" stroke="#0072b2" fill="none"/><path d="M1250.00 1723.50h7M1253.50 1720.00v7" stroke="#0072b2" fill="none"/><path d="M1264.00 1724.50h7M1267.50 1721.00v7" stroke="#0072b2" fill="none"/><path d="M1277.00 1724.50h7M1280.50 1721.00v7" stroke="#0072b2" fill="none"/><path d="M1291.00 1725.50h7M1294.50 1722.00v7" stroke="#0072b2" fill="none"/><path d="M1304.00 1725.50h7M1307.50 1722.00v7" stroke="#0072b2" fill="none"/><path d="M1317.00 1725.50h7M1320.50 1722.00v7" stroke="#0072b2" fill="none"/><path d="M1331.00 1726.50h7M1334.50 1723.00v7" stroke="#0072b2" fill="none"/><path d="M1344.00 1726.50h7M1347.50 1723.00v7" stroke="#0072b2" fill="none"/><path d="M1358.00 1726.50h7M1361.50 1723.00v7" stroke="#0072b2" fill="none"/><path d="M1371.00 1727.50h7M1374.50 1724.00v7" stroke="#0072b2" fill="none"/></g>
</g>
<g>
<path d="M1137.5 1846.5H1179.6" stroke="#e51e10" stroke-width="1"/>
<path d="M1155.00 1843.00l7 7M1155.00 1850.00l7 -7" stroke="#e51e10" fill="none"/>
<text style="will-change:transform" x="1129.7" y="1848.8" text-anchor="end" font-family="&quot;Liberation Sans&quot;, sans-serif" font-size="12.5" textLength="324.3" lengthAdjust="spacingAndGlyphs">[quad] Seagate Barracuda ST15150N 3.5&quot; 4G 7.2kRPM SCSI</text>
<polyline points="47.60,1728.50 61.00,1728.38 74.41,1728.01 87.81,1727.38 101.21,1726.50 114.62,1725.34 128.02,1723.91 141.42,1722.20 154.82,1720.20 168.23,1717.90 181.63,1711.40 195.03,1700.70 208.44,1686.40 221.84,1670.00 235.24,1648.60 248.65,1623.60 262.05,1595.40 275.45,1565.00 288.85,1532.60 302.26,1499.70 315.66,1463.70 329.06,1428.30 342.47,1392.60 355.87,1356.60 369.27,1321.90 382.68,1287.60 396.08,1255.40 409.48,1226.40 422.88,1198.60 436.29,1174.70 449.69,1152.50 463.09,1135.40 476.50,1123.00 489.90,1114.10 503.30,1111.40 516.71,1111.40 530.11,1116.30 543.51,1124.30 556.91,1136.30 570.32,1151.30 583.72,1169.30 597.12,1190.50 610.53,1216.40 623.93,1242.10 637.33,1272.10 650.74,1303.60 664.14,1335.00 677.54,1368.30 690.94,1400.00 704.35,1430.00 717.75,1460.60 731.15,1488.50 744.56,1515.70 757.96,1541.40 771.36,1565.60 784.77,1587.50 798.17,1608.60 811.57,1626.40 824.97,1643.40 838.38,1658.50 851.78,1671.30 865.18,1682.60 878.59,1692.10 891.99,1700.00 905.39,1706.50 918.80,1712.10 932.20,1716.20 945.60,1719.30 959.00,1721.40 972.41,1723.20 985.81,1724.60 999.21,1725.40 1012.62,1726.10 1026.02,1726.40 1039.42,1726.54 1052.83,1726.65 1066.23,1726.76 1079.63,1726.85 1093.03,1726.92 1106.44,1726.99 1119.84,1727.05 1133.24,1727.11 1146.65,1727.16 1160.05,1727.21 1173.45,1727.25 1186.86,1727.30 1200.26,1727.35 1213.66,1727.40 1227.06,1727.44 1240.47,1727.49 1253.87,1727.53 1267.27,1727.57 1280.68,1727.61 1294.08,1727.65 1307.48,1727.68 1320.88,1727.71 1334.29,1727.74 1347.69,1727.76 1361.09,1727.78 1374.50,1727.80" stroke="#e51e10" stroke-width="1" fill="none" stroke-linejoin="round"/>
<g shape-rendering="crispEdges"><path d="M44.00 1725.00l7 7M44.00 1732.00l7 -7" stroke="#e51e10" fill="none"/><path d="M58.00 1725.00l7 7M58.00 1732.00l7 -7" stroke="#e51e10" fill="none"/><path d="M71.00 1725.00l7 7M71.00 1732.00l7 -7" stroke="#e51e10" fill="none"/><path d="M84.00 1724.00l7 7M84.00 1731.00l7 -7" stroke="#e51e10" fill="none"/><path d="M98.00 1723.00l7 7M98.00 1730.00l7 -7" stroke="#e51e10" fill="none"/><path d="M111.00 1722.00l7 7M111.00 1729.00l7 -7" stroke="#e51e10" fill="none"/><path d="M125.00 1720.00l7 7M125.00 1727.00l7 -7" stroke="#e51e10" fill="none"/><path d="M138.00 1719.00l7 7M138.00 1726.00l7 -7" stroke="#e51e10" fill="none"/><path d="M151.00 1717.00l7 7M151.00 1724.00l7 -7" stroke="#e51e10" fill="none"/><path d="M165.00 1714.00l7 7M165.00 1721.00l7 -7" stroke="#e51e10" fill="none"/><path d="M178.00 1708.00l7 7M178.00 1715.00l7 -7" stroke="#e51e10" fill="none"/><path d="M192.00 1697.00l7 7M192.00 1704.00l7 -7" stroke="#e51e10" fill="none"/><path d="M205.00 1683.00l7 7M205.00 1690.00l7 -7" stroke="#e51e10" fill="none"/><path d="M218.00 1667.00l7 7M218.00 1674.00l7 -7" stroke="#e51e10" fill="none"/><path d="M232.00 1645.00l7 7M232.00 1652.00l7 -7" stroke="#e51e10" fill="none"/><path d="M245.00 1620.00l7 7M245.00 1627.00l7 -7" stroke="#e51e10" fill="none"/><path d="M259.00 1592.00l7 7M259.00 1599.00l7 -7" stroke="#e51e10" fill="none"/><path d="M272.00 1562.00l7 7M272.00 1569.00l7 -7" stroke="#e51e10" fill="none"/><path d="M285.00 1529.00l7 7M285.00 1536.00l7 -7" stroke="#e51e10" fill="none"/><path d="M299.00 1496.00l7 7M299.00 1503.00l7 -7" stroke="#e51e10" fill="none"/><path d="M312.00 1460.00l7 7M312.00 1467.00l7 -7" stroke="#e51e10" fill="none"/><path d="M326.00 1425.00l7 7M326.00 1432.00l7 -7" stroke="#e51e10" fill="none"/><path d="M339.00 1389.00l7 7M339.00 1396.00l7 -7" stroke="#e51e10" fill="none"/><path d="M352.00 1353.00l7 7M352.00 1360.00l7 -7" stroke="#e51e10" fill="none"/><path d="M366.00 1318.00l7 7M366.00 1325.00l7 -7" stroke="#e51e10" fill="none"/><path d="M379.00 1284.00l7 7M379.00 1291.00l7 -7" stroke="#e51e10" fill="none"/><path d="M393.00 1252.00l7 7M393.00 1259.00l7 -7" stroke="#e51e10" fill="none"/><path d="M406.00 1223.00l7 7M406.00 1230.00l7 -7" stroke="#e51e10" fill="none"/><path d="M419.00 1195.00l7 7M419.00 1202.00l7 -7" stroke="#e51e10" fill="none"/><path d="M433.00 1171.00l7 7M433.00 1178.00l7 -7" stroke="#e51e10" fill="none"/><path d="M446.00 1149.00l7 7M446.00 1156.00l7 -7" stroke="#e51e10" fill="none"/><path d="M460.00 1132.00l7 7M460.00 1139.00l7 -7" stroke="#e51e10" fill="none"/><path d="M473.00 1120.00l7 7M473.00 1127.00l7 -7" stroke="#e51e10" fill="none"/><path d="M486.00 1111.00l7 7M486.00 1118.00l7 -7" stroke="#e51e10" fill="none"/><path d="M500.00 1108.00l7 7M500.00 1115.00l7 -7" stroke="#e51e10" fill="none"/><path d="M513.00 1108.00l7 7M513.00 1115.00l7 -7" stroke="#e51e10" fill="none"/><path d="M527.00 1113.00l7 7M527.00 1120.00l7 -7" stroke="#e51e10" fill="none"/><path d="M540.00 1121.00l7 7M540.00 1128.00l7 -7" stroke="#e51e10" fill="none"/><path d="M553.00 1133.00l7 7M553.00 1140.00l7 -7" stroke="#e51e10" fill="none"/><path d="M567.00 1148.00l7 7M567.00 1155.00l7 -7" stroke="#e51e10" fill="none"/><path d="M580.00 1166.00l7 7M580.00 1173.00l7 -7" stroke="#e51e10" fill="none"/><path d="M594.00 1187.00l7 7M594.00 1194.00l7 -7" stroke="#e51e10" fill="none"/><path d="M607.00 1213.00l7 7M607.00 1220.00l7 -7" stroke="#e51e10" fill="none"/><path d="M620.00 1239.00l7 7M620.00 1246.00l7 -7" stroke="#e51e10" fill="none"/><path d="M634.00 1269.00l7 7M634.00 1276.00l7 -7" stroke="#e51e10" fill="none"/><path d="M647.00 1300.00l7 7M647.00 1307.00l7 -7" stroke="#e51e10" fill="none"/><path d="M661.00 1332.00l7 7M661.00 1339.00l7 -7" stroke="#e51e10" fill="none"/><path d="M674.00 1365.00l7 7M674.00 1372.00l7 -7" stroke="#e51e10" fill="none"/><path d="M687.00 1397.00l7 7M687.00 1404.00l7 -7" stroke="#e51e10" fill="none"/><path d="M701.00 1427.00l7 7M701.00 1434.00l7 -7" stroke="#e51e10" fill="none"/><path d="M714.00 1457.00l7 7M714.00 1464.00l7 -7" stroke="#e51e10" fill="none"/><path d="M728.00 1485.00l7 7M728.00 1492.00l7 -7" stroke="#e51e10" fill="none"/><path d="M741.00 1512.00l7 7M741.00 1519.00l7 -7" stroke="#e51e10" fill="none"/><path d="M754.00 1538.00l7 7M754.00 1545.00l7 -7" stroke="#e51e10" fill="none"/><path d="M768.00 1562.00l7 7M768.00 1569.00l7 -7" stroke="#e51e10" fill="none"/><path d="M781.00 1584.00l7 7M781.00 1591.00l7 -7" stroke="#e51e10" fill="none"/><path d="M795.00 1605.00l7 7M795.00 1612.00l7 -7" stroke="#e51e10" fill="none"/><path d="M808.00 1623.00l7 7M808.00 1630.00l7 -7" stroke="#e51e10" fill="none"/><path d="M821.00 1640.00l7 7M821.00 1647.00l7 -7" stroke="#e51e10" fill="none"/><path d="M835.00 1655.00l7 7M835.00 1662.00l7 -7" stroke="#e51e10" fill="none"/><path d="M848.00 1668.00l7 7M848.00 1675.00l7 -7" stroke="#e51e10" fill="none"/><path d="M862.00 1679.00l7 7M862.00 1686.00l7 -7" stroke="#e51e10" fill="none"/><path d="M875.00 1689.00l7 7M875.00 1696.00l7 -7" stroke="#e51e10" fill="none"/><path d="M888.00 1697.00l7 7M888.00 1704.00l7 -7" stroke="#e51e10" fill="none"/><path d="M902.00 1703.00l7 7M902.00 1710.00l7 -7" stroke="#e51e10" fill="none"/><path d="M915.00 1709.00l7 7M915.00 1716.00l7 -7" stroke="#e51e10" fill="none"/><path d="M929.00 1713.00l7 7M929.00 1720.00l7 -7" stroke="#e51e10" fill="none"/><path d="M942.00 1716.00l7 7M942.00 1723.00l7 -7" stroke="#e51e10" fill="none"/><path d="M956.00 1718.00l7 7M956.00 1725.00l7 -7" stroke="#e51e10" fill="none"/><path d="M969.00 1720.00l7 7M969.00 1727.00l7 -7" stroke="#e51e10" fill="none"/><path d="M982.00 1721.00l7 7M982.00 1728.00l7 -7" stroke="#e51e10" fill="none"/><path d="M996.00 1722.00l7 7M996.00 1729.00l7 -7" stroke="#e51e10" fill="none"/><path d="M1009.00 1723.00l7 7M1009.00 1730.00l7 -7" stroke="#e51e10" fill="none"/><path d="M1023.00 1723.00l7 7M1023.00 1730.00l7 -7" stroke="#e51e10" fill="none"/><path d="M1036.00 1723.00l7 7M1036.00 1730.00l7 -7" stroke="#e51e10" fill="none"/><path d="M1049.00 1723.00l7 7M1049.00 1730.00l7 -7" stroke="#e51e10" fill="none"/><path d="M1063.00 1723.00l7 7M1063.00 1730.00l7 -7" stroke="#e51e10" fill="none"/><path d="M1076.00 1723.00l7 7M1076.00 1730.00l7 -7" stroke="#e51e10" fill="none"/><path d="M1090.00 1723.00l7 7M1090.00 1730.00l7 -7" stroke="#e51e10" fill="none"/><path d="M1103.00 1723.00l7 7M1103.00 1730.00l7 -7" stroke="#e51e10" fill="none"/><path d="M1116.00 1724.00l7 7M1116.00 1731.00l7 -7" stroke="#e51e10" fill="none"/><path d="M1130.00 1724.00l7 7M1130.00 1731.00l7 -7" stroke="#e51e10" fill="none"/><path d="M1143.00 1724.00l7 7M1143.00 1731.00l7 -7" stroke="#e51e10" fill="none"/><path d="M1157.00 1724.00l7 7M1157.00 1731.00l7 -7" stroke="#e51e10" fill="none"/><path d="M1170.00 1724.00l7 7M1170.00 1731.00l7 -7" stroke="#e51e10" fill="none"/><path d="M1183.00 1724.00l7 7M1183.00 1731.00l7 -7" stroke="#e51e10" fill="none"/><path d="M1197.00 1724.00l7 7M1197.00 1731.00l7 -7" stroke="#e51e10" fill="none"/><path d="M1210.00 1724.00l7 7M1210.00 1731.00l7 -7" stroke="#e51e10" fill="none"/><path d="M1224.00 1724.00l7 7M1224.00 1731.00l7 -7" stroke="#e51e10" fill="none"/><path d="M1237.00 1724.00l7 7M1237.00 1731.00l7 -7" stroke="#e51e10" fill="none"/><path d="M1250.00 1724.00l7 7M1250.00 1731.00l7 -7" stroke="#e51e10" fill="none"/><path d="M1264.00 1724.00l7 7M1264.00 1731.00l7 -7" stroke="#e51e10" fill="none"/><path d="M1277.00 1724.00l7 7M1277.00 1731.00l7 -7" stroke="#e51e10" fill="none"/><path d="M1291.00 1724.00l7 7M1291.00 1731.00l7 -7" stroke="#e51e10" fill="none"/><path d="M1304.00 1724.00l7 7M1304.00 1731.00l7 -7" stroke="#e51e10" fill="none"/><path d="M1317.00 1724.00l7 7M1317.00 1731.00l7 -7" stroke="#e51e10" fill="none"/><path d="M1331.00 1724.00l7 7M1331.00 1731.00l7 -7" stroke="#e51e10" fill="none"/><path d="M1344.00 1724.00l7 7M1344.00 1731.00l7 -7" stroke="#e51e10" fill="none"/><path d="M1358.00 1724.00l7 7M1358.00 1731.00l7 -7" stroke="#e51e10" fill="none"/><path d="M1371.00 1724.00l7 7M1371.00 1731.00l7 -7" stroke="#e51e10" fill="none"/></g>
</g>
<g>
<path d="M1137.5 1863.5H1179.6" stroke="#000000" stroke-width="1"/>
<path d="M1155.00 1863.50h7M1158.50 1860.00v7M1155.00 1860.00l7 7M1155.00 1867.00l7 -7" stroke="#000000" fill="none"/>
<text style="will-change:transform" x="1129.7" y="1865.8" text-anchor="end" font-family="&quot;Liberation Sans&quot;, sans-serif" font-size="12.5" textLength="296.8" lengthAdjust="spacingAndGlyphs">[?] CDC Wren IV 94191-5374 667M 3600RPM SCSI Read</text>
<polyline points="47.60,1727.50 61.00,1727.49 74.41,1727.45 87.81,1727.39 101.21,1727.31 114.62,1727.22 128.02,1727.10 141.42,1726.97 154.82,1726.82 168.23,1726.67 181.63,1726.50 195.03,1726.26 208.44,1725.90 221.84,1725.47 235.24,1725.00 248.65,1724.47 262.05,1723.84 275.45,1723.10 288.85,1722.10 302.26,1720.00 315.66,1718.30 329.06,1714.30 342.47,1710.30 355.87,1705.40 369.27,1700.30 382.68,1693.10 396.08,1686.40 409.48,1678.60 422.88,1669.30 436.29,1659.30 449.69,1649.30 463.09,1638.60 476.50,1627.10 489.90,1615.40 503.30,1603.60 516.71,1591.40 530.11,1579.30 543.51,1568.30 556.91,1556.40 570.32,1545.70 583.72,1535.70 597.12,1525.50 610.53,1515.70 623.93,1506.20 637.33,1496.80 650.74,1486.60 664.14,1476.90 677.54,1466.60 690.94,1455.70 704.35,1445.40 717.75,1436.40 731.15,1428.60 744.56,1421.40 757.96,1414.30 771.36,1409.30 784.77,1405.40 798.17,1400.30 811.57,1397.40 824.97,1393.60 838.38,1388.90 851.78,1385.40 865.18,1382.10 878.59,1379.30 891.99,1376.40 905.39,1375.00 918.80,1374.30 932.20,1375.00 945.60,1377.60 959.00,1380.40 972.41,1384.30 985.81,1389.30 999.21,1393.60 1012.62,1397.90 1026.02,1403.20 1039.42,1407.10 1052.83,1412.50 1066.23,1416.80 1079.63,1423.20 1093.03,1430.40 1106.44,1439.30 1119.84,1449.70 1133.24,1460.70 1146.65,1471.70 1160.05,1483.60 1173.45,1495.70 1186.86,1506.40 1200.26,1518.60 1213.66,1529.70 1227.06,1539.70 1240.47,1550.40 1253.87,1560.50 1267.27,1570.50 1280.68,1578.60 1294.08,1584.70 1307.48,1589.80 1320.88,1595.50 1334.29,1604.50 1347.69,1623.60 1361.09,1642.30 1374.50,1618.40" stroke="#000000" stroke-width="1" fill="none" stroke-linejoin="round"/>
<g shape-rendering="crispEdges"><path d="M44.00 1727.50h7M47.50 1724.00v7M44.00 1724.00l7 7M44.00 1731.00l7 -7" stroke="#000000" fill="none"/><path d="M58.00 1727.50h7M61.50 1724.00v7M58.00 1724.00l7 7M58.00 1731.00l7 -7" stroke="#000000" fill="none"/><path d="M71.00 1727.50h7M74.50 1724.00v7M71.00 1724.00l7 7M71.00 1731.00l7 -7" stroke="#000000" fill="none"/><path d="M84.00 1727.50h7M87.50 1724.00v7M84.00 1724.00l7 7M84.00 1731.00l7 -7" stroke="#000000" fill="none"/><path d="M98.00 1727.50h7M101.50 1724.00v7M98.00 1724.00l7 7M98.00 1731.00l7 -7" stroke="#000000" fill="none"/><path d="M111.00 1727.50h7M114.50 1724.00v7M111.00 1724.00l7 7M111.00 1731.00l7 -7" stroke="#000000" fill="none"/><path d="M125.00 1727.50h7M128.50 1724.00v7M125.00 1724.00l7 7M125.00 1731.00l7 -7" stroke="#000000" fill="none"/><path d="M138.00 1726.50h7M141.50 1723.00v7M138.00 1723.00l7 7M138.00 1730.00l7 -7" stroke="#000000" fill="none"/><path d="M151.00 1726.50h7M154.50 1723.00v7M151.00 1723.00l7 7M151.00 1730.00l7 -7" stroke="#000000" fill="none"/><path d="M165.00 1726.50h7M168.50 1723.00v7M165.00 1723.00l7 7M165.00 1730.00l7 -7" stroke="#000000" fill="none"/><path d="M178.00 1726.50h7M181.50 1723.00v7M178.00 1723.00l7 7M178.00 1730.00l7 -7" stroke="#000000" fill="none"/><path d="M192.00 1726.50h7M195.50 1723.00v7M192.00 1723.00l7 7M192.00 1730.00l7 -7" stroke="#000000" fill="none"/><path d="M205.00 1725.50h7M208.50 1722.00v7M205.00 1722.00l7 7M205.00 1729.00l7 -7" stroke="#000000" fill="none"/><path d="M218.00 1725.50h7M221.50 1722.00v7M218.00 1722.00l7 7M218.00 1729.00l7 -7" stroke="#000000" fill="none"/><path d="M232.00 1725.50h7M235.50 1722.00v7M232.00 1722.00l7 7M232.00 1729.00l7 -7" stroke="#000000" fill="none"/><path d="M245.00 1724.50h7M248.50 1721.00v7M245.00 1721.00l7 7M245.00 1728.00l7 -7" stroke="#000000" fill="none"/><path d="M259.00 1723.50h7M262.50 1720.00v7M259.00 1720.00l7 7M259.00 1727.00l7 -7" stroke="#000000" fill="none"/><path d="M272.00 1723.50h7M275.50 1720.00v7M272.00 1720.00l7 7M272.00 1727.00l7 -7" stroke="#000000" fill="none"/><path d="M285.00 1722.50h7M288.50 1719.00v7M285.00 1719.00l7 7M285.00 1726.00l7 -7" stroke="#000000" fill="none"/><path d="M299.00 1720.50h7M302.50 1717.00v7M299.00 1717.00l7 7M299.00 1724.00l7 -7" stroke="#000000" fill="none"/><path d="M312.00 1718.50h7M315.50 1715.00v7M312.00 1715.00l7 7M312.00 1722.00l7 -7" stroke="#000000" fill="none"/><path d="M326.00 1714.50h7M329.50 1711.00v7M326.00 1711.00l7 7M326.00 1718.00l7 -7" stroke="#000000" fill="none"/><path d="M339.00 1710.50h7M342.50 1707.00v7M339.00 1707.00l7 7M339.00 1714.00l7 -7" stroke="#000000" fill="none"/><path d="M352.00 1705.50h7M355.50 1702.00v7M352.00 1702.00l7 7M352.00 1709.00l7 -7" stroke="#000000" fill="none"/><path d="M366.00 1700.50h7M369.50 1697.00v7M366.00 1697.00l7 7M366.00 1704.00l7 -7" stroke="#000000" fill="none"/><path d="M379.00 1693.50h7M382.50 1690.00v7M379.00 1690.00l7 7M379.00 1697.00l7 -7" stroke="#000000" fill="none"/><path d="M393.00 1686.50h7M396.50 1683.00v7M393.00 1683.00l7 7M393.00 1690.00l7 -7" stroke="#000000" fill="none"/><path d="M406.00 1678.50h7M409.50 1675.00v7M406.00 1675.00l7 7M406.00 1682.00l7 -7" stroke="#000000" fill="none"/><path d="M419.00 1669.50h7M422.50 1666.00v7M419.00 1666.00l7 7M419.00 1673.00l7 -7" stroke="#000000" fill="none"/><path d="M433.00 1659.50h7M436.50 1656.00v7M433.00 1656.00l7 7M433.00 1663.00l7 -7" stroke="#000000" fill="none"/><path d="M446.00 1649.50h7M449.50 1646.00v7M446.00 1646.00l7 7M446.00 1653.00l7 -7" stroke="#000000" fill="none"/><path d="M460.00 1638.50h7M463.50 1635.00v7M460.00 1635.00l7 7M460.00 1642.00l7 -7" stroke="#000000" fill="none"/><path d="M473.00 1627.50h7M476.50 1624.00v7M473.00 1624.00l7 7M473.00 1631.00l7 -7" stroke="#000000" fill="none"/><path d="M486.00 1615.50h7M489.50 1612.00v7M486.00 1612.00l7 7M486.00 1619.00l7 -7" stroke="#000000" fill="none"/><path d="M500.00 1603.50h7M503.50 1600.00v7M500.00 1600.00l7 7M500.00 1607.00l7 -7" stroke="#000000" fill="none"/><path d="M513.00 1591.50h7M516.50 1588.00v7M513.00 1588.00l7 7M513.00 1595.00l7 -7" stroke="#000000" fill="none"/><path d="M527.00 1579.50h7M530.50 1576.00v7M527.00 1576.00l7 7M527.00 1583.00l7 -7" stroke="#000000" fill="none"/><path d="M540.00 1568.50h7M543.50 1565.00v7M540.00 1565.00l7 7M540.00 1572.00l7 -7" stroke="#000000" fill="none"/><path d="M553.00 1556.50h7M556.50 1553.00v7M553.00 1553.00l7 7M553.00 1560.00l7 -7" stroke="#000000" fill="none"/><path d="M567.00 1545.50h7M570.50 1542.00v7M567.00 1542.00l7 7M567.00 1549.00l7 -7" stroke="#000000" fill="none"/><path d="M580.00 1535.50h7M583.50 1532.00v7M580.00 1532.00l7 7M580.00 1539.00l7 -7" stroke="#000000" fill="none"/><path d="M594.00 1525.50h7M597.50 1522.00v7M594.00 1522.00l7 7M594.00 1529.00l7 -7" stroke="#000000" fill="none"/><path d="M607.00 1515.50h7M610.50 1512.00v7M607.00 1512.00l7 7M607.00 1519.00l7 -7" stroke="#000000" fill="none"/><path d="M620.00 1506.50h7M623.50 1503.00v7M620.00 1503.00l7 7M620.00 1510.00l7 -7" stroke="#000000" fill="none"/><path d="M634.00 1496.50h7M637.50 1493.00v7M634.00 1493.00l7 7M634.00 1500.00l7 -7" stroke="#000000" fill="none"/><path d="M647.00 1486.50h7M650.50 1483.00v7M647.00 1483.00l7 7M647.00 1490.00l7 -7" stroke="#000000" fill="none"/><path d="M661.00 1476.50h7M664.50 1473.00v7M661.00 1473.00l7 7M661.00 1480.00l7 -7" stroke="#000000" fill="none"/><path d="M674.00 1466.50h7M677.50 1463.00v7M674.00 1463.00l7 7M674.00 1470.00l7 -7" stroke="#000000" fill="none"/><path d="M687.00 1455.50h7M690.50 1452.00v7M687.00 1452.00l7 7M687.00 1459.00l7 -7" stroke="#000000" fill="none"/><path d="M701.00 1445.50h7M704.50 1442.00v7M701.00 1442.00l7 7M701.00 1449.00l7 -7" stroke="#000000" fill="none"/><path d="M714.00 1436.50h7M717.50 1433.00v7M714.00 1433.00l7 7M714.00 1440.00l7 -7" stroke="#000000" fill="none"/><path d="M728.00 1428.50h7M731.50 1425.00v7M728.00 1425.00l7 7M728.00 1432.00l7 -7" stroke="#000000" fill="none"/><path d="M741.00 1421.50h7M744.50 1418.00v7M741.00 1418.00l7 7M741.00 1425.00l7 -7" stroke="#000000" fill="none"/><path d="M754.00 1414.50h7M757.50 1411.00v7M754.00 1411.00l7 7M754.00 1418.00l7 -7" stroke="#000000" fill="none"/><path d="M768.00 1409.50h7M771.50 1406.00v7M768.00 1406.00l7 7M768.00 1413.00l7 -7" stroke="#000000" fill="none"/><path d="M781.00 1405.50h7M784.50 1402.00v7M781.00 1402.00l7 7M781.00 1409.00l7 -7" stroke="#000000" fill="none"/><path d="M795.00 1400.50h7M798.50 1397.00v7M795.00 1397.00l7 7M795.00 1404.00l7 -7" stroke="#000000" fill="none"/><path d="M808.00 1397.50h7M811.50 1394.00v7M808.00 1394.00l7 7M808.00 1401.00l7 -7" stroke="#000000" fill="none"/><path d="M821.00 1393.50h7M824.50 1390.00v7M821.00 1390.00l7 7M821.00 1397.00l7 -7" stroke="#000000" fill="none"/><path d="M835.00 1388.50h7M838.50 1385.00v7M835.00 1385.00l7 7M835.00 1392.00l7 -7" stroke="#000000" fill="none"/><path d="M848.00 1385.50h7M851.50 1382.00v7M848.00 1382.00l7 7M848.00 1389.00l7 -7" stroke="#000000" fill="none"/><path d="M862.00 1382.50h7M865.50 1379.00v7M862.00 1379.00l7 7M862.00 1386.00l7 -7" stroke="#000000" fill="none"/><path d="M875.00 1379.50h7M878.50 1376.00v7M875.00 1376.00l7 7M875.00 1383.00l7 -7" stroke="#000000" fill="none"/><path d="M888.00 1376.50h7M891.50 1373.00v7M888.00 1373.00l7 7M888.00 1380.00l7 -7" stroke="#000000" fill="none"/><path d="M902.00 1375.50h7M905.50 1372.00v7M902.00 1372.00l7 7M902.00 1379.00l7 -7" stroke="#000000" fill="none"/><path d="M915.00 1374.50h7M918.50 1371.00v7M915.00 1371.00l7 7M915.00 1378.00l7 -7" stroke="#000000" fill="none"/><path d="M929.00 1375.50h7M932.50 1372.00v7M929.00 1372.00l7 7M929.00 1379.00l7 -7" stroke="#000000" fill="none"/><path d="M942.00 1377.50h7M945.50 1374.00v7M942.00 1374.00l7 7M942.00 1381.00l7 -7" stroke="#000000" fill="none"/><path d="M956.00 1380.50h7M959.50 1377.00v7M956.00 1377.00l7 7M956.00 1384.00l7 -7" stroke="#000000" fill="none"/><path d="M969.00 1384.50h7M972.50 1381.00v7M969.00 1381.00l7 7M969.00 1388.00l7 -7" stroke="#000000" fill="none"/><path d="M982.00 1389.50h7M985.50 1386.00v7M982.00 1386.00l7 7M982.00 1393.00l7 -7" stroke="#000000" fill="none"/><path d="M996.00 1393.50h7M999.50 1390.00v7M996.00 1390.00l7 7M996.00 1397.00l7 -7" stroke="#000000" fill="none"/><path d="M1009.00 1397.50h7M1012.50 1394.00v7M1009.00 1394.00l7 7M1009.00 1401.00l7 -7" stroke="#000000" fill="none"/><path d="M1023.00 1403.50h7M1026.50 1400.00v7M1023.00 1400.00l7 7M1023.00 1407.00l7 -7" stroke="#000000" fill="none"/><path d="M1036.00 1407.50h7M1039.50 1404.00v7M1036.00 1404.00l7 7M1036.00 1411.00l7 -7" stroke="#000000" fill="none"/><path d="M1049.00 1412.50h7M1052.50 1409.00v7M1049.00 1409.00l7 7M1049.00 1416.00l7 -7" stroke="#000000" fill="none"/><path d="M1063.00 1416.50h7M1066.50 1413.00v7M1063.00 1413.00l7 7M1063.00 1420.00l7 -7" stroke="#000000" fill="none"/><path d="M1076.00 1423.50h7M1079.50 1420.00v7M1076.00 1420.00l7 7M1076.00 1427.00l7 -7" stroke="#000000" fill="none"/><path d="M1090.00 1430.50h7M1093.50 1427.00v7M1090.00 1427.00l7 7M1090.00 1434.00l7 -7" stroke="#000000" fill="none"/><path d="M1103.00 1439.50h7M1106.50 1436.00v7M1103.00 1436.00l7 7M1103.00 1443.00l7 -7" stroke="#000000" fill="none"/><path d="M1116.00 1449.50h7M1119.50 1446.00v7M1116.00 1446.00l7 7M1116.00 1453.00l7 -7" stroke="#000000" fill="none"/><path d="M1130.00 1460.50h7M1133.50 1457.00v7M1130.00 1457.00l7 7M1130.00 1464.00l7 -7" stroke="#000000" fill="none"/><path d="M1143.00 1471.50h7M1146.50 1468.00v7M1143.00 1468.00l7 7M1143.00 1475.00l7 -7" stroke="#000000" fill="none"/><path d="M1157.00 1483.50h7M1160.50 1480.00v7M1157.00 1480.00l7 7M1157.00 1487.00l7 -7" stroke="#000000" fill="none"/><path d="M1170.00 1495.50h7M1173.50 1492.00v7M1170.00 1492.00l7 7M1170.00 1499.00l7 -7" stroke="#000000" fill="none"/><path d="M1183.00 1506.50h7M1186.50 1503.00v7M1183.00 1503.00l7 7M1183.00 1510.00l7 -7" stroke="#000000" fill="none"/><path d="M1197.00 1518.50h7M1200.50 1515.00v7M1197.00 1515.00l7 7M1197.00 1522.00l7 -7" stroke="#000000" fill="none"/><path d="M1210.00 1529.50h7M1213.50 1526.00v7M1210.00 1526.00l7 7M1210.00 1533.00l7 -7" stroke="#000000" fill="none"/><path d="M1224.00 1539.50h7M1227.50 1536.00v7M1224.00 1536.00l7 7M1224.00 1543.00l7 -7" stroke="#000000" fill="none"/><path d="M1237.00 1550.50h7M1240.50 1547.00v7M1237.00 1547.00l7 7M1237.00 1554.00l7 -7" stroke="#000000" fill="none"/><path d="M1250.00 1560.50h7M1253.50 1557.00v7M1250.00 1557.00l7 7M1250.00 1564.00l7 -7" stroke="#000000" fill="none"/><path d="M1264.00 1570.50h7M1267.50 1567.00v7M1264.00 1567.00l7 7M1264.00 1574.00l7 -7" stroke="#000000" fill="none"/><path d="M1277.00 1578.50h7M1280.50 1575.00v7M1277.00 1575.00l7 7M1277.00 1582.00l7 -7" stroke="#000000" fill="none"/><path d="M1291.00 1584.50h7M1294.50 1581.00v7M1291.00 1581.00l7 7M1291.00 1588.00l7 -7" stroke="#000000" fill="none"/><path d="M1304.00 1589.50h7M1307.50 1586.00v7M1304.00 1586.00l7 7M1304.00 1593.00l7 -7" stroke="#000000" fill="none"/><path d="M1317.00 1595.50h7M1320.50 1592.00v7M1317.00 1592.00l7 7M1317.00 1599.00l7 -7" stroke="#000000" fill="none"/><path d="M1331.00 1604.50h7M1334.50 1601.00v7M1331.00 1601.00l7 7M1331.00 1608.00l7 -7" stroke="#000000" fill="none"/><path d="M1344.00 1623.50h7M1347.50 1620.00v7M1344.00 1620.00l7 7M1344.00 1627.00l7 -7" stroke="#000000" fill="none"/><path d="M1358.00 1642.50h7M1361.50 1639.00v7M1358.00 1639.00l7 7M1358.00 1646.00l7 -7" stroke="#000000" fill="none"/><path d="M1371.00 1618.50h7M1374.50 1615.00v7M1371.00 1615.00l7 7M1371.00 1622.00l7 -7" stroke="#000000" fill="none"/></g>
</g>
<g>
<path d="M1137.5 1880.5H1179.6" stroke="#9400d3" stroke-width="1"/>
<rect x="1155.50" y="1877.50" width="6" height="6" stroke="#9400d3" fill="none"/>
<text style="will-change:transform" x="1129.7" y="1882.8" text-anchor="end" font-family="&quot;Liberation Sans&quot;, sans-serif" font-size="12.5" textLength="287.9" lengthAdjust="spacingAndGlyphs">[?] Seagate Elite ST43400N 2.9G 5400RPM SCSI Read</text>
<polyline points="47.60,1728.50 61.00,1728.37 74.41,1728.02 87.81,1727.47 101.21,1726.75 114.62,1725.91 128.02,1724.96 141.42,1723.95 154.82,1722.90 168.23,1721.40 181.63,1717.90 195.03,1712.10 208.44,1705.00 221.84,1695.00 235.24,1684.30 248.65,1672.10 262.05,1657.10 275.45,1642.10 288.85,1625.40 302.26,1608.30 315.66,1590.30 329.06,1571.40 342.47,1551.40 355.87,1530.40 369.27,1507.60 382.68,1484.30 396.08,1459.40 409.48,1435.40 422.88,1411.40 436.29,1388.40 449.69,1366.30 463.09,1346.40 476.50,1328.20 489.90,1311.60 503.30,1295.50 516.71,1281.40 530.11,1268.60 543.51,1256.60 556.91,1246.60 570.32,1238.20 583.72,1232.30 597.12,1228.50 610.53,1227.40 623.93,1229.30 637.33,1233.60 650.74,1240.00 664.14,1249.60 677.54,1261.40 690.94,1274.60 704.35,1290.30 717.75,1307.40 731.15,1325.40 744.56,1344.30 757.96,1363.30 771.36,1382.60 784.77,1401.10 798.17,1419.70 811.57,1438.30 824.97,1456.30 838.38,1474.20 851.78,1492.30 865.18,1510.40 878.59,1528.50 891.99,1545.50 905.39,1563.30 918.80,1580.00 932.20,1597.40 945.60,1614.60 959.00,1629.30 972.41,1643.60 985.81,1656.40 999.21,1667.20 1012.62,1677.10 1026.02,1686.40 1039.42,1694.60 1052.83,1700.20 1066.23,1704.50 1079.63,1710.30 1093.03,1714.30 1106.44,1718.30 1119.84,1721.10 1133.24,1722.90 1146.65,1724.60 1160.05,1725.70 1173.45,1726.40 1186.86,1726.77 1200.26,1727.00 1213.66,1727.14 1227.06,1727.27 1240.47,1727.39 1253.87,1727.50 1267.27,1727.60 1280.68,1727.69 1294.08,1727.77 1307.48,1727.84 1320.88,1727.90 1334.29,1727.94 1347.69,1727.97 1361.09,1727.99 1374.50,1728.00" stroke="#9400d3" stroke-width="1" fill="none" stroke-linejoin="round"/>
<g shape-rendering="crispEdges"><rect x="44.50" y="1725.50" width="6" height="6" stroke="#9400d3" fill="none"/><rect x="58.50" y="1725.50" width="6" height="6" stroke="#9400d3" fill="none"/><rect x="71.50" y="1725.50" width="6" height="6" stroke="#9400d3" fill="none"/><rect x="84.50" y="1724.50" width="6" height="6" stroke="#9400d3" fill="none"/><rect x="98.50" y="1723.50" width="6" height="6" stroke="#9400d3" fill="none"/><rect x="111.50" y="1722.50" width="6" height="6" stroke="#9400d3" fill="none"/><rect x="125.50" y="1721.50" width="6" height="6" stroke="#9400d3" fill="none"/><rect x="138.50" y="1720.50" width="6" height="6" stroke="#9400d3" fill="none"/><rect x="151.50" y="1719.50" width="6" height="6" stroke="#9400d3" fill="none"/><rect x="165.50" y="1718.50" width="6" height="6" stroke="#9400d3" fill="none"/><rect x="178.50" y="1714.50" width="6" height="6" stroke="#9400d3" fill="none"/><rect x="192.50" y="1709.50" width="6" height="6" stroke="#9400d3" fill="none"/><rect x="205.50" y="1702.50" width="6" height="6" stroke="#9400d3" fill="none"/><rect x="218.50" y="1692.50" width="6" height="6" stroke="#9400d3" fill="none"/><rect x="232.50" y="1681.50" width="6" height="6" stroke="#9400d3" fill="none"/><rect x="245.50" y="1669.50" width="6" height="6" stroke="#9400d3" fill="none"/><rect x="259.50" y="1654.50" width="6" height="6" stroke="#9400d3" fill="none"/><rect x="272.50" y="1639.50" width="6" height="6" stroke="#9400d3" fill="none"/><rect x="285.50" y="1622.50" width="6" height="6" stroke="#9400d3" fill="none"/><rect x="299.50" y="1605.50" width="6" height="6" stroke="#9400d3" fill="none"/><rect x="312.50" y="1587.50" width="6" height="6" stroke="#9400d3" fill="none"/><rect x="326.50" y="1568.50" width="6" height="6" stroke="#9400d3" fill="none"/><rect x="339.50" y="1548.50" width="6" height="6" stroke="#9400d3" fill="none"/><rect x="352.50" y="1527.50" width="6" height="6" stroke="#9400d3" fill="none"/><rect x="366.50" y="1504.50" width="6" height="6" stroke="#9400d3" fill="none"/><rect x="379.50" y="1481.50" width="6" height="6" stroke="#9400d3" fill="none"/><rect x="393.50" y="1456.50" width="6" height="6" stroke="#9400d3" fill="none"/><rect x="406.50" y="1432.50" width="6" height="6" stroke="#9400d3" fill="none"/><rect x="419.50" y="1408.50" width="6" height="6" stroke="#9400d3" fill="none"/><rect x="433.50" y="1385.50" width="6" height="6" stroke="#9400d3" fill="none"/><rect x="446.50" y="1363.50" width="6" height="6" stroke="#9400d3" fill="none"/><rect x="460.50" y="1343.50" width="6" height="6" stroke="#9400d3" fill="none"/><rect x="473.50" y="1325.50" width="6" height="6" stroke="#9400d3" fill="none"/><rect x="486.50" y="1308.50" width="6" height="6" stroke="#9400d3" fill="none"/><rect x="500.50" y="1292.50" width="6" height="6" stroke="#9400d3" fill="none"/><rect x="513.50" y="1278.50" width="6" height="6" stroke="#9400d3" fill="none"/><rect x="527.50" y="1265.50" width="6" height="6" stroke="#9400d3" fill="none"/><rect x="540.50" y="1253.50" width="6" height="6" stroke="#9400d3" fill="none"/><rect x="553.50" y="1243.50" width="6" height="6" stroke="#9400d3" fill="none"/><rect x="567.50" y="1235.50" width="6" height="6" stroke="#9400d3" fill="none"/><rect x="580.50" y="1229.50" width="6" height="6" stroke="#9400d3" fill="none"/><rect x="594.50" y="1225.50" width="6" height="6" stroke="#9400d3" fill="none"/><rect x="607.50" y="1224.50" width="6" height="6" stroke="#9400d3" fill="none"/><rect x="620.50" y="1226.50" width="6" height="6" stroke="#9400d3" fill="none"/><rect x="634.50" y="1230.50" width="6" height="6" stroke="#9400d3" fill="none"/><rect x="647.50" y="1237.50" width="6" height="6" stroke="#9400d3" fill="none"/><rect x="661.50" y="1246.50" width="6" height="6" stroke="#9400d3" fill="none"/><rect x="674.50" y="1258.50" width="6" height="6" stroke="#9400d3" fill="none"/><rect x="687.50" y="1271.50" width="6" height="6" stroke="#9400d3" fill="none"/><rect x="701.50" y="1287.50" width="6" height="6" stroke="#9400d3" fill="none"/><rect x="714.50" y="1304.50" width="6" height="6" stroke="#9400d3" fill="none"/><rect x="728.50" y="1322.50" width="6" height="6" stroke="#9400d3" fill="none"/><rect x="741.50" y="1341.50" width="6" height="6" stroke="#9400d3" fill="none"/><rect x="754.50" y="1360.50" width="6" height="6" stroke="#9400d3" fill="none"/><rect x="768.50" y="1379.50" width="6" height="6" stroke="#9400d3" fill="none"/><rect x="781.50" y="1398.50" width="6" height="6" stroke="#9400d3" fill="none"/><rect x="795.50" y="1416.50" width="6" height="6" stroke="#9400d3" fill="none"/><rect x="808.50" y="1435.50" width="6" height="6" stroke="#9400d3" fill="none"/><rect x="821.50" y="1453.50" width="6" height="6" stroke="#9400d3" fill="none"/><rect x="835.50" y="1471.50" width="6" height="6" stroke="#9400d3" fill="none"/><rect x="848.50" y="1489.50" width="6" height="6" stroke="#9400d3" fill="none"/><rect x="862.50" y="1507.50" width="6" height="6" stroke="#9400d3" fill="none"/><rect x="875.50" y="1525.50" width="6" height="6" stroke="#9400d3" fill="none"/><rect x="888.50" y="1542.50" width="6" height="6" stroke="#9400d3" fill="none"/><rect x="902.50" y="1560.50" width="6" height="6" stroke="#9400d3" fill="none"/><rect x="915.50" y="1577.50" width="6" height="6" stroke="#9400d3" fill="none"/><rect x="929.50" y="1594.50" width="6" height="6" stroke="#9400d3" fill="none"/><rect x="942.50" y="1611.50" width="6" height="6" stroke="#9400d3" fill="none"/><rect x="956.50" y="1626.50" width="6" height="6" stroke="#9400d3" fill="none"/><rect x="969.50" y="1640.50" width="6" height="6" stroke="#9400d3" fill="none"/><rect x="982.50" y="1653.50" width="6" height="6" stroke="#9400d3" fill="none"/><rect x="996.50" y="1664.50" width="6" height="6" stroke="#9400d3" fill="none"/><rect x="1009.50" y="1674.50" width="6" height="6" stroke="#9400d3" fill="none"/><rect x="1023.50" y="1683.50" width="6" height="6" stroke="#9400d3" fill="none"/><rect x="1036.50" y="1691.50" width="6" height="6" stroke="#9400d3" fill="none"/><rect x="1049.50" y="1697.50" width="6" height="6" stroke="#9400d3" fill="none"/><rect x="1063.50" y="1701.50" width="6" height="6" stroke="#9400d3" fill="none"/><rect x="1076.50" y="1707.50" width="6" height="6" stroke="#9400d3" fill="none"/><rect x="1090.50" y="1711.50" width="6" height="6" stroke="#9400d3" fill="none"/><rect x="1103.50" y="1715.50" width="6" height="6" stroke="#9400d3" fill="none"/><rect x="1116.50" y="1718.50" width="6" height="6" stroke="#9400d3" fill="none"/><rect x="1130.50" y="1719.50" width="6" height="6" stroke="#9400d3" fill="none"/><rect x="1143.50" y="1721.50" width="6" height="6" stroke="#9400d3" fill="none"/><rect x="1157.50" y="1722.50" width="6" height="6" stroke="#9400d3" fill="none"/><rect x="1170.50" y="1723.50" width="6" height="6" stroke="#9400d3" fill="none"/><rect x="1183.50" y="1723.50" width="6" height="6" stroke="#9400d3" fill="none"/><rect x="1197.50" y="1724.50" width="6" height="6" stroke="#9400d3" fill="none"/><rect x="1210.50" y="1724.50" width="6" height="6" stroke="#9400d3" fill="none"/><rect x="1224.50" y="1724.50" width="6" height="6" stroke="#9400d3" fill="none"/><rect x="1237.50" y="1724.50" width="6" height="6" stroke="#9400d3" fill="none"/><rect x="1250.50" y="1724.50" width="6" height="6" stroke="#9400d3" fill="none"/><rect x="1264.50" y="1724.50" width="6" height="6" stroke="#9400d3" fill="none"/><rect x="1277.50" y="1724.50" width="6" height="6" stroke="#9400d3" fill="none"/><rect x="1291.50" y="1724.50" width="6" height="6" stroke="#9400d3" fill="none"/><rect x="1304.50" y="1724.50" width="6" height="6" stroke="#9400d3" fill="none"/><rect x="1317.50" y="1724.50" width="6" height="6" stroke="#9400d3" fill="none"/><rect x="1331.50" y="1724.50" width="6" height="6" stroke="#9400d3" fill="none"/><rect x="1344.50" y="1724.50" width="6" height="6" stroke="#9400d3" fill="none"/><rect x="1358.50" y="1724.50" width="6" height="6" stroke="#9400d3" fill="none"/><rect x="1371.50" y="1725.50" width="6" height="6" stroke="#9400d3" fill="none"/></g>
</g>
<g>
<path d="M1137.5 1897.5H1179.6" stroke="#009e73" stroke-width="1"/>
<rect x="1155.00" y="1894.00" width="7" height="7" fill="#009e73"/>
<text style="will-change:transform" x="1129.7" y="1899.8" text-anchor="end" font-family="&quot;Liberation Sans&quot;, sans-serif" font-size="12.5" textLength="329.8" lengthAdjust="spacingAndGlyphs">[flax] Seagate ST446452W 47GB 5.25&quot; 14p 5kRPM SCSI Read</text>
<polyline points="47.60,1728.50 61.00,1728.45 74.41,1728.30 87.81,1728.05 101.21,1727.71 114.62,1727.26 128.02,1726.72 141.42,1726.08 154.82,1725.35 168.23,1724.52 181.63,1723.60 195.03,1721.40 208.44,1717.90 221.84,1713.60 235.24,1705.70 248.65,1697.10 262.05,1687.10 275.45,1675.40 288.85,1663.10 302.26,1651.40 315.66,1639.30 329.06,1627.40 342.47,1614.30 355.87,1600.00 369.27,1586.40 382.68,1569.30 396.08,1552.10 409.48,1533.40 422.88,1515.30 436.29,1496.40 449.69,1477.40 463.09,1459.50 476.50,1441.30 489.90,1424.60 503.30,1407.20 516.71,1391.20 530.11,1374.30 543.51,1359.00 556.91,1344.30 570.32,1330.40 583.72,1317.40 597.12,1305.30 610.53,1296.40 623.93,1287.40 637.33,1281.40 650.74,1277.40 664.14,1275.40 677.54,1276.40 690.94,1278.30 704.35,1282.10 717.75,1288.30 731.15,1295.40 744.56,1304.30 757.96,1314.00 771.36,1326.40 784.77,1339.30 798.17,1353.60 811.57,1368.30 824.97,1383.10 838.38,1399.30 851.78,1415.00 865.18,1430.30 878.59,1446.00 891.99,1461.30 905.39,1476.40 918.80,1491.50 932.20,1505.40 945.60,1519.30 959.00,1533.10 972.41,1546.40 985.81,1559.30 999.21,1572.10 1012.62,1585.40 1026.02,1598.30 1039.42,1610.50 1052.83,1621.20 1066.23,1632.40 1079.63,1642.40 1093.03,1651.20 1106.44,1660.40 1119.84,1667.20 1133.24,1674.30 1146.65,1681.40 1160.05,1687.30 1173.45,1693.00 1186.86,1699.30 1200.26,1705.40 1213.66,1710.50 1227.06,1714.30 1240.47,1717.40 1253.87,1719.70 1267.27,1721.40 1280.68,1722.70 1294.08,1724.30 1307.48,1725.00 1320.88,1725.40 1334.29,1725.80 1347.69,1725.00 1361.09,1724.30 1374.50,1727.70" stroke="#009e73" stroke-width="1" fill="none" stroke-linejoin="round"/>
<g shape-rendering="crispEdges"><rect x="44.00" y="1725.00" width="7" height="7" fill="#009e73"/><rect x="58.00" y="1725.00" width="7" height="7" fill="#009e73"/><rect x="71.00" y="1725.00" width="7" height="7" fill="#009e73"/><rect x="84.00" y="1725.00" width="7" height="7" fill="#009e73"/><rect x="98.00" y="1724.00" width="7" height="7" fill="#009e73"/><rect x="111.00" y="1724.00" width="7" height="7" fill="#009e73"/><rect x="125.00" y="1723.00" width="7" height="7" fill="#009e73"/><rect x="138.00" y="1723.00" width="7" height="7" fill="#009e73"/><rect x="151.00" y="1722.00" width="7" height="7" fill="#009e73"/><rect x="165.00" y="1721.00" width="7" height="7" fill="#009e73"/><rect x="178.00" y="1720.00" width="7" height="7" fill="#009e73"/><rect x="192.00" y="1718.00" width="7" height="7" fill="#009e73"/><rect x="205.00" y="1714.00" width="7" height="7" fill="#009e73"/><rect x="218.00" y="1710.00" width="7" height="7" fill="#009e73"/><rect x="232.00" y="1702.00" width="7" height="7" fill="#009e73"/><rect x="245.00" y="1694.00" width="7" height="7" fill="#009e73"/><rect x="259.00" y="1684.00" width="7" height="7" fill="#009e73"/><rect x="272.00" y="1672.00" width="7" height="7" fill="#009e73"/><rect x="285.00" y="1660.00" width="7" height="7" fill="#009e73"/><rect x="299.00" y="1648.00" width="7" height="7" fill="#009e73"/><rect x="312.00" y="1636.00" width="7" height="7" fill="#009e73"/><rect x="326.00" y="1624.00" width="7" height="7" fill="#009e73"/><rect x="339.00" y="1611.00" width="7" height="7" fill="#009e73"/><rect x="352.00" y="1597.00" width="7" height="7" fill="#009e73"/><rect x="366.00" y="1583.00" width="7" height="7" fill="#009e73"/><rect x="379.00" y="1566.00" width="7" height="7" fill="#009e73"/><rect x="393.00" y="1549.00" width="7" height="7" fill="#009e73"/><rect x="406.00" y="1530.00" width="7" height="7" fill="#009e73"/><rect x="419.00" y="1512.00" width="7" height="7" fill="#009e73"/><rect x="433.00" y="1493.00" width="7" height="7" fill="#009e73"/><rect x="446.00" y="1474.00" width="7" height="7" fill="#009e73"/><rect x="460.00" y="1456.00" width="7" height="7" fill="#009e73"/><rect x="473.00" y="1438.00" width="7" height="7" fill="#009e73"/><rect x="486.00" y="1421.00" width="7" height="7" fill="#009e73"/><rect x="500.00" y="1404.00" width="7" height="7" fill="#009e73"/><rect x="513.00" y="1388.00" width="7" height="7" fill="#009e73"/><rect x="527.00" y="1371.00" width="7" height="7" fill="#009e73"/><rect x="540.00" y="1356.00" width="7" height="7" fill="#009e73"/><rect x="553.00" y="1341.00" width="7" height="7" fill="#009e73"/><rect x="567.00" y="1327.00" width="7" height="7" fill="#009e73"/><rect x="580.00" y="1314.00" width="7" height="7" fill="#009e73"/><rect x="594.00" y="1302.00" width="7" height="7" fill="#009e73"/><rect x="607.00" y="1293.00" width="7" height="7" fill="#009e73"/><rect x="620.00" y="1284.00" width="7" height="7" fill="#009e73"/><rect x="634.00" y="1278.00" width="7" height="7" fill="#009e73"/><rect x="647.00" y="1274.00" width="7" height="7" fill="#009e73"/><rect x="661.00" y="1272.00" width="7" height="7" fill="#009e73"/><rect x="674.00" y="1273.00" width="7" height="7" fill="#009e73"/><rect x="687.00" y="1275.00" width="7" height="7" fill="#009e73"/><rect x="701.00" y="1279.00" width="7" height="7" fill="#009e73"/><rect x="714.00" y="1285.00" width="7" height="7" fill="#009e73"/><rect x="728.00" y="1292.00" width="7" height="7" fill="#009e73"/><rect x="741.00" y="1301.00" width="7" height="7" fill="#009e73"/><rect x="754.00" y="1311.00" width="7" height="7" fill="#009e73"/><rect x="768.00" y="1323.00" width="7" height="7" fill="#009e73"/><rect x="781.00" y="1336.00" width="7" height="7" fill="#009e73"/><rect x="795.00" y="1350.00" width="7" height="7" fill="#009e73"/><rect x="808.00" y="1365.00" width="7" height="7" fill="#009e73"/><rect x="821.00" y="1380.00" width="7" height="7" fill="#009e73"/><rect x="835.00" y="1396.00" width="7" height="7" fill="#009e73"/><rect x="848.00" y="1412.00" width="7" height="7" fill="#009e73"/><rect x="862.00" y="1427.00" width="7" height="7" fill="#009e73"/><rect x="875.00" y="1443.00" width="7" height="7" fill="#009e73"/><rect x="888.00" y="1458.00" width="7" height="7" fill="#009e73"/><rect x="902.00" y="1473.00" width="7" height="7" fill="#009e73"/><rect x="915.00" y="1488.00" width="7" height="7" fill="#009e73"/><rect x="929.00" y="1502.00" width="7" height="7" fill="#009e73"/><rect x="942.00" y="1516.00" width="7" height="7" fill="#009e73"/><rect x="956.00" y="1530.00" width="7" height="7" fill="#009e73"/><rect x="969.00" y="1543.00" width="7" height="7" fill="#009e73"/><rect x="982.00" y="1556.00" width="7" height="7" fill="#009e73"/><rect x="996.00" y="1569.00" width="7" height="7" fill="#009e73"/><rect x="1009.00" y="1582.00" width="7" height="7" fill="#009e73"/><rect x="1023.00" y="1595.00" width="7" height="7" fill="#009e73"/><rect x="1036.00" y="1607.00" width="7" height="7" fill="#009e73"/><rect x="1049.00" y="1618.00" width="7" height="7" fill="#009e73"/><rect x="1063.00" y="1629.00" width="7" height="7" fill="#009e73"/><rect x="1076.00" y="1639.00" width="7" height="7" fill="#009e73"/><rect x="1090.00" y="1648.00" width="7" height="7" fill="#009e73"/><rect x="1103.00" y="1657.00" width="7" height="7" fill="#009e73"/><rect x="1116.00" y="1664.00" width="7" height="7" fill="#009e73"/><rect x="1130.00" y="1671.00" width="7" height="7" fill="#009e73"/><rect x="1143.00" y="1678.00" width="7" height="7" fill="#009e73"/><rect x="1157.00" y="1684.00" width="7" height="7" fill="#009e73"/><rect x="1170.00" y="1690.00" width="7" height="7" fill="#009e73"/><rect x="1183.00" y="1696.00" width="7" height="7" fill="#009e73"/><rect x="1197.00" y="1702.00" width="7" height="7" fill="#009e73"/><rect x="1210.00" y="1707.00" width="7" height="7" fill="#009e73"/><rect x="1224.00" y="1711.00" width="7" height="7" fill="#009e73"/><rect x="1237.00" y="1714.00" width="7" height="7" fill="#009e73"/><rect x="1250.00" y="1716.00" width="7" height="7" fill="#009e73"/><rect x="1264.00" y="1718.00" width="7" height="7" fill="#009e73"/><rect x="1277.00" y="1719.00" width="7" height="7" fill="#009e73"/><rect x="1291.00" y="1721.00" width="7" height="7" fill="#009e73"/><rect x="1304.00" y="1722.00" width="7" height="7" fill="#009e73"/><rect x="1317.00" y="1722.00" width="7" height="7" fill="#009e73"/><rect x="1331.00" y="1722.00" width="7" height="7" fill="#009e73"/><rect x="1344.00" y="1722.00" width="7" height="7" fill="#009e73"/><rect x="1358.00" y="1721.00" width="7" height="7" fill="#009e73"/><rect x="1371.00" y="1724.00" width="7" height="7" fill="#009e73"/></g>
</g>
<path d="M43.5 36.5H1378.5V1728.5H43.5V36.5M43.5 1728.5v-14M43.5 36.5v14M76.5 1728.5v-7M76.5 36.5v7M110.5 1728.5v-7M110.5 36.5v7M143.5 1728.5v-7M143.5 36.5v7M177.5 1728.5v-7M177.5 36.5v7M210.5 1728.5v-14M210.5 36.5v14M243.5 1728.5v-7M243.5 36.5v7M277.5 1728.5v-7M277.5 36.5v7M310.5 1728.5v-7M310.5 36.5v7M343.5 1728.5v-7M343.5 36.5v7M377.5 1728.5v-14M377.5 36.5v14M410.5 1728.5v-7M410.5 36.5v7M444.5 1728.5v-7M444.5 36.5v7M477.5 1728.5v-7M477.5 36.5v7M510.5 1728.5v-7M510.5 36.5v7M544.5 1728.5v-14M544.5 36.5v14M577.5 1728.5v-7M577.5 36.5v7M610.5 1728.5v-7M610.5 36.5v7M644.5 1728.5v-7M644.5 36.5v7M677.5 1728.5v-7M677.5 36.5v7M711.5 1728.5v-14M711.5 36.5v14M744.5 1728.5v-7M744.5 36.5v7M777.5 1728.5v-7M777.5 36.5v7M811.5 1728.5v-7M811.5 36.5v7M844.5 1728.5v-7M844.5 36.5v7M877.5 1728.5v-14M877.5 36.5v14M911.5 1728.5v-7M911.5 36.5v7M944.5 1728.5v-7M944.5 36.5v7M978.5 1728.5v-7M978.5 36.5v7M1011.5 1728.5v-7M1011.5 36.5v7M1044.5 1728.5v-14M1044.5 36.5v14M1078.5 1728.5v-7M1078.5 36.5v7M1111.5 1728.5v-7M1111.5 36.5v7M1144.5 1728.5v-7M1144.5 36.5v7M1178.5 1728.5v-7M1178.5 36.5v7M1211.5 1728.5v-14M1211.5 36.5v14M1245.5 1728.5v-7M1245.5 36.5v7M1278.5 1728.5v-7M1278.5 36.5v7M1311.5 1728.5v-7M1311.5 36.5v7M1345.5 1728.5v-7M1345.5 36.5v7M1378.5 1728.5v-14M1378.5 36.5v14M43.5 1728.5h14M1378.5 1728.5h-14M43.5 1446.5h14M1378.5 1446.5h-14M43.5 1164.5h14M1378.5 1164.5h-14M43.5 882.5h14M1378.5 882.5h-14M43.5 600.5h14M1378.5 600.5h-14M43.5 318.5h14M1378.5 318.5h-14M43.5 36.5h14M1378.5 36.5h-14" stroke="#000" stroke-width="1" fill="none" stroke-linecap="round"/>
</svg>
</body></html>
